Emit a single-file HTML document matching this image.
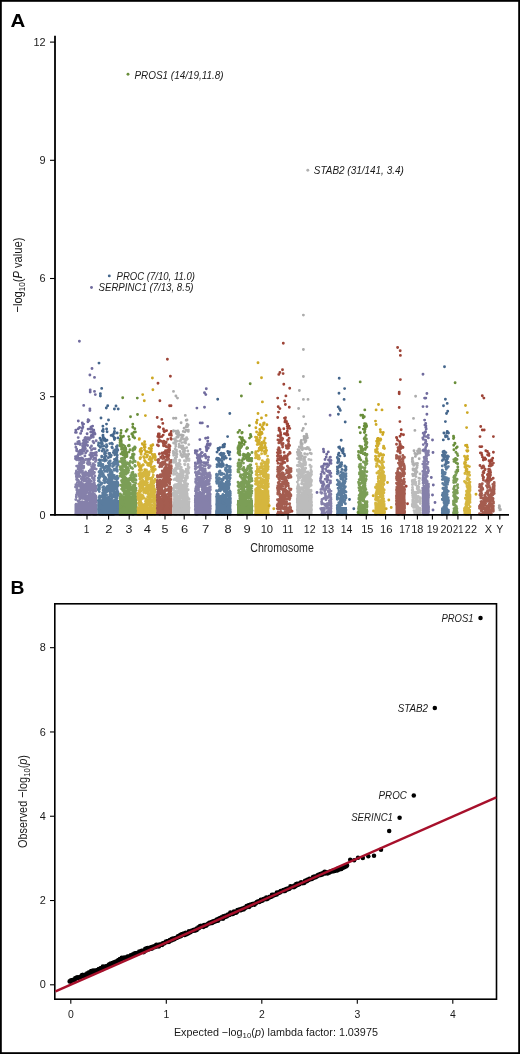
<!DOCTYPE html><html><head><meta charset="utf-8"><style>html,body{margin:0;padding:0;background:#fff;overflow:hidden}svg{display:block;will-change:transform}text{font-family:"Liberation Sans", sans-serif}</style></head><body>
<svg width="520" height="1054" viewBox="0 0 520 1054">
<rect x="0" y="0" width="520" height="1054" fill="#fff"/>
<text transform="translate(10.4,26.5) scale(1.1,1)" font-size="18.6" font-weight="bold" fill="#000">A</text>
<rect x="74.5" y="504.3" width="22.9" height="10.8" fill="#8580aa"/>
<rect x="97.4" y="499.9" width="21.6" height="15.2" fill="#5a7c9e"/>
<rect x="119.0" y="495.2" width="18.0" height="19.9" fill="#7b9e56"/>
<rect x="137.0" y="507.0" width="19.3" height="8.1" fill="#d5b63e"/>
<rect x="156.3" y="497.2" width="16.0" height="17.9" fill="#a45c4f"/>
<rect x="172.3" y="501.1" width="17.7" height="14.0" fill="#bcbcbc"/>
<rect x="194.3" y="495.2" width="17.0" height="19.9" fill="#8580aa"/>
<rect x="215.5" y="497.2" width="15.8" height="17.9" fill="#5a7c9e"/>
<rect x="237.0" y="499.9" width="16.0" height="15.2" fill="#7b9e56"/>
<rect x="254.5" y="490.1" width="14.8" height="25.0" fill="#d5b63e"/>
<rect x="296.3" y="494.0" width="16.2" height="21.1" fill="#bcbcbc"/>
<rect x="336.3" y="507.0" width="10.7" height="8.1" fill="#5a7c9e"/>
<rect x="357.5" y="509.0" width="10.5" height="6.1" fill="#7b9e56"/>
<rect x="374.5" y="503.1" width="11.0" height="12.0" fill="#d5b63e"/>
<rect x="395.5" y="486.1" width="10.0" height="29.0" fill="#a45c4f"/>
<rect x="421.8" y="487.3" width="7.7" height="27.8" fill="#8580aa"/>
<rect x="441.3" y="509.0" width="8.2" height="6.1" fill="#5a7c9e"/>
<rect x="463.5" y="509.0" width="7.5" height="6.1" fill="#d5b63e"/>
<path d="M94.8 514.4h0M93.5 514.4h0M86.2 514.4h0M77.5 514.4h0M79.0 514.4h0M77.4 514.3h0M80.0 514.3h0M88.4 514.4h0M89.6 514.4h0M89.0 514.4h0M76.1 513.9h0M93.1 513.9h0M92.3 512.3h0M85.1 514.0h0M88.4 513.9h0M85.9 511.6h0M80.3 513.6h0M91.5 513.6h0M83.6 513.3h0M83.6 513.3h0M84.1 514.4h0M80.8 514.3h0M77.0 513.1h0M77.2 511.7h0M82.5 512.9h0M78.0 512.8h0M78.3 513.2h0M78.2 511.8h0M84.9 512.9h0M84.8 511.9h0M77.9 512.4h0M78.1 513.8h0M79.7 511.8h0M94.0 512.5h0M93.3 512.3h0M95.8 514.4h0M80.9 511.8h0M81.7 512.1h0M87.7 512.0h0M83.3 512.0h0M84.4 511.4h0M93.6 511.7h0M94.8 514.4h0M80.7 511.7h0M80.6 507.4h0M81.5 514.4h0M81.7 510.0h0M77.7 511.3h0M78.4 511.0h0M80.9 511.0h0M80.2 510.2h0M81.6 513.6h0M80.3 510.7h0M88.3 510.8h0M88.9 510.2h0M89.1 511.0h0M88.0 511.1h0M83.2 510.3h0M83.1 510.2h0M89.2 510.3h0M88.8 509.8h0M89.4 510.4h0M90.5 508.8h0M89.4 510.2h0M88.5 508.7h0M89.1 508.7h0M89.6 510.3h0M90.9 509.4h0M90.8 506.6h0M94.6 509.6h0M93.8 506.1h0M95.3 508.3h0M95.1 506.2h0M88.6 509.2h0M87.4 508.0h0M88.9 508.6h0M90.7 508.8h0M90.6 506.5h0M88.9 510.1h0M92.2 510.3h0M92.0 509.3h0M80.3 508.3h0M78.9 508.4h0M80.9 508.6h0M80.4 511.2h0M81.0 509.6h0M82.1 507.1h0M78.9 509.9h0M80.2 511.0h0M84.5 507.9h0M93.9 507.7h0M93.1 506.9h0M94.7 509.2h0M94.9 504.7h0M93.3 503.4h0M79.0 507.2h0M80.0 507.3h0M85.8 507.3h0M87.3 503.0h0M77.1 507.4h0M77.3 507.0h0M87.4 506.9h0M87.5 506.6h0M88.1 508.4h0M92.8 506.9h0M76.5 506.4h0M88.7 506.4h0M89.6 502.1h0M79.7 506.4h0M79.7 506.7h0M78.1 506.9h0M81.2 506.1h0M86.4 506.0h0M86.4 504.2h0M86.9 502.2h0M95.0 505.6h0M85.0 505.6h0M83.4 505.6h0M84.7 503.4h0M84.4 504.9h0M83.0 504.6h0M83.1 502.3h0M90.5 505.4h0M92.8 502.4h0M91.7 505.0h0M82.2 504.7h0M82.8 503.4h0M83.1 505.7h0M80.6 503.7h0M76.1 504.3h0M77.8 505.6h0M82.5 504.3h0M78.6 504.5h0M93.0 504.4h0M94.1 503.7h0M93.4 504.1h0M86.5 504.1h0M88.8 504.1h0M89.6 502.1h0M88.5 505.7h0M94.3 503.8h0M95.9 500.0h0M93.0 503.4h0M94.7 505.9h0M88.1 503.5h0M89.3 503.0h0M92.2 503.3h0M90.7 503.4h0M86.8 503.3h0M94.8 503.0h0M94.3 503.1h0M93.1 504.3h0M95.7 501.8h0M94.5 504.0h0M93.1 500.2h0M96.0 505.2h0M79.6 502.6h0M82.2 502.5h0M81.9 502.0h0M82.2 501.6h0M80.7 502.2h0M79.7 501.8h0M84.1 502.1h0M79.8 502.0h0M86.6 501.6h0M85.1 499.3h0M86.7 504.5h0M94.4 501.8h0M93.5 505.5h0M95.1 508.1h0M94.8 501.1h0M90.7 501.4h0M92.9 501.3h0M78.1 501.3h0M78.1 501.0h0M78.6 503.9h0M80.4 498.8h0M86.1 500.8h0M89.8 501.0h0M90.3 501.4h0M87.0 500.5h0M78.6 500.6h0M79.1 503.9h0M94.9 500.7h0M96.4 502.4h0M93.2 501.4h0M94.3 502.5h0M93.8 500.5h0M94.7 500.5h0M94.3 497.4h0M95.3 502.5h0M94.8 498.8h0M95.1 501.7h0M75.8 499.6h0M76.3 496.9h0M88.7 499.4h0M87.7 498.1h0M90.4 499.0h0M88.5 503.3h0M91.8 498.8h0M90.0 501.0h0M92.9 496.9h0M91.5 499.0h0M91.4 498.3h0M90.9 500.7h0M82.9 498.5h0M80.4 498.4h0M79.9 497.0h0M87.4 498.5h0M84.1 503.4h0M86.4 496.4h0M96.0 498.3h0M94.7 496.4h0M95.9 500.2h0M79.6 497.8h0M80.8 497.6h0M86.1 497.6h0M83.1 495.1h0M92.4 497.9h0M91.0 496.2h0M94.6 499.1h0M85.4 497.5h0M88.3 497.5h0M89.3 496.9h0M88.0 497.0h0M87.7 499.6h0M81.4 496.9h0M81.4 497.2h0M76.4 497.1h0M83.7 496.4h0M83.7 495.8h0M86.1 496.1h0M94.4 496.6h0M95.8 496.7h0M93.5 496.1h0M85.3 496.0h0M85.8 493.8h0M86.3 497.7h0M79.8 496.4h0M79.3 496.2h0M89.5 495.8h0M89.4 498.2h0M91.8 495.8h0M94.2 495.7h0M80.5 495.5h0M81.9 493.6h0M79.8 494.3h0M89.8 495.4h0M88.7 495.3h0M89.0 496.6h0M94.6 494.9h0M95.0 495.0h0M94.5 496.7h0M94.3 494.3h0M94.3 494.7h0M95.9 496.3h0M93.3 494.1h0M93.8 496.3h0M82.7 494.5h0M77.1 494.4h0M77.6 492.0h0M77.1 493.1h0M76.4 495.0h0M83.2 494.2h0M84.1 494.0h0M81.6 493.3h0M84.1 493.2h0M77.5 493.7h0M77.2 493.8h0M89.8 493.5h0M89.9 492.8h0M89.3 493.6h0M90.6 493.4h0M78.5 493.5h0M83.2 493.2h0M82.8 490.9h0M85.2 491.1h0M84.7 492.9h0M84.4 494.4h0M82.8 495.4h0M85.3 492.1h0M84.0 494.2h0M83.8 492.7h0M87.3 492.5h0M93.0 492.2h0M93.7 494.9h0M81.4 492.4h0M80.1 492.2h0M79.0 490.5h0M80.3 489.8h0M82.5 493.3h0M77.3 492.0h0M77.1 488.2h0M78.5 493.3h0M78.3 494.4h0M80.6 491.6h0M80.8 489.4h0M80.7 489.8h0M95.7 491.0h0M86.7 491.0h0M86.2 487.1h0M92.8 491.0h0M93.9 488.4h0M94.1 490.5h0M93.3 488.8h0M93.6 487.3h0M93.1 491.4h0M91.0 490.5h0M79.0 490.4h0M81.6 490.1h0M82.4 490.7h0M89.0 490.2h0M76.8 489.9h0M94.5 490.1h0M95.0 490.8h0M80.4 489.8h0M80.2 490.0h0M80.1 491.1h0M82.0 489.5h0M82.5 487.6h0M81.9 493.2h0M82.7 489.5h0M83.8 488.9h0M82.7 490.0h0M84.4 488.4h0M81.7 490.9h0M81.2 488.5h0M80.8 487.4h0M85.4 488.7h0M90.4 488.7h0M90.7 489.5h0M90.1 489.9h0M91.2 487.1h0M96.2 488.4h0M95.7 488.2h0M96.2 488.3h0M93.2 487.8h0M93.9 488.5h0M93.1 487.0h0M92.1 488.0h0M87.8 487.4h0M87.2 490.4h0M85.8 489.4h0M89.3 489.2h0M88.1 489.6h0M87.2 487.2h0M88.2 486.0h0M77.1 487.2h0M90.4 486.8h0M90.3 486.0h0M85.2 486.5h0M85.9 484.2h0M83.4 486.6h0M87.3 486.4h0M96.2 486.2h0M88.4 486.4h0M86.8 486.4h0M83.7 485.9h0M79.7 485.8h0M95.2 485.9h0M82.4 485.8h0M82.9 486.4h0M83.7 487.3h0M79.3 485.6h0M80.0 483.5h0M79.9 486.3h0M78.1 485.2h0M94.7 485.2h0M89.0 485.0h0M89.4 483.4h0M84.1 484.9h0M90.1 484.6h0M90.5 482.0h0M75.9 484.8h0M75.5 487.0h0M83.4 484.4h0M92.7 484.3h0M93.7 486.9h0M93.8 483.0h0M92.0 486.0h0M90.4 483.8h0M90.4 483.8h0M91.2 487.9h0M79.6 483.7h0M79.7 486.1h0M82.4 483.4h0M81.7 484.9h0M84.3 486.8h0M94.4 483.2h0M87.2 483.3h0M89.8 480.3h0M88.1 482.9h0M88.4 481.6h0M88.7 482.1h0M86.4 481.4h0M86.9 482.6h0M79.3 482.2h0M89.3 482.5h0M88.5 479.9h0M88.3 484.1h0M89.3 482.2h0M89.6 484.4h0M89.9 483.9h0M79.1 481.6h0M79.0 483.9h0M88.9 481.8h0M78.5 481.0h0M77.6 479.8h0M77.3 482.4h0M91.3 481.1h0M88.1 481.6h0M92.4 478.1h0M84.6 480.8h0M85.6 479.6h0M84.5 480.3h0M84.4 480.8h0M94.3 480.3h0M92.9 478.6h0M93.8 482.6h0M78.1 480.1h0M83.8 480.2h0M83.4 478.1h0M81.9 479.7h0M76.9 479.5h0M89.4 479.5h0M87.8 481.0h0M89.7 482.4h0M87.4 477.9h0M90.9 481.3h0M90.3 481.1h0M89.4 479.5h0M81.8 478.9h0M94.2 478.3h0M83.0 478.4h0M83.2 478.6h0M81.9 478.5h0M84.5 476.5h0M81.3 478.7h0M81.3 482.4h0M82.5 477.7h0M82.9 477.7h0M83.9 480.9h0M83.6 477.6h0M82.5 476.8h0M76.6 477.4h0M76.4 475.9h0M78.2 475.3h0M76.4 476.5h0M75.8 473.4h0M77.2 477.0h0M76.6 479.6h0M79.3 476.6h0M92.0 476.5h0M90.9 473.4h0M91.4 475.8h0M94.9 476.0h0M88.9 476.3h0M84.7 475.7h0M84.4 475.6h0M84.0 474.8h0M84.7 478.9h0M85.4 476.5h0M84.7 474.3h0M84.5 477.9h0M85.5 479.2h0M85.0 475.6h0M91.2 475.0h0M92.2 474.0h0M87.1 474.5h0M89.3 474.4h0M86.1 474.0h0M85.6 472.0h0M79.1 474.0h0M79.8 476.1h0M79.2 475.9h0M79.4 470.9h0M79.3 472.7h0M78.4 474.1h0M78.1 473.0h0M88.0 473.2h0M93.7 473.1h0M93.8 473.3h0M84.6 473.0h0M84.4 476.2h0M94.5 472.5h0M92.0 472.6h0M92.6 473.9h0M82.1 472.1h0M81.0 472.1h0M82.6 473.9h0M80.8 471.9h0M92.9 471.6h0M93.8 472.3h0M92.4 472.6h0M76.4 471.4h0M76.6 466.1h0M77.1 472.9h0M76.4 470.9h0M76.5 475.1h0M77.0 472.8h0M76.1 473.2h0M76.6 471.6h0M91.4 470.1h0M91.5 471.5h0M90.7 469.7h0M89.2 471.1h0M90.8 471.3h0M92.8 469.8h0M92.4 470.5h0M91.2 469.6h0M90.6 472.4h0M92.3 468.3h0M92.3 468.8h0M89.9 472.2h0M91.8 468.7h0M79.3 468.6h0M79.8 468.3h0M82.0 468.2h0M83.5 468.1h0M79.8 467.9h0M81.2 469.1h0M79.3 469.0h0M80.4 468.0h0M83.7 467.3h0M81.1 467.5h0M82.5 471.0h0M80.0 469.8h0M94.4 467.2h0M94.0 468.8h0M96.2 469.1h0M91.6 466.6h0M83.7 466.3h0M78.7 466.2h0M82.0 465.9h0M78.4 465.8h0M78.2 468.7h0M78.6 465.6h0M78.3 468.4h0M77.8 466.6h0M80.2 465.1h0M79.8 466.2h0M80.4 465.2h0M79.4 463.4h0M81.2 460.6h0M89.5 464.1h0M89.9 464.2h0M93.6 464.4h0M93.3 463.8h0M92.7 465.2h0M94.6 465.0h0M93.1 466.2h0M93.5 465.4h0M92.7 465.6h0M89.4 463.2h0M82.6 463.1h0M87.7 462.6h0M90.1 462.9h0M89.4 464.0h0M84.0 462.5h0M87.7 462.3h0M87.4 463.5h0M82.8 461.8h0M81.0 461.4h0M81.4 463.3h0M95.4 461.6h0M93.3 459.6h0M88.6 461.1h0M87.7 462.1h0M88.3 464.4h0M83.5 460.2h0M84.0 460.4h0M82.6 460.1h0M81.7 464.0h0M83.9 461.1h0M89.7 459.6h0M86.9 459.6h0M85.8 459.5h0M96.4 460.3h0M78.9 460.3h0M76.6 459.7h0M197.0 514.4h0M197.8 514.1h0M207.5 514.4h0M206.1 514.4h0M207.9 514.4h0M196.3 514.4h0M206.5 514.3h0M207.4 514.4h0M206.2 514.4h0M207.1 513.0h0M207.7 513.8h0M200.3 513.4h0M203.1 514.4h0M200.3 512.7h0M207.2 513.0h0M204.6 513.0h0M209.2 513.0h0M209.4 513.7h0M209.8 512.1h0M209.6 512.8h0M209.7 511.5h0M209.1 512.7h0M209.2 512.1h0M209.4 513.0h0M204.5 512.4h0M204.8 514.4h0M203.2 512.5h0M205.4 512.8h0M202.7 513.1h0M204.6 513.0h0M203.8 512.1h0M205.0 512.6h0M201.7 511.2h0M201.6 510.7h0M202.7 511.3h0M200.4 511.2h0M201.5 510.5h0M200.5 513.2h0M202.3 511.0h0M200.2 511.8h0M201.1 510.5h0M201.3 512.1h0M200.9 510.2h0M202.3 509.2h0M201.9 508.6h0M205.5 510.1h0M208.7 509.6h0M208.7 509.0h0M207.4 508.4h0M209.1 509.3h0M206.7 509.1h0M209.9 509.4h0M210.2 508.7h0M205.2 509.4h0M199.9 508.7h0M199.3 507.9h0M200.5 504.8h0M196.7 508.4h0M197.7 509.2h0M196.5 510.6h0M197.8 506.2h0M196.2 508.0h0M195.3 509.5h0M196.2 507.9h0M196.7 506.8h0M204.6 507.6h0M207.3 507.6h0M207.7 503.9h0M206.5 507.5h0M206.2 504.7h0M207.0 505.2h0M208.2 510.1h0M206.0 505.9h0M195.9 506.9h0M195.4 506.3h0M201.4 506.6h0M202.0 506.3h0M196.8 506.5h0M196.8 506.5h0M196.4 503.7h0M195.5 506.1h0M205.3 506.2h0M206.1 505.8h0M200.9 505.7h0M200.1 506.6h0M209.0 505.6h0M208.2 502.4h0M209.9 506.9h0M210.3 506.1h0M197.4 504.9h0M196.5 503.3h0M198.3 505.5h0M196.6 507.0h0M197.7 504.4h0M202.2 504.5h0M202.6 506.3h0M205.4 504.1h0M199.0 504.2h0M199.6 506.9h0M200.0 501.1h0M197.5 503.9h0M198.2 505.9h0M208.4 503.7h0M196.9 503.7h0M197.8 508.5h0M200.6 503.4h0M202.8 503.4h0M204.3 502.8h0M203.5 504.9h0M203.5 505.1h0M198.0 502.8h0M198.2 501.5h0M199.1 503.5h0M196.6 502.6h0M198.0 501.2h0M198.5 500.1h0M198.0 504.1h0M196.1 503.9h0M198.9 501.2h0M202.7 501.6h0M204.3 502.0h0M203.7 501.2h0M204.7 502.5h0M199.0 501.3h0M198.7 504.3h0M198.6 500.5h0M199.6 502.5h0M197.3 502.4h0M200.2 500.5h0M199.9 502.3h0M196.5 500.5h0M196.3 503.1h0M196.6 501.1h0M197.0 502.6h0M195.3 502.2h0M196.8 503.1h0M195.7 499.7h0M196.0 501.4h0M195.6 502.8h0M195.6 504.9h0M195.9 501.2h0M195.4 499.0h0M200.3 499.3h0M204.1 499.0h0M201.5 497.0h0M203.8 499.7h0M205.2 499.5h0M209.4 498.5h0M209.5 500.2h0M209.7 500.4h0M209.4 498.0h0M208.7 498.3h0M208.1 496.3h0M200.5 498.0h0M201.3 498.1h0M201.4 500.2h0M204.3 497.9h0M205.7 499.8h0M209.1 497.4h0M208.2 496.3h0M209.7 496.3h0M207.1 497.0h0M206.7 497.4h0M202.8 497.0h0M203.3 498.6h0M202.4 497.9h0M202.2 498.3h0M202.6 496.4h0M204.7 496.8h0M203.9 497.1h0M195.9 496.0h0M196.3 495.9h0M195.3 500.3h0M206.4 495.7h0M202.5 495.9h0M196.5 495.3h0M197.8 495.7h0M195.3 496.0h0M198.4 495.1h0M201.0 495.0h0M199.5 496.3h0M202.4 494.6h0M203.6 494.6h0M200.1 494.6h0M199.7 492.3h0M198.8 494.7h0M200.2 495.4h0M199.0 495.5h0M201.3 494.3h0M203.4 493.3h0M201.8 497.7h0M196.1 493.7h0M209.3 493.8h0M210.2 494.3h0M198.8 493.4h0M199.0 496.0h0M200.4 493.6h0M201.1 492.8h0M196.4 492.8h0M203.8 493.0h0M202.4 493.7h0M204.0 492.1h0M203.1 494.7h0M196.9 492.6h0M207.5 492.3h0M206.0 496.9h0M208.1 490.1h0M208.0 492.8h0M207.5 490.6h0M207.2 491.4h0M207.0 490.3h0M207.9 492.9h0M207.5 494.1h0M209.5 491.6h0M209.9 493.7h0M195.4 491.1h0M205.1 491.1h0M206.0 491.9h0M196.4 490.5h0M209.6 490.6h0M208.7 489.2h0M208.8 490.3h0M210.3 489.1h0M210.3 489.7h0M204.9 490.2h0M198.6 490.0h0M198.2 489.3h0M202.2 489.8h0M201.9 493.7h0M202.4 495.3h0M203.7 490.9h0M209.4 489.4h0M203.5 489.0h0M203.3 490.7h0M203.3 488.4h0M198.3 489.2h0M195.7 488.7h0M206.4 488.5h0M205.2 487.0h0M209.7 488.3h0M210.3 486.9h0M209.0 488.7h0M209.7 487.0h0M209.3 490.1h0M207.6 488.1h0M208.7 487.8h0M198.6 487.6h0M198.8 487.6h0M196.1 487.4h0M196.4 489.9h0M197.8 487.7h0M196.4 487.1h0M198.0 486.8h0M195.7 489.4h0M196.7 487.5h0M197.0 488.0h0M196.4 486.9h0M196.2 486.5h0M201.7 486.5h0M202.1 485.7h0M201.7 487.0h0M202.2 484.8h0M203.0 485.8h0M204.4 483.9h0M205.7 485.7h0M206.5 484.0h0M200.3 485.4h0M197.1 485.4h0M203.9 485.2h0M203.9 486.8h0M202.6 485.1h0M202.1 484.2h0M204.5 482.8h0M202.8 485.5h0M202.5 484.1h0M203.4 483.5h0M199.4 484.3h0M199.4 484.6h0M208.4 484.3h0M206.5 485.0h0M198.5 484.0h0M196.7 483.9h0M205.1 483.7h0M207.0 481.5h0M198.3 483.6h0M201.1 483.5h0M208.8 483.1h0M209.4 480.8h0M209.3 483.7h0M196.9 482.9h0M206.4 482.8h0M205.1 482.1h0M206.0 481.1h0M203.1 482.4h0M202.2 482.4h0M199.6 482.2h0M199.3 479.7h0M199.0 482.2h0M200.0 482.0h0M195.6 481.8h0M199.8 481.6h0M200.4 481.7h0M199.0 481.9h0M201.5 479.8h0M202.3 483.5h0M200.8 481.2h0M201.4 478.1h0M201.7 478.2h0M199.9 484.1h0M200.8 478.3h0M208.6 480.4h0M206.8 483.3h0M196.9 480.3h0M195.7 482.6h0M207.0 480.0h0M206.5 481.9h0M205.6 482.0h0M206.6 481.7h0M207.1 479.1h0M203.6 479.6h0M203.3 478.3h0M204.7 478.0h0M203.3 480.2h0M195.8 479.3h0M195.8 479.0h0M198.6 479.0h0M196.9 479.0h0M200.9 478.4h0M201.1 481.0h0M201.7 478.6h0M210.3 478.2h0M204.5 478.2h0M198.7 478.2h0M200.3 477.7h0M201.0 477.5h0M200.4 473.9h0M200.2 478.2h0M197.8 474.3h0M205.5 477.1h0M197.2 476.7h0M196.1 480.3h0M197.1 476.9h0M196.8 478.4h0M208.8 476.5h0M208.0 474.2h0M207.2 477.4h0M206.4 472.9h0M209.5 472.9h0M202.3 475.8h0M196.4 475.6h0M203.7 475.2h0M203.9 471.6h0M196.8 475.3h0M210.1 475.0h0M210.3 476.0h0M206.5 474.9h0M206.6 474.6h0M196.4 474.4h0M205.9 473.9h0M206.0 473.9h0M206.7 475.5h0M205.0 473.8h0M199.3 473.5h0M201.6 473.6h0M201.4 470.4h0M199.9 473.4h0M198.3 473.4h0M199.7 477.3h0M200.5 474.3h0M198.0 472.7h0M195.4 472.5h0M197.5 472.1h0M196.4 473.2h0M202.8 472.3h0M202.5 473.2h0M203.4 471.4h0M203.8 473.2h0M201.9 475.0h0M198.7 471.0h0M203.0 470.8h0M204.1 471.2h0M203.7 470.4h0M202.7 470.6h0M205.3 470.4h0M204.1 471.9h0M204.1 469.5h0M203.4 469.7h0M195.5 469.3h0M195.3 466.2h0M205.2 469.1h0M203.8 472.5h0M204.3 472.7h0M202.2 468.4h0M203.1 468.8h0M202.7 469.4h0M200.6 466.8h0M209.2 467.6h0M208.6 467.7h0M197.5 467.4h0M199.8 467.3h0M199.5 466.6h0M199.6 465.9h0M200.4 469.1h0M201.8 468.1h0M210.1 466.0h0M204.2 465.7h0M205.2 466.1h0M203.6 465.8h0M203.9 465.9h0M208.2 464.9h0M195.5 464.5h0M195.9 464.7h0M195.3 468.8h0M200.5 463.9h0M201.4 464.8h0M206.2 464.5h0M327.8 514.4h0M328.5 514.2h0M321.8 514.3h0M323.7 514.4h0M322.6 513.7h0M322.4 514.4h0M330.3 513.8h0M330.7 512.9h0M324.0 513.7h0M323.5 512.1h0M325.0 513.6h0M324.7 512.9h0M330.8 512.6h0M331.0 511.5h0M324.1 512.5h0M330.1 512.3h0M322.1 511.9h0M322.8 511.7h0M327.9 511.4h0M327.0 511.7h0M328.8 511.3h0M322.2 511.1h0M330.7 510.9h0M322.2 510.6h0M321.0 509.3h0M323.6 508.2h0M322.2 510.1h0M328.7 509.9h0M324.2 509.9h0M330.7 509.4h0M331.0 508.5h0M322.0 509.2h0M322.1 509.0h0M329.4 508.9h0M320.7 508.6h0M322.9 508.6h0M321.9 508.5h0M322.3 509.8h0M326.5 508.2h0M330.0 507.8h0M330.7 507.0h0M329.7 509.7h0M328.0 507.2h0M328.8 509.1h0M327.7 507.7h0M328.1 504.9h0M327.0 503.8h0M327.2 506.4h0M325.7 506.2h0M327.3 506.4h0M327.2 506.5h0M330.9 505.1h0M324.7 504.8h0M330.4 504.9h0M331.0 506.4h0M326.1 504.3h0M321.8 504.0h0M321.6 501.8h0M323.3 503.6h0M322.2 503.7h0M322.3 503.8h0M321.7 503.1h0M330.3 502.9h0M330.3 502.9h0M330.6 504.6h0M331.0 505.6h0M331.0 503.5h0M330.8 501.5h0M330.8 501.4h0M331.0 503.2h0M330.4 504.9h0M329.4 500.6h0M328.7 503.3h0M330.5 502.1h0M329.5 501.6h0M330.8 503.2h0M331.0 499.5h0M322.0 499.5h0M326.0 499.1h0M326.0 499.8h0M325.0 497.7h0M326.1 497.1h0M323.9 498.3h0M325.5 495.6h0M327.5 497.7h0M328.8 497.4h0M326.4 496.8h0M330.4 497.1h0M330.5 496.1h0M330.1 496.3h0M330.0 495.0h0M330.3 496.4h0M330.0 495.8h0M329.0 495.7h0M330.9 498.1h0M329.4 494.7h0M329.8 494.5h0M330.1 497.3h0M330.3 494.0h0M325.5 493.8h0M324.7 493.6h0M324.7 491.1h0M329.3 492.7h0M321.8 492.8h0M320.8 492.4h0M320.9 489.6h0M321.6 493.3h0M329.7 491.5h0M328.5 488.1h0M328.5 492.0h0M329.6 489.8h0M331.0 491.1h0M328.3 491.3h0M329.1 496.8h0M330.9 494.2h0M325.7 488.9h0M326.4 488.8h0M325.9 489.6h0M325.1 489.6h0M322.7 487.7h0M323.2 487.4h0M322.8 487.5h0M321.7 488.7h0M322.8 489.2h0M328.2 487.3h0M326.1 486.8h0M427.8 514.4h0M428.5 511.6h0M427.7 511.3h0M426.6 514.4h0M424.1 513.3h0M423.9 514.4h0M424.2 512.8h0M424.4 514.4h0M424.8 514.4h0M423.9 513.1h0M424.5 514.4h0M425.6 510.5h0M424.8 513.0h0M427.7 510.8h0M426.9 511.4h0M424.8 510.5h0M425.6 509.8h0M428.4 509.5h0M428.5 507.1h0M428.3 509.1h0M428.3 509.1h0M428.5 508.0h0M427.9 508.2h0M427.7 506.4h0M425.7 508.1h0M428.5 507.8h0M428.4 506.4h0M428.5 507.1h0M428.4 506.6h0M423.0 506.0h0M424.2 508.5h0M424.2 505.5h0M425.5 507.8h0M425.7 506.9h0M423.3 501.1h0M423.4 505.2h0M424.6 506.9h0M425.0 504.1h0M427.9 503.8h0M424.4 503.3h0M424.3 502.9h0M423.5 506.2h0M425.9 502.4h0M425.3 502.9h0M426.0 501.4h0M427.1 503.7h0M423.9 501.4h0M423.0 498.4h0M424.5 500.5h0M424.9 502.3h0M424.9 500.2h0M426.9 501.2h0M424.8 506.1h0M425.8 499.3h0M425.4 502.8h0M426.1 498.7h0M427.1 500.7h0M426.7 499.8h0M428.0 497.9h0M428.2 497.4h0M428.5 495.3h0M425.0 497.1h0M426.1 496.3h0M425.7 496.1h0M425.4 494.3h0M427.2 495.8h0M428.2 495.7h0M428.4 497.1h0M425.8 491.9h0M426.3 494.7h0M425.7 494.8h0M425.9 495.8h0M428.1 493.6h0M427.8 496.6h0M427.4 491.2h0M426.9 492.8h0M425.5 492.5h0M424.4 495.4h0M426.5 491.9h0M427.7 491.9h0M428.0 490.9h0M423.3 491.2h0M422.8 490.7h0M422.8 493.2h0M426.8 490.2h0M425.5 490.2h0M423.1 489.5h0M424.3 488.8h0M423.4 489.2h0M422.8 488.1h0M423.8 488.1h0M424.1 487.2h0M424.7 487.7h0M426.4 487.4h0M424.0 487.0h0M423.7 485.7h0M423.1 483.1h0M424.4 487.8h0M426.2 486.1h0M427.3 485.9h0M428.4 485.6h0M425.8 486.1h0M428.5 486.8h0M428.5 484.1h0M427.0 484.2h0M427.2 483.8h0M426.4 484.2h0M425.9 482.3h0M426.4 484.7h0M426.8 485.8h0M425.0 482.7h0M425.2 480.6h0M425.8 483.1h0M423.3 482.2h0M427.2 481.5h0M425.3 481.1h0M425.1 481.5h0M424.4 480.5h0M426.5 480.6h0M422.9 480.0h0M423.2 479.0h0M423.1 479.3h0M423.9 479.2h0M426.0 480.1h0M423.0 478.0h0M424.0 481.5h0M424.5 478.2h0M426.0 477.6h0M425.4 480.6h0M425.7 477.3h0M425.9 476.7h0M425.6 478.4h0M427.2 476.2h0M423.4 475.2h0M423.2 475.7h0M425.0 475.1h0M423.7 474.8h0M424.2 474.6h0M422.8 471.4h0M422.8 471.6h0M423.0 479.1h0M423.5 473.9h0M426.2 473.3h0M427.0 473.0h0M427.9 472.7h0M426.5 475.1h0M427.1 472.0h0M424.5 471.7h0M424.3 471.5h0M428.3 470.8h0M428.5 470.9h0M424.6 470.4h0M424.2 469.2h0M425.7 472.6h0M428.1 469.5h0M428.0 469.1h0M427.6 468.4h0M424.8 468.3h0M424.7 468.7h0M427.9 467.8h0M423.8 467.2h0M424.2 466.9h0M426.5 466.7h0M424.3 466.1h0M425.3 466.0h0M425.2 465.2h0M422.8 464.1h0M425.1 468.7h0M427.4 463.9h0M423.8 463.9h0M424.4 465.4h0M424.5 465.6h0M424.0 462.3h0M428.0 462.1h0M426.7 460.9h0M425.2 461.0h0M424.8 460.8h0M424.6 460.7h0M425.6 460.9h0M424.9 463.5h0M423.7 461.6h0M426.6 458.8h0M424.9 458.1h0M424.5 459.1h0M425.8 457.2h0M424.1 457.5h0M425.9 453.2h0M426.0 455.5h0M426.6 456.2h0M426.5 454.4h0M426.9 453.6h0M428.0 453.5h0M428.5 450.9h0M428.5 454.9h0M427.6 451.6h0M428.3 452.3h0M423.1 450.5h0M423.4 450.1h0M425.6 450.8h0M424.4 451.1h0M427.5 451.2h0M423.5 450.7h0" stroke="#8580aa" stroke-width="2.9" stroke-linecap="round" fill="none"/>
<path d="M112.0 514.4h0M106.5 514.4h0M103.3 514.4h0M102.3 514.4h0M104.1 512.8h0M102.9 514.4h0M103.7 514.3h0M105.7 514.2h0M105.1 514.2h0M105.4 514.0h0M104.4 512.6h0M107.5 514.0h0M110.3 513.7h0M113.4 512.9h0M108.8 514.4h0M112.1 513.3h0M113.2 514.1h0M110.9 514.4h0M117.8 513.6h0M101.2 513.2h0M100.0 513.3h0M99.2 511.2h0M100.0 511.9h0M112.7 513.0h0M113.5 514.4h0M114.7 513.4h0M114.7 511.7h0M105.3 512.7h0M100.6 512.2h0M100.2 514.3h0M109.5 512.5h0M108.4 512.4h0M103.2 512.4h0M103.9 512.8h0M102.0 513.1h0M101.4 513.3h0M115.1 512.1h0M108.7 512.0h0M107.2 509.7h0M109.7 511.6h0M109.3 512.1h0M109.4 509.3h0M108.6 511.0h0M108.5 511.9h0M109.3 513.0h0M111.0 511.0h0M112.0 511.6h0M111.7 511.7h0M112.7 513.6h0M110.4 512.9h0M109.8 507.9h0M112.2 510.3h0M116.1 510.4h0M115.6 513.2h0M105.6 510.4h0M105.4 510.4h0M105.1 510.6h0M99.6 510.0h0M98.7 509.4h0M99.7 510.8h0M99.0 511.1h0M102.9 509.5h0M102.8 509.5h0M117.3 509.8h0M115.2 507.2h0M110.1 509.6h0M110.3 509.2h0M108.2 509.2h0M99.5 509.3h0M99.4 510.8h0M99.8 507.5h0M106.3 508.9h0M106.1 508.2h0M108.2 508.5h0M105.9 510.3h0M113.8 508.3h0M115.4 509.4h0M115.2 509.1h0M111.7 507.0h0M98.9 508.2h0M98.9 505.9h0M100.5 508.3h0M111.7 507.8h0M112.1 507.5h0M107.0 507.9h0M106.3 509.3h0M106.6 508.3h0M106.3 510.6h0M100.7 507.5h0M109.1 507.4h0M109.8 508.4h0M110.4 506.7h0M102.5 507.3h0M100.7 506.5h0M104.0 509.8h0M102.3 507.3h0M101.7 508.0h0M101.5 503.6h0M111.9 506.9h0M112.0 506.0h0M101.7 506.4h0M101.9 508.0h0M102.2 507.8h0M108.6 506.1h0M106.9 504.5h0M109.8 506.0h0M104.8 506.0h0M104.9 507.4h0M104.7 503.6h0M104.8 506.6h0M105.3 504.4h0M104.6 504.1h0M103.9 504.4h0M107.0 505.4h0M107.9 505.4h0M108.0 504.5h0M115.0 505.4h0M109.5 504.8h0M109.2 505.7h0M111.2 503.9h0M100.3 504.7h0M100.5 505.9h0M99.0 504.2h0M101.6 506.8h0M116.0 504.3h0M115.7 502.7h0M112.5 504.5h0M113.5 502.3h0M112.4 505.9h0M113.7 504.8h0M112.5 506.0h0M112.5 505.5h0M111.7 504.7h0M103.8 503.7h0M101.5 503.5h0M102.4 501.6h0M100.0 502.7h0M100.1 503.0h0M103.1 502.0h0M99.5 503.1h0M113.8 503.4h0M105.7 502.8h0M106.8 502.1h0M105.2 503.0h0M105.7 502.7h0M111.3 502.7h0M111.7 502.2h0M110.8 502.3h0M112.1 502.5h0M111.5 502.2h0M111.1 502.1h0M109.6 501.9h0M115.2 502.0h0M114.8 501.9h0M114.5 501.8h0M105.3 501.7h0M105.9 504.4h0M107.9 501.9h0M106.7 502.1h0M109.4 501.5h0M109.1 503.0h0M108.7 497.4h0M111.8 500.8h0M111.2 499.8h0M109.6 501.3h0M108.1 501.6h0M108.9 499.2h0M116.7 501.1h0M114.2 500.5h0M100.6 500.4h0M98.9 500.7h0M99.6 498.3h0M98.4 500.4h0M99.0 497.4h0M99.3 500.7h0M99.6 496.0h0M99.4 499.1h0M105.2 500.3h0M103.5 499.7h0M102.7 499.4h0M103.0 497.9h0M115.7 499.9h0M103.4 499.7h0M104.9 499.4h0M104.5 498.3h0M104.2 499.2h0M105.4 498.6h0M104.3 499.0h0M111.6 498.8h0M111.2 498.6h0M111.7 497.5h0M106.5 498.8h0M105.4 498.4h0M106.0 498.7h0M106.4 495.6h0M105.1 501.4h0M105.4 499.7h0M104.6 497.1h0M104.2 499.2h0M107.2 498.9h0M105.7 499.1h0M106.5 498.2h0M106.6 502.2h0M116.6 497.8h0M117.1 497.4h0M116.1 493.6h0M116.8 498.7h0M115.7 494.5h0M116.3 493.5h0M115.7 498.3h0M103.8 497.2h0M102.0 497.0h0M104.4 497.1h0M108.7 497.0h0M113.3 497.0h0M113.7 496.7h0M99.9 496.7h0M116.5 496.6h0M117.0 497.9h0M115.7 496.0h0M117.4 496.2h0M115.9 494.1h0M116.8 496.5h0M118.0 494.5h0M113.3 496.2h0M101.6 495.9h0M102.6 496.0h0M102.9 499.1h0M101.1 496.0h0M102.0 495.6h0M101.9 496.1h0M110.5 495.4h0M110.6 495.5h0M109.3 498.4h0M106.6 495.0h0M105.7 495.4h0M103.0 494.8h0M104.2 491.9h0M103.6 496.7h0M103.8 494.7h0M103.7 497.4h0M109.8 494.7h0M104.0 494.8h0M103.6 493.2h0M102.9 494.0h0M105.0 493.8h0M103.9 494.8h0M103.2 494.8h0M110.8 493.8h0M111.8 495.0h0M111.0 493.6h0M110.8 495.5h0M114.1 493.9h0M114.0 493.5h0M115.0 492.3h0M112.9 494.5h0M115.1 492.8h0M104.1 492.9h0M103.2 492.9h0M102.6 492.9h0M117.6 492.9h0M116.9 489.9h0M117.1 489.7h0M117.8 491.8h0M104.4 492.7h0M104.5 492.6h0M103.4 492.6h0M104.7 490.4h0M116.7 492.2h0M118.0 493.2h0M118.0 495.4h0M117.3 491.1h0M117.3 494.7h0M117.7 491.8h0M118.0 493.9h0M118.0 493.1h0M113.8 491.3h0M111.6 489.5h0M113.0 489.7h0M105.3 491.6h0M114.0 491.6h0M113.6 491.0h0M112.7 490.8h0M113.5 492.1h0M111.8 490.9h0M110.7 494.5h0M112.5 490.1h0M110.5 490.5h0M110.7 488.9h0M110.3 492.6h0M110.3 490.5h0M111.3 488.8h0M108.9 491.0h0M110.5 491.7h0M103.1 490.3h0M103.4 490.6h0M108.7 489.7h0M106.5 489.9h0M106.6 491.9h0M107.0 489.7h0M111.8 489.4h0M110.5 488.5h0M116.1 489.6h0M112.7 488.0h0M115.4 489.4h0M116.1 489.0h0M116.8 491.4h0M115.9 492.4h0M104.7 489.0h0M103.7 486.7h0M103.6 489.5h0M107.7 488.5h0M99.5 488.9h0M99.3 491.6h0M99.0 489.2h0M98.4 489.9h0M99.5 487.0h0M111.7 488.3h0M113.3 489.1h0M112.0 488.7h0M98.7 488.1h0M98.4 489.4h0M117.1 487.8h0M109.9 487.6h0M110.4 487.5h0M102.7 487.4h0M106.4 487.6h0M107.0 486.7h0M112.3 487.1h0M111.6 488.6h0M111.4 487.6h0M111.5 485.8h0M113.5 486.7h0M115.6 486.7h0M114.1 489.4h0M113.8 486.8h0M113.0 484.2h0M113.3 489.5h0M115.2 486.0h0M113.3 485.1h0M113.4 485.7h0M114.0 484.5h0M114.7 486.6h0M98.7 486.0h0M98.8 484.6h0M98.4 485.1h0M117.9 485.7h0M118.0 485.3h0M114.5 485.4h0M113.5 486.9h0M113.3 485.1h0M112.7 484.4h0M113.0 482.8h0M117.7 485.3h0M117.9 483.7h0M117.0 484.8h0M115.9 483.9h0M116.4 484.9h0M115.9 484.3h0M115.5 487.5h0M101.3 484.3h0M100.1 484.9h0M109.6 484.2h0M108.5 486.6h0M110.3 484.9h0M109.0 481.6h0M110.0 482.6h0M109.4 485.9h0M109.3 484.1h0M108.5 486.1h0M110.1 485.4h0M111.2 481.2h0M101.9 483.3h0M114.0 483.1h0M108.0 483.1h0M114.4 482.6h0M112.2 482.7h0M115.6 482.9h0M104.6 482.8h0M105.1 480.7h0M117.7 482.5h0M118.0 485.0h0M117.3 482.5h0M106.9 481.9h0M108.1 480.5h0M105.4 481.9h0M115.7 481.9h0M105.5 481.7h0M99.3 481.5h0M101.1 482.9h0M98.4 480.9h0M99.3 481.3h0M110.2 481.1h0M110.6 481.4h0M111.7 481.4h0M110.5 482.4h0M109.4 478.7h0M109.7 482.9h0M109.8 483.3h0M109.6 482.4h0M110.2 482.6h0M98.7 480.5h0M103.7 480.6h0M104.3 478.9h0M104.5 479.9h0M104.6 477.4h0M112.0 479.6h0M111.1 480.6h0M110.8 479.6h0M108.8 479.5h0M109.4 478.7h0M104.3 479.4h0M110.6 479.3h0M111.3 482.7h0M111.3 477.0h0M110.0 476.6h0M106.2 478.8h0M108.4 475.0h0M114.8 478.6h0M114.8 483.4h0M113.6 478.0h0M114.0 482.0h0M111.7 478.0h0M117.9 478.3h0M106.0 478.0h0M109.4 477.5h0M113.3 477.6h0M112.8 477.1h0M116.0 477.2h0M116.3 479.1h0M105.0 477.2h0M104.9 477.0h0M111.3 477.0h0M113.3 476.9h0M109.3 477.0h0M108.8 476.0h0M110.0 474.4h0M109.4 476.4h0M111.1 477.7h0M109.8 478.0h0M109.9 477.2h0M117.2 476.2h0M117.1 479.5h0M110.8 475.7h0M99.3 475.7h0M98.4 477.9h0M99.2 478.5h0M99.7 477.6h0M100.0 475.4h0M98.9 479.6h0M99.7 475.0h0M99.8 476.5h0M100.6 472.7h0M111.5 474.5h0M110.3 476.4h0M111.2 474.5h0M110.5 474.6h0M111.2 474.4h0M114.3 475.4h0M110.9 475.6h0M112.3 476.4h0M101.9 473.7h0M100.2 473.7h0M101.3 473.2h0M102.5 476.4h0M103.7 475.4h0M102.1 473.0h0M110.5 472.8h0M110.7 470.0h0M112.3 473.9h0M110.9 473.7h0M99.0 472.0h0M100.1 472.3h0M110.2 472.0h0M110.7 472.2h0M110.0 473.1h0M110.7 472.8h0M101.7 471.5h0M100.8 471.1h0M102.5 473.4h0M106.0 471.0h0M107.3 471.6h0M105.0 471.2h0M109.9 470.6h0M107.6 469.5h0M110.6 471.9h0M109.7 468.9h0M109.3 466.8h0M104.0 470.3h0M113.8 469.7h0M114.3 469.2h0M112.2 471.9h0M100.6 469.2h0M100.5 465.6h0M99.7 471.1h0M116.0 469.0h0M118.0 464.7h0M116.8 466.7h0M116.5 468.7h0M114.9 470.3h0M117.2 471.3h0M117.3 469.9h0M104.7 468.2h0M107.2 467.7h0M103.6 467.9h0M103.3 466.8h0M103.9 466.9h0M102.7 467.3h0M103.6 467.9h0M104.4 467.9h0M103.1 473.4h0M103.3 467.4h0M103.4 466.6h0M112.6 466.5h0M113.5 465.8h0M106.2 466.3h0M107.5 466.2h0M108.5 468.7h0M108.1 465.9h0M101.6 465.6h0M101.0 466.2h0M109.6 465.4h0M110.0 465.3h0M109.8 465.7h0M114.6 464.6h0M112.7 463.5h0M100.6 464.6h0M102.9 464.5h0M99.7 464.3h0M110.2 463.7h0M100.8 463.8h0M115.7 463.9h0M114.0 462.1h0M113.6 463.0h0M98.6 463.1h0M98.5 465.5h0M108.4 462.9h0M109.3 464.7h0M117.8 462.2h0M117.5 464.1h0M116.0 462.1h0M116.4 461.9h0M115.5 463.1h0M118.0 461.7h0M100.0 461.4h0M100.3 462.3h0M110.2 461.0h0M109.4 461.5h0M115.8 460.8h0M115.8 460.7h0M101.1 460.2h0M99.7 460.3h0M99.9 462.2h0M106.4 460.3h0M102.9 460.4h0M106.3 460.4h0M104.7 461.1h0M224.4 514.4h0M228.4 514.4h0M216.7 514.4h0M216.5 514.4h0M218.5 514.4h0M216.5 514.4h0M217.8 514.4h0M218.8 514.4h0M217.1 514.4h0M216.5 514.4h0M216.5 513.9h0M216.5 513.6h0M217.0 514.2h0M216.5 513.1h0M220.8 513.2h0M228.0 513.1h0M230.1 514.4h0M227.6 512.9h0M225.7 512.8h0M217.3 512.9h0M218.3 513.9h0M217.6 513.8h0M216.5 513.8h0M222.0 512.0h0M221.9 514.4h0M220.9 514.0h0M222.6 512.9h0M216.6 511.4h0M217.2 509.8h0M221.7 511.6h0M222.5 511.3h0M217.6 511.3h0M222.2 511.3h0M224.5 510.7h0M226.2 510.8h0M228.4 510.7h0M223.4 510.5h0M228.7 510.4h0M217.0 510.4h0M218.5 507.5h0M230.1 509.8h0M230.3 511.9h0M224.8 510.0h0M219.2 509.4h0M222.2 509.5h0M221.9 507.8h0M223.0 506.3h0M221.0 512.8h0M221.8 510.4h0M227.5 509.3h0M226.9 509.1h0M227.6 508.4h0M229.7 509.2h0M226.1 512.3h0M224.9 508.2h0M225.0 508.3h0M223.9 507.9h0M217.5 508.2h0M219.4 507.8h0M220.2 507.7h0M219.5 508.2h0M222.8 507.6h0M222.3 507.8h0M223.8 508.8h0M221.0 507.4h0M223.1 507.4h0M222.8 509.5h0M224.4 506.7h0M220.8 506.6h0M221.9 509.7h0M224.8 506.3h0M228.3 506.5h0M228.7 503.8h0M224.1 506.1h0M222.9 508.0h0M223.4 510.8h0M223.1 500.3h0M223.0 507.2h0M229.9 505.8h0M230.3 502.9h0M229.2 507.0h0M225.8 505.3h0M219.3 504.7h0M229.3 505.0h0M220.2 505.0h0M220.6 505.4h0M219.9 504.5h0M229.0 504.5h0M229.7 503.0h0M219.8 504.1h0M219.9 505.8h0M216.9 504.4h0M219.8 502.3h0M226.6 503.6h0M229.2 503.8h0M229.5 503.4h0M228.9 505.2h0M229.3 505.6h0M229.5 505.8h0M229.0 506.0h0M229.5 503.8h0M229.7 504.5h0M229.8 502.4h0M230.3 502.7h0M230.3 503.0h0M227.8 502.2h0M228.6 501.1h0M226.3 500.4h0M227.8 499.8h0M218.8 501.7h0M230.2 501.6h0M230.2 501.2h0M227.3 502.0h0M228.7 501.4h0M229.2 500.1h0M229.5 499.8h0M228.1 503.7h0M225.1 500.7h0M218.3 501.1h0M219.7 500.5h0M229.0 500.5h0M229.8 500.6h0M227.5 502.8h0M230.3 498.8h0M228.9 500.3h0M224.0 499.9h0M230.0 499.8h0M228.4 499.9h0M221.7 499.4h0M222.0 498.3h0M222.1 499.3h0M222.2 499.8h0M220.2 499.0h0M220.0 499.4h0M219.3 498.0h0M221.3 496.1h0M218.8 498.9h0M221.1 498.5h0M223.9 498.3h0M224.7 501.0h0M224.1 498.3h0M225.0 500.8h0M224.2 497.5h0M222.9 499.9h0M222.1 497.7h0M224.1 496.3h0M230.0 497.5h0M222.6 497.2h0M229.1 496.9h0M222.5 496.9h0M222.9 494.5h0M222.7 496.7h0M228.8 496.7h0M229.8 496.2h0M225.8 496.5h0M225.9 495.1h0M225.3 495.1h0M218.2 496.3h0M218.4 496.7h0M219.0 497.5h0M217.3 495.2h0M218.7 496.7h0M219.6 496.8h0M217.9 498.6h0M228.4 495.4h0M227.4 495.0h0M229.2 495.2h0M228.7 496.6h0M217.1 494.7h0M230.0 494.5h0M230.3 493.6h0M230.3 495.3h0M217.0 494.2h0M216.5 496.6h0M217.5 491.3h0M217.1 493.9h0M216.5 490.8h0M216.9 494.7h0M218.0 490.9h0M218.3 494.5h0M226.3 493.4h0M227.9 493.2h0M227.4 492.5h0M229.0 494.9h0M226.0 495.1h0M227.8 492.6h0M228.3 493.9h0M228.9 492.8h0M227.8 492.2h0M227.8 492.6h0M228.6 492.4h0M229.3 491.9h0M229.3 491.7h0M230.3 492.1h0M224.4 491.5h0M226.4 491.4h0M226.9 489.7h0M226.3 492.0h0M226.7 491.2h0M226.1 496.8h0M229.8 491.0h0M220.1 490.5h0M220.4 490.7h0M220.0 488.1h0M220.9 489.0h0M225.2 490.2h0M226.5 489.7h0M224.9 490.2h0M227.2 491.6h0M224.2 490.1h0M225.5 491.2h0M223.1 489.4h0M219.5 489.5h0M224.6 489.4h0M225.2 489.2h0M226.3 487.9h0M225.4 488.2h0M225.7 489.5h0M226.4 489.6h0M228.5 488.6h0M228.3 488.6h0M222.8 488.5h0M221.1 486.1h0M224.2 489.5h0M222.8 488.5h0M222.8 489.4h0M223.0 488.0h0M222.4 484.7h0M221.9 487.6h0M221.6 487.4h0M221.1 488.1h0M220.3 487.2h0M220.5 485.5h0M220.9 488.6h0M224.1 486.9h0M227.8 486.7h0M228.8 486.9h0M228.8 488.3h0M221.8 486.5h0M221.7 487.1h0M222.6 487.7h0M221.2 485.9h0M220.0 486.1h0M221.5 484.9h0M221.6 486.9h0M220.7 487.1h0M219.3 485.5h0M225.2 485.3h0M219.2 485.0h0M220.7 485.3h0M220.3 484.7h0M219.2 486.2h0M229.3 484.9h0M229.6 483.9h0M225.9 484.6h0M225.6 486.3h0M226.9 484.5h0M219.1 483.9h0M218.5 480.9h0M224.9 483.8h0M222.8 486.0h0M222.2 483.4h0M222.6 483.5h0M216.9 483.2h0M217.4 481.5h0M219.9 483.1h0M227.0 482.9h0M228.0 482.7h0M228.0 481.6h0M228.5 482.4h0M222.1 482.4h0M227.0 482.4h0M227.0 479.2h0M226.9 483.6h0M226.7 482.4h0M221.3 482.0h0M221.8 481.2h0M222.8 484.6h0M229.1 481.6h0M227.2 481.3h0M229.0 481.4h0M229.3 481.2h0M217.1 480.6h0M216.5 477.9h0M218.5 480.9h0M217.3 480.3h0M218.0 479.1h0M216.5 481.8h0M216.7 479.8h0M218.1 479.8h0M218.6 483.3h0M223.2 479.7h0M223.9 478.3h0M221.9 479.4h0M220.1 479.1h0M226.9 479.4h0M226.2 482.3h0M229.8 478.9h0M230.2 478.1h0M223.6 478.5h0M225.7 476.2h0M229.5 478.1h0M227.9 482.3h0M230.1 478.2h0M225.2 477.5h0M219.3 477.9h0M223.7 477.4h0M225.8 477.4h0M228.4 477.1h0M230.3 475.2h0M228.9 476.1h0M228.8 477.2h0M229.3 477.2h0M226.9 478.3h0M228.0 477.6h0M227.1 478.6h0M216.9 475.7h0M216.7 474.6h0M227.4 475.2h0M217.5 475.4h0M226.8 475.4h0M226.3 477.1h0M225.9 475.5h0M221.9 474.5h0M216.5 474.4h0M216.5 475.0h0M216.6 474.2h0M216.8 476.3h0M216.5 477.2h0M223.7 473.9h0M219.5 473.5h0M221.7 473.1h0M220.0 473.0h0M219.5 473.8h0M220.0 471.0h0M219.2 471.7h0M220.1 474.0h0M220.5 474.6h0M219.7 473.1h0M219.4 473.7h0M229.4 471.4h0M230.3 472.3h0M228.6 470.4h0M228.0 471.1h0M226.9 473.3h0M226.0 470.7h0M227.6 470.1h0M226.7 470.3h0M225.7 468.9h0M228.4 469.8h0M228.4 470.9h0M228.8 469.5h0M228.2 472.1h0M230.3 471.1h0M227.7 466.5h0M225.7 468.4h0M225.6 467.9h0M225.3 469.7h0M229.8 467.5h0M230.3 466.6h0M230.3 470.0h0M217.0 466.7h0M228.9 466.4h0M217.5 466.2h0M219.7 465.8h0M219.4 466.4h0M222.6 466.2h0M221.4 466.7h0M338.2 514.4h0M338.3 514.4h0M338.4 514.4h0M340.8 514.2h0M338.5 514.0h0M345.5 513.7h0M346.0 513.8h0M337.6 513.6h0M337.3 514.4h0M341.6 513.0h0M341.3 514.4h0M341.8 512.8h0M340.7 510.7h0M340.0 510.8h0M342.5 514.4h0M345.7 512.0h0M345.9 514.4h0M339.0 511.5h0M338.4 507.9h0M338.7 513.1h0M338.5 510.5h0M339.4 511.7h0M344.4 510.2h0M338.3 510.3h0M345.9 509.9h0M338.6 510.1h0M339.8 509.5h0M339.9 508.3h0M339.4 510.8h0M338.0 511.0h0M340.7 512.5h0M342.1 508.9h0M338.9 508.7h0M338.8 508.5h0M338.4 508.4h0M337.6 505.9h0M339.7 509.0h0M339.4 507.6h0M339.8 508.9h0M337.3 507.7h0M337.8 507.2h0M337.3 505.8h0M338.4 506.9h0M339.8 509.5h0M339.7 506.4h0M339.1 508.7h0M338.7 508.7h0M339.9 505.5h0M337.3 509.0h0M337.8 505.2h0M339.5 507.7h0M341.7 505.0h0M338.6 505.0h0M339.1 507.9h0M339.0 504.4h0M338.5 505.2h0M339.7 506.4h0M339.7 503.9h0M345.4 503.8h0M344.5 500.9h0M341.5 503.3h0M342.1 501.3h0M341.4 502.9h0M340.2 502.7h0M339.9 502.4h0M344.3 502.3h0M340.4 501.9h0M340.7 505.2h0M340.9 502.6h0M341.4 501.0h0M340.5 503.1h0M340.0 501.4h0M338.8 502.7h0M339.5 498.6h0M339.8 502.4h0M341.2 500.4h0M341.7 503.6h0M344.9 500.2h0M346.0 498.1h0M341.9 499.6h0M343.4 500.6h0M341.4 500.2h0M340.6 500.8h0M342.9 496.1h0M341.2 498.6h0M341.4 501.4h0M341.3 501.4h0M341.7 499.0h0M343.0 498.2h0M343.2 497.8h0M337.7 497.8h0M337.3 498.2h0M337.3 499.3h0M337.3 497.3h0M344.9 497.1h0M341.2 496.8h0M341.0 496.7h0M340.2 495.2h0M341.3 496.9h0M345.7 495.8h0M346.0 497.6h0M345.5 498.0h0M346.0 491.9h0M345.3 495.1h0M337.7 495.1h0M338.9 493.7h0M337.3 494.7h0M338.3 493.8h0M338.7 492.8h0M337.3 498.5h0M337.3 496.7h0M342.4 493.3h0M343.6 491.5h0M343.8 493.0h0M343.2 492.0h0M342.7 493.2h0M340.3 492.7h0M341.6 489.0h0M339.0 490.6h0M341.2 494.4h0M341.7 494.0h0M340.7 490.8h0M339.9 491.0h0M340.3 494.5h0M344.3 491.2h0M344.0 492.3h0M343.8 491.3h0M345.2 491.3h0M341.0 489.7h0M341.6 490.3h0M343.3 489.0h0M341.7 490.5h0M342.2 489.1h0M343.2 486.6h0M340.9 488.8h0M339.5 486.7h0M338.1 488.2h0M344.5 488.0h0M340.1 487.8h0M344.3 487.6h0M344.1 488.9h0M344.1 489.9h0M345.4 486.8h0M340.5 486.8h0M339.9 486.0h0M341.8 486.1h0M340.9 483.9h0M341.4 485.7h0M340.5 485.4h0M340.1 487.1h0M343.9 484.6h0M342.2 485.1h0M344.6 483.3h0M338.2 484.0h0M337.3 484.6h0M340.2 483.5h0M339.3 483.3h0M339.7 484.8h0M337.3 480.1h0M337.9 484.7h0M339.0 482.3h0M343.5 482.1h0M338.5 481.8h0M339.4 481.6h0M343.7 480.7h0M346.0 478.9h0M343.3 481.2h0M342.8 479.9h0M342.6 477.3h0M343.0 482.2h0M342.6 484.5h0M342.9 479.1h0M344.1 481.5h0M345.3 481.6h0M343.9 481.0h0M341.0 477.5h0M340.6 476.8h0M342.2 475.7h0M340.0 475.7h0M341.5 477.9h0M340.8 478.7h0M344.8 475.6h0M344.9 477.2h0M346.0 476.3h0M346.0 473.8h0M342.9 477.1h0M337.3 473.8h0M338.4 473.0h0M343.4 473.0h0M344.0 474.6h0M341.7 474.2h0M341.2 471.9h0M341.8 472.8h0M446.7 514.4h0M447.3 514.4h0M445.6 514.1h0M444.8 513.9h0M443.3 513.6h0M443.7 512.7h0M442.3 513.3h0M444.4 510.1h0M442.3 512.6h0M443.8 513.1h0M442.3 514.4h0M442.4 514.4h0M448.4 511.7h0M442.7 511.0h0M443.6 512.7h0M442.3 512.4h0M448.1 510.3h0M442.3 510.3h0M448.1 509.9h0M447.7 510.2h0M444.1 509.4h0M445.3 506.7h0M444.7 511.4h0M446.7 508.9h0M442.6 508.5h0M443.7 507.1h0M442.4 508.7h0M442.7 510.1h0M446.3 507.4h0M446.3 507.2h0M444.9 506.7h0M444.5 505.2h0M444.7 503.0h0M446.2 504.6h0M444.1 509.3h0M446.8 505.4h0M446.1 504.6h0M446.9 505.0h0M446.5 507.9h0M446.2 504.5h0M446.2 504.1h0M445.7 505.5h0M446.4 500.9h0M444.4 503.3h0M448.3 503.0h0M448.4 501.8h0M448.5 500.4h0M447.7 502.2h0M447.1 502.0h0M445.1 501.6h0M444.9 500.8h0M444.4 501.4h0M446.2 500.8h0M447.0 500.5h0M446.6 500.4h0M447.3 498.8h0M442.7 499.9h0M448.1 499.2h0M444.2 499.5h0M444.7 500.5h0M443.2 498.4h0M444.0 502.8h0M442.3 499.3h0M445.1 497.9h0M448.2 497.8h0M447.7 498.8h0M446.0 496.9h0M445.7 497.4h0M445.5 496.8h0M445.0 493.9h0M444.7 496.9h0M443.7 499.5h0M445.4 495.2h0M445.1 496.3h0M445.7 495.1h0M447.2 494.5h0M446.9 496.2h0M443.3 494.2h0M442.8 494.0h0M442.8 493.1h0M442.3 495.2h0M443.1 496.1h0M443.6 494.7h0M444.1 492.3h0M447.2 491.8h0M446.5 491.6h0M447.5 491.4h0M448.3 491.2h0M445.6 490.8h0M444.3 490.1h0M444.0 492.2h0M446.7 489.8h0M445.9 490.6h0M445.9 487.5h0M446.6 492.4h0M442.9 488.4h0M443.0 488.3h0M443.7 488.1h0M443.5 488.9h0M446.5 487.3h0M445.8 487.7h0M446.3 490.1h0M447.3 484.3h0M445.3 485.4h0M445.2 481.2h0M445.2 488.9h0M445.6 484.7h0M446.0 484.7h0M445.9 483.4h0M442.7 483.4h0M443.7 484.6h0M442.3 479.6h0M447.8 482.4h0M447.8 481.2h0M446.6 480.1h0M447.3 484.4h0M448.5 480.6h0M445.4 482.4h0M447.3 479.9h0M448.5 478.8h0M447.5 484.2h0M447.1 480.8h0M443.7 478.5h0M443.5 479.4h0M446.5 477.6h0M444.6 477.3h0M445.3 479.9h0M445.0 474.1h0M443.3 477.0h0M445.0 478.2h0M442.8 474.8h0M443.1 476.4h0M442.3 476.4h0M444.8 473.6h0M443.9 473.4h0M445.3 472.7h0M442.4 472.1h0M442.3 473.4h0M442.3 470.3h0M442.3 476.4h0M443.8 472.1h0M442.3 465.9h0M442.4 471.9h0M442.7 471.1h0M442.9 471.9h0M442.3 472.0h0M446.5 466.9h0M447.3 467.8h0M448.4 466.6h0M446.2 469.2h0M445.6 467.1h0" stroke="#5a7c9e" stroke-width="2.9" stroke-linecap="round" fill="none"/>
<path d="M124.7 514.4h0M124.2 513.4h0M126.0 514.4h0M126.8 514.4h0M121.9 514.4h0M120.3 514.2h0M120.0 514.4h0M120.4 514.4h0M120.7 512.2h0M125.5 513.8h0M123.7 513.8h0M134.3 513.4h0M133.8 511.7h0M133.0 512.9h0M132.5 512.9h0M120.8 513.0h0M120.0 511.4h0M121.1 512.7h0M120.0 513.3h0M122.6 512.7h0M123.7 514.4h0M121.0 512.9h0M121.9 514.4h0M123.4 512.8h0M122.4 509.0h0M124.4 512.5h0M124.0 509.7h0M126.6 514.1h0M124.2 512.4h0M125.4 512.1h0M127.2 509.3h0M127.1 511.6h0M121.8 511.6h0M120.8 512.7h0M120.5 512.6h0M134.9 511.0h0M135.2 509.9h0M134.9 513.0h0M134.0 509.1h0M133.1 514.4h0M134.8 511.3h0M123.4 510.7h0M120.7 510.5h0M120.8 513.6h0M121.3 509.6h0M122.8 513.3h0M131.5 510.0h0M131.4 506.9h0M130.7 509.9h0M130.0 509.6h0M130.8 512.3h0M133.1 513.8h0M131.6 511.2h0M133.8 508.9h0M133.4 509.0h0M134.0 507.0h0M134.9 510.4h0M134.4 506.1h0M133.8 509.2h0M133.3 507.0h0M135.8 508.8h0M135.2 506.4h0M135.5 507.2h0M135.6 508.3h0M136.0 507.1h0M127.4 508.1h0M126.0 508.9h0M126.9 507.9h0M128.4 508.2h0M123.6 507.7h0M131.1 507.4h0M131.0 507.1h0M129.7 507.1h0M129.0 506.0h0M129.5 507.7h0M129.6 506.6h0M128.8 503.5h0M129.7 506.7h0M131.5 505.9h0M130.8 506.6h0M129.8 506.4h0M129.8 506.5h0M131.7 506.6h0M127.7 502.8h0M128.2 504.5h0M135.8 506.0h0M136.0 505.0h0M136.0 506.2h0M135.9 505.7h0M131.0 505.8h0M126.3 505.8h0M126.8 505.1h0M125.3 509.3h0M128.5 505.4h0M124.8 505.1h0M127.8 504.8h0M128.6 505.0h0M124.6 504.7h0M131.2 504.8h0M132.3 502.6h0M131.7 505.1h0M133.4 504.3h0M133.5 503.2h0M132.2 503.2h0M122.2 503.9h0M121.4 503.8h0M126.2 504.2h0M125.8 503.0h0M126.3 505.7h0M125.5 503.2h0M125.1 500.9h0M128.3 504.0h0M126.8 503.6h0M126.4 503.5h0M121.2 503.0h0M121.7 502.7h0M128.4 503.1h0M128.5 502.5h0M129.8 500.9h0M127.1 502.7h0M127.1 502.2h0M134.8 502.4h0M136.0 504.3h0M125.3 502.0h0M124.4 501.1h0M124.5 501.8h0M134.2 501.8h0M125.9 501.8h0M128.4 501.9h0M125.9 496.7h0M121.0 501.4h0M122.3 502.2h0M135.3 501.4h0M135.3 502.7h0M120.5 500.9h0M125.9 500.7h0M125.2 503.8h0M121.7 500.7h0M120.1 498.4h0M131.2 500.6h0M133.3 500.4h0M133.3 501.5h0M135.5 499.6h0M128.7 500.3h0M127.2 503.2h0M129.4 500.9h0M130.6 501.3h0M128.4 500.9h0M128.2 501.3h0M129.9 499.3h0M130.9 500.5h0M127.1 499.2h0M133.2 499.0h0M132.7 499.1h0M128.6 498.9h0M130.0 498.0h0M123.2 498.6h0M128.9 498.7h0M126.7 498.7h0M128.4 501.6h0M127.9 495.7h0M135.7 498.3h0M135.1 498.3h0M135.6 498.3h0M136.0 499.9h0M127.6 497.9h0M127.3 497.2h0M129.5 497.7h0M133.2 497.5h0M133.0 498.5h0M133.0 497.5h0M134.2 495.5h0M127.8 496.8h0M128.8 493.9h0M128.1 495.6h0M127.6 497.3h0M127.6 496.4h0M127.3 498.2h0M129.3 492.9h0M134.1 496.0h0M133.9 498.5h0M135.5 497.1h0M128.1 496.3h0M127.8 496.0h0M127.7 496.5h0M126.5 498.0h0M128.0 492.8h0M127.1 496.8h0M129.8 497.4h0M126.5 495.5h0M126.2 495.7h0M121.3 495.0h0M133.2 495.0h0M128.9 495.1h0M128.5 498.5h0M127.6 493.8h0M128.6 494.7h0M129.2 497.0h0M135.1 494.2h0M135.1 494.7h0M134.1 493.5h0M135.7 493.7h0M120.3 494.0h0M133.9 494.0h0M135.2 494.2h0M134.0 496.4h0M135.3 492.4h0M129.7 493.5h0M124.1 493.3h0M123.2 489.9h0M122.7 497.0h0M124.1 493.0h0M123.9 493.8h0M129.8 492.7h0M132.4 492.8h0M124.4 492.7h0M126.1 491.3h0M125.8 488.3h0M135.0 492.2h0M134.2 491.4h0M129.1 492.3h0M133.8 491.8h0M133.9 492.2h0M133.1 493.2h0M128.8 491.8h0M127.8 490.4h0M128.2 489.8h0M128.1 491.4h0M127.0 491.3h0M124.7 491.0h0M123.6 490.8h0M125.5 493.9h0M125.3 491.7h0M124.6 492.2h0M124.8 491.7h0M122.8 490.6h0M121.6 489.1h0M129.8 490.4h0M128.3 491.0h0M131.7 490.2h0M129.9 489.9h0M130.0 488.4h0M129.1 491.2h0M129.7 487.0h0M130.8 494.0h0M131.0 489.6h0M131.3 489.8h0M129.5 490.4h0M129.5 489.0h0M132.5 489.1h0M132.4 486.7h0M128.8 488.6h0M128.4 488.3h0M128.1 486.1h0M135.5 488.7h0M136.0 490.6h0M122.7 488.2h0M131.4 488.4h0M135.9 488.5h0M136.0 488.3h0M134.5 487.9h0M133.8 486.4h0M135.0 489.4h0M132.6 489.2h0M135.5 489.4h0M133.3 488.3h0M134.9 485.6h0M133.4 491.9h0M124.3 487.1h0M124.6 486.7h0M127.8 486.8h0M128.2 487.9h0M126.8 487.5h0M124.3 486.7h0M122.6 487.2h0M123.8 486.1h0M122.9 485.7h0M123.8 489.0h0M122.4 487.2h0M133.8 486.0h0M127.0 486.0h0M125.9 485.0h0M125.8 485.3h0M128.6 485.1h0M129.5 488.9h0M120.9 485.4h0M120.5 485.3h0M133.5 485.3h0M133.6 485.6h0M125.0 484.8h0M130.4 484.6h0M128.5 482.5h0M130.0 483.4h0M129.6 486.1h0M132.1 487.2h0M129.7 484.7h0M128.6 484.8h0M129.4 484.1h0M123.0 484.0h0M123.6 483.9h0M122.2 482.4h0M124.5 483.9h0M127.3 483.6h0M127.5 484.3h0M127.0 482.9h0M127.7 483.7h0M126.6 483.3h0M127.1 486.6h0M126.8 483.9h0M125.9 478.3h0M126.5 482.2h0M125.8 482.9h0M128.2 480.9h0M127.3 486.7h0M122.1 482.4h0M129.0 482.5h0M126.9 481.9h0M128.0 481.2h0M127.1 479.8h0M126.5 482.4h0M125.7 478.5h0M126.6 480.4h0M125.7 481.6h0M125.7 481.4h0M128.2 481.4h0M128.1 480.0h0M124.0 481.2h0M122.6 482.3h0M132.5 480.8h0M133.4 482.1h0M124.8 480.6h0M131.8 480.6h0M131.5 479.9h0M122.1 480.6h0M135.4 480.1h0M136.0 480.3h0M135.3 479.6h0M135.5 479.4h0M135.6 483.2h0M123.8 479.6h0M124.2 477.3h0M123.1 479.5h0M123.0 479.2h0M127.4 479.2h0M126.0 478.2h0M133.5 478.8h0M135.6 475.2h0M132.3 478.8h0M131.6 478.3h0M133.5 480.4h0M132.4 481.3h0M129.7 478.1h0M129.8 479.6h0M134.2 478.1h0M133.7 479.9h0M132.9 479.2h0M132.3 477.5h0M131.9 472.8h0M131.2 478.2h0M125.0 477.1h0M123.9 478.3h0M124.1 476.9h0M124.5 476.9h0M122.2 476.7h0M123.9 476.2h0M122.2 477.1h0M122.5 476.3h0M121.5 480.8h0M121.3 473.7h0M122.5 475.7h0M121.5 476.1h0M120.0 476.2h0M130.7 475.8h0M121.0 475.7h0M131.4 475.3h0M132.9 474.2h0M134.0 475.4h0M133.6 477.6h0M135.3 474.8h0M136.0 476.1h0M123.3 474.4h0M121.9 471.9h0M124.1 474.5h0M123.2 474.9h0M122.4 474.2h0M122.6 474.5h0M131.8 473.8h0M132.9 472.3h0M124.6 473.6h0M123.5 476.4h0M124.7 478.0h0M122.9 473.2h0M123.4 474.7h0M122.2 474.4h0M122.6 472.6h0M132.7 472.6h0M126.8 472.4h0M128.0 470.4h0M128.0 469.0h0M126.6 472.1h0M127.5 472.8h0M126.0 474.3h0M128.3 472.3h0M127.5 473.0h0M124.7 472.4h0M122.4 471.3h0M122.5 473.8h0M120.2 473.6h0M124.4 470.6h0M125.2 470.2h0M128.6 470.5h0M121.3 470.2h0M121.1 468.2h0M120.7 467.7h0M121.6 470.6h0M121.7 471.6h0M121.6 471.6h0M120.4 469.4h0M122.6 469.6h0M122.5 468.8h0M123.3 471.2h0M132.6 468.6h0M126.0 468.8h0M126.4 467.2h0M121.7 468.2h0M121.1 468.0h0M123.8 470.1h0M126.1 465.0h0M131.7 467.8h0M131.1 467.9h0M127.1 467.4h0M127.9 467.7h0M128.4 469.3h0M124.6 466.5h0M123.8 466.3h0M120.0 466.8h0M135.4 466.1h0M135.0 466.2h0M134.8 465.5h0M129.8 465.9h0M129.2 464.5h0M123.3 465.5h0M122.2 466.4h0M124.0 465.9h0M122.7 465.1h0M124.0 465.0h0M122.5 462.0h0M126.2 464.3h0M126.2 463.9h0M125.4 464.6h0M124.7 463.3h0M127.0 462.7h0M126.1 463.6h0M125.0 460.8h0M127.8 463.1h0M127.3 463.7h0M132.7 462.7h0M129.8 462.6h0M122.9 462.1h0M123.4 464.1h0M122.3 462.4h0M123.0 462.0h0M130.3 461.4h0M135.2 461.5h0M134.8 461.1h0M133.2 461.7h0M124.9 460.9h0M124.8 457.9h0M124.5 460.4h0M122.8 460.2h0M121.8 458.4h0M123.7 461.0h0M121.8 459.7h0M120.1 461.6h0M121.3 458.8h0M133.4 459.0h0M123.3 458.7h0M123.9 458.7h0M122.2 462.7h0M122.6 458.3h0M124.3 458.1h0M130.8 458.0h0M238.3 514.4h0M238.1 514.4h0M242.8 514.4h0M242.7 514.4h0M247.2 514.2h0M247.7 514.4h0M249.3 514.4h0M248.2 513.9h0M241.2 513.9h0M239.2 512.9h0M242.5 511.6h0M241.9 513.4h0M241.2 514.2h0M250.5 513.7h0M247.5 513.0h0M246.3 510.4h0M248.7 513.5h0M247.3 511.6h0M239.7 512.8h0M240.4 514.4h0M239.9 511.7h0M240.5 511.4h0M240.6 511.1h0M242.4 512.4h0M240.6 514.4h0M242.4 514.4h0M251.1 511.8h0M250.9 511.6h0M252.0 510.8h0M242.7 511.7h0M240.9 509.3h0M242.9 512.7h0M250.3 511.0h0M247.4 511.1h0M246.3 510.2h0M245.4 511.7h0M248.7 513.6h0M245.7 511.6h0M247.9 510.3h0M249.6 510.6h0M240.0 510.0h0M239.0 506.9h0M243.6 509.8h0M242.4 507.3h0M243.4 509.6h0M245.0 509.6h0M245.1 505.1h0M243.8 510.2h0M244.1 508.9h0M246.5 511.8h0M239.4 509.0h0M244.7 508.7h0M243.4 507.3h0M244.7 508.6h0M241.7 508.4h0M250.6 508.5h0M239.2 508.4h0M239.0 508.0h0M244.0 507.9h0M245.0 508.2h0M251.3 507.7h0M250.2 507.6h0M239.7 507.6h0M246.3 507.7h0M240.5 507.1h0M250.7 507.3h0M252.0 510.6h0M251.7 506.9h0M250.6 504.7h0M252.0 506.4h0M244.1 506.6h0M248.5 506.6h0M246.8 507.4h0M247.8 508.4h0M249.7 507.1h0M251.1 505.9h0M251.8 506.2h0M252.0 506.1h0M251.2 505.5h0M251.2 504.1h0M250.1 505.2h0M243.1 505.2h0M243.0 508.3h0M249.4 505.3h0M248.8 504.1h0M241.9 504.9h0M244.5 504.9h0M238.2 504.5h0M239.4 504.6h0M238.9 506.4h0M250.7 504.2h0M247.5 503.9h0M246.7 502.7h0M246.9 503.7h0M239.2 503.7h0M238.0 504.8h0M238.1 504.4h0M239.0 502.3h0M241.1 503.6h0M247.4 503.4h0M251.0 502.7h0M241.3 502.7h0M244.4 502.8h0M244.9 505.0h0M242.4 502.6h0M241.3 500.5h0M242.0 500.2h0M240.4 502.6h0M242.7 501.8h0M242.8 503.5h0M243.1 502.1h0M241.5 501.8h0M241.3 502.3h0M241.8 499.3h0M241.5 503.6h0M240.0 498.9h0M245.7 501.5h0M244.2 499.3h0M246.2 500.3h0M240.9 500.7h0M251.3 500.5h0M251.3 502.8h0M250.8 498.4h0M241.5 500.6h0M242.1 499.4h0M240.0 501.9h0M241.3 503.6h0M239.8 498.2h0M241.1 499.4h0M245.0 499.9h0M243.7 502.7h0M245.3 500.3h0M243.6 499.2h0M244.9 499.1h0M244.4 496.0h0M251.2 499.1h0M243.2 498.8h0M240.6 498.4h0M242.4 498.8h0M248.7 498.5h0M251.0 495.8h0M249.3 498.1h0M242.2 498.3h0M241.2 498.3h0M243.7 497.8h0M245.3 497.6h0M246.3 498.5h0M246.1 497.4h0M245.4 497.3h0M240.6 497.2h0M239.8 495.2h0M248.9 496.9h0M242.5 497.1h0M243.0 494.6h0M242.7 499.7h0M242.3 498.2h0M243.5 495.7h0M240.4 496.4h0M240.8 494.1h0M241.1 495.7h0M240.6 495.8h0M240.6 493.1h0M241.1 497.9h0M240.3 495.1h0M240.7 492.1h0M240.3 496.8h0M246.2 495.5h0M243.2 494.9h0M241.9 495.2h0M243.1 495.9h0M243.6 496.8h0M249.8 494.4h0M247.4 494.8h0M247.0 494.4h0M248.0 496.3h0M246.1 494.4h0M244.6 494.5h0M244.5 491.6h0M248.5 493.9h0M248.4 497.0h0M251.1 493.6h0M251.1 492.1h0M251.6 493.1h0M249.9 493.5h0M251.7 493.2h0M249.7 493.5h0M238.7 492.9h0M239.7 496.0h0M239.5 491.9h0M240.3 492.5h0M247.9 492.1h0M247.6 492.7h0M248.0 489.8h0M246.9 494.6h0M245.6 491.8h0M246.3 494.3h0M239.7 491.9h0M244.2 491.4h0M245.3 493.9h0M243.4 489.6h0M242.5 490.9h0M251.9 491.1h0M248.8 491.1h0M243.7 491.1h0M243.0 490.7h0M238.6 490.5h0M243.7 490.7h0M243.5 491.4h0M242.5 493.3h0M244.4 490.3h0M243.1 490.9h0M242.8 489.8h0M247.4 489.8h0M249.2 491.1h0M248.6 489.4h0M249.1 493.5h0M247.5 487.9h0M248.9 491.9h0M248.2 493.3h0M249.8 487.8h0M250.5 488.6h0M251.3 491.2h0M250.9 492.0h0M251.5 488.6h0M250.8 488.4h0M252.0 486.1h0M251.7 485.7h0M249.2 487.9h0M250.1 487.5h0M249.3 484.8h0M249.4 488.9h0M247.2 487.6h0M247.3 485.5h0M246.8 485.7h0M248.8 485.6h0M248.6 489.5h0M238.8 487.2h0M239.3 485.4h0M245.0 486.9h0M241.6 486.9h0M249.3 486.2h0M248.9 482.9h0M242.6 486.3h0M242.2 485.3h0M242.1 484.7h0M242.9 487.8h0M243.6 486.0h0M241.6 484.0h0M242.5 487.4h0M242.7 486.2h0M240.9 488.9h0M241.1 486.1h0M241.3 486.0h0M243.7 488.7h0M242.5 489.2h0M239.2 484.6h0M239.7 484.9h0M238.0 482.3h0M238.8 483.7h0M239.5 483.5h0M238.0 485.9h0M238.6 485.4h0M239.0 485.9h0M242.3 483.8h0M243.9 484.4h0M241.3 482.6h0M242.7 486.6h0M245.0 480.0h0M247.8 482.8h0M241.8 482.9h0M242.0 481.7h0M241.0 482.5h0M246.4 482.5h0M246.1 482.2h0M246.6 483.7h0M245.5 482.0h0M248.1 481.8h0M244.4 481.7h0M243.4 482.7h0M243.2 481.8h0M244.1 483.8h0M244.4 479.6h0M244.7 478.6h0M246.2 480.7h0M245.3 483.3h0M243.9 480.6h0M243.7 483.2h0M245.0 478.8h0M243.4 478.3h0M242.5 482.4h0M251.4 479.5h0M250.3 478.0h0M250.3 481.5h0M250.5 475.0h0M243.3 479.2h0M242.8 479.2h0M243.8 478.8h0M243.7 478.1h0M245.7 477.4h0M241.9 478.4h0M241.9 477.7h0M243.6 481.2h0M243.1 474.7h0M241.1 477.0h0M251.2 477.7h0M252.0 480.8h0M247.8 477.3h0M249.8 477.4h0M248.6 478.3h0M251.6 478.4h0M248.8 477.7h0M240.2 476.3h0M249.8 476.6h0M250.1 476.0h0M248.9 479.1h0M249.5 475.8h0M250.9 478.0h0M250.9 475.3h0M249.5 477.9h0M245.8 475.3h0M244.5 475.1h0M245.7 473.6h0M245.5 474.5h0M243.7 474.5h0M240.6 474.7h0M244.2 476.1h0M249.0 474.3h0M247.5 473.5h0M250.8 474.8h0M248.9 477.9h0M245.4 473.3h0M244.2 471.4h0M245.7 476.7h0M243.7 475.0h0M245.2 471.5h0M246.1 471.8h0M245.2 473.5h0M239.1 472.1h0M238.0 471.6h0M238.0 471.1h0M238.0 471.7h0M251.3 471.2h0M250.8 470.9h0M251.0 471.3h0M251.8 472.7h0M251.4 468.2h0M244.1 470.4h0M246.7 470.3h0M242.7 469.7h0M244.6 469.9h0M239.6 469.3h0M244.0 469.3h0M242.4 469.1h0M249.5 469.0h0M250.6 471.1h0M248.0 466.4h0M249.3 467.0h0M250.3 469.5h0M249.5 471.6h0M249.9 464.9h0M243.8 467.4h0M248.5 467.2h0M249.8 469.9h0M247.3 468.5h0M249.7 466.7h0M239.1 466.2h0M238.9 467.3h0M238.0 469.6h0M238.1 466.0h0M238.5 464.1h0M250.8 464.9h0M238.6 465.1h0M239.9 463.2h0M238.8 468.8h0M240.9 463.1h0M238.7 464.6h0M240.6 466.6h0M238.0 466.0h0M238.5 462.7h0M243.5 463.1h0M240.0 462.7h0M238.0 463.7h0M239.2 463.2h0M239.9 467.4h0M241.1 465.3h0M240.7 463.1h0M362.6 514.4h0M362.4 513.2h0M360.5 514.2h0M360.5 514.4h0M361.1 514.4h0M359.8 513.5h0M363.4 513.4h0M362.6 511.7h0M362.5 512.0h0M364.9 514.4h0M364.1 510.7h0M363.9 514.4h0M363.6 512.3h0M366.8 512.4h0M363.5 511.9h0M362.2 513.4h0M363.4 512.1h0M366.7 511.4h0M367.0 514.4h0M359.2 511.1h0M363.4 510.6h0M362.9 511.5h0M362.3 510.5h0M360.3 510.4h0M364.6 510.1h0M366.0 507.3h0M364.9 508.2h0M363.2 509.6h0M362.9 509.6h0M367.0 511.3h0M365.0 507.3h0M362.5 509.0h0M363.0 508.4h0M361.2 505.6h0M359.3 508.1h0M361.7 505.6h0M358.7 507.5h0M359.8 507.9h0M360.6 508.7h0M358.5 508.6h0M360.9 508.5h0M362.0 506.9h0M358.8 506.4h0M362.3 506.6h0M366.7 505.9h0M365.3 506.3h0M366.8 507.4h0M366.4 505.8h0M362.9 505.2h0M363.1 505.4h0M365.5 505.0h0M362.0 504.9h0M363.8 508.3h0M365.0 504.4h0M366.3 504.0h0M367.0 505.1h0M365.7 504.6h0M367.0 501.8h0M366.7 503.6h0M367.0 506.5h0M365.4 503.3h0M365.3 502.8h0M360.4 502.7h0M359.2 504.6h0M366.2 502.3h0M366.5 505.4h0M365.0 504.3h0M365.4 501.8h0M364.9 502.1h0M366.4 503.1h0M367.0 502.4h0M362.9 500.9h0M363.7 500.1h0M362.9 500.6h0M360.1 500.6h0M359.8 501.6h0M360.2 502.7h0M358.5 502.4h0M359.9 501.6h0M359.2 501.6h0M360.5 499.3h0M358.8 498.9h0M363.6 499.1h0M361.0 498.4h0M361.9 498.4h0M358.9 498.1h0M363.0 498.3h0M362.4 494.4h0M362.2 496.7h0M364.5 496.7h0M364.5 497.3h0M360.2 497.0h0M359.4 498.1h0M359.1 495.4h0M360.9 496.5h0M359.3 496.1h0M362.8 496.1h0M364.2 495.9h0M365.4 495.8h0M360.1 495.5h0M360.8 498.7h0M361.0 497.5h0M359.9 494.8h0M362.0 494.4h0M361.3 495.1h0M360.9 496.5h0M359.6 497.8h0M365.6 493.8h0M364.8 493.3h0M360.4 493.3h0M360.8 493.2h0M366.5 492.9h0M365.9 489.5h0M367.0 492.7h0M366.5 493.3h0M367.0 494.3h0M362.6 491.8h0M364.8 491.6h0M360.7 491.5h0M361.0 491.0h0M361.5 491.7h0M360.9 494.4h0M359.4 490.4h0M359.8 490.2h0M360.4 491.3h0M363.7 490.1h0M362.4 487.8h0M362.7 491.7h0M363.6 492.1h0M360.0 488.8h0M360.5 487.3h0M361.5 488.2h0M358.9 487.8h0M360.5 487.9h0M361.1 487.9h0M359.8 490.6h0M364.6 487.3h0M365.2 487.8h0M362.9 488.4h0M363.4 485.7h0M364.5 485.8h0M365.0 483.5h0M363.3 485.7h0M363.7 488.6h0M359.2 485.1h0M360.3 484.1h0M358.9 483.5h0M363.8 484.5h0M363.2 482.8h0M364.5 484.1h0M363.3 486.2h0M365.0 485.5h0M358.8 483.0h0M358.5 482.1h0M359.5 483.1h0M362.1 482.5h0M362.8 479.1h0M361.8 479.1h0M363.7 481.5h0M363.9 482.7h0M361.9 481.4h0M363.7 482.8h0M362.8 481.7h0M363.1 480.0h0M366.2 479.5h0M359.7 479.8h0M359.2 479.8h0M361.9 478.8h0M365.1 478.9h0M365.5 481.2h0M362.8 478.1h0M361.7 475.4h0M364.0 479.0h0M362.6 477.2h0M363.6 477.8h0M363.7 476.6h0M363.7 477.1h0M366.4 476.0h0M365.7 478.7h0M363.2 475.3h0M360.4 474.8h0M361.8 473.0h0M359.5 472.6h0M362.8 476.5h0M360.5 477.1h0M361.4 471.2h0M364.4 473.5h0M363.0 474.5h0M364.5 474.8h0M362.5 474.2h0M366.9 471.7h0M364.3 471.7h0M363.4 472.2h0M364.6 470.2h0M360.4 470.5h0M360.9 468.1h0M360.7 468.5h0M359.4 474.0h0M361.8 474.3h0M360.1 468.9h0M360.5 469.1h0M360.0 467.9h0M363.3 467.6h0M365.0 467.6h0M365.0 467.7h0M359.2 466.8h0M360.2 466.4h0M361.3 466.5h0M360.5 464.1h0M360.0 465.1h0M359.7 464.7h0M361.7 471.1h0M366.5 464.1h0M366.9 463.6h0M365.2 463.3h0M366.1 463.2h0M365.5 462.7h0M365.3 462.9h0M363.4 462.0h0M364.5 462.2h0M365.5 465.0h0M363.7 462.1h0M367.0 461.1h0M456.6 514.4h0M454.9 514.4h0M456.8 513.9h0M457.0 514.4h0M456.0 513.2h0M454.9 513.1h0M457.2 512.5h0M456.7 510.8h0M454.7 511.6h0M455.7 510.8h0M454.2 513.3h0M456.4 508.8h0M454.6 512.5h0M455.2 513.3h0M453.5 514.4h0M453.5 514.2h0M455.1 514.2h0M454.0 511.1h0M453.5 512.7h0M455.7 507.3h0M456.9 508.8h0M455.8 506.7h0M456.4 506.5h0M455.6 506.1h0M454.0 508.7h0M456.6 508.1h0M453.7 504.9h0M455.1 505.0h0M453.5 502.0h0M453.5 504.5h0M453.5 503.7h0M453.7 502.8h0M453.5 501.0h0M454.5 502.3h0M454.3 501.6h0M454.8 499.6h0M455.7 501.0h0M454.8 497.8h0M456.4 500.2h0M455.5 497.0h0M456.4 501.5h0M456.8 497.6h0M454.9 498.6h0M457.6 498.2h0M454.5 497.8h0M455.3 495.5h0M454.0 495.7h0M453.6 496.0h0M454.6 493.2h0M455.0 497.2h0M454.2 495.6h0M454.0 494.8h0M455.7 498.4h0M454.1 494.7h0M455.4 493.1h0M453.9 492.7h0M455.9 492.4h0M454.5 491.1h0M457.1 490.9h0M457.4 493.0h0M456.7 490.3h0M454.2 489.6h0M453.5 492.4h0M453.8 488.6h0M454.7 491.5h0M454.2 489.5h0M454.2 487.2h0M453.6 489.1h0M454.6 486.1h0M455.4 481.9h0M457.6 484.8h0M457.2 485.6h0M457.8 487.8h0M453.8 482.6h0M455.7 482.0h0M453.7 482.5h0M453.9 481.4h0M453.7 480.5h0M454.9 482.1h0M457.1 479.3h0M454.4 478.6h0M453.8 477.5h0M454.3 476.1h0M456.3 480.7h0M455.0 475.6h0M455.0 477.2h0M455.9 474.7h0M454.6 478.7h0M455.7 475.3h0M454.7 476.5h0M455.7 474.6h0M455.8 471.9h0M456.6 472.7h0" stroke="#7b9e56" stroke-width="2.9" stroke-linecap="round" fill="none"/>
<path d="M144.1 514.4h0M143.7 514.4h0M143.9 513.5h0M152.0 514.4h0M153.3 513.1h0M150.8 514.2h0M152.0 513.1h0M150.1 512.3h0M154.3 514.0h0M154.7 514.4h0M150.3 513.9h0M141.6 513.9h0M149.8 513.5h0M150.9 514.4h0M139.6 513.5h0M138.6 511.9h0M138.4 513.4h0M141.6 513.2h0M138.0 514.4h0M138.7 510.6h0M140.0 513.5h0M139.8 514.4h0M154.0 512.8h0M151.9 513.2h0M153.7 510.5h0M155.3 510.3h0M154.7 512.4h0M151.0 512.4h0M150.3 514.4h0M154.9 512.1h0M153.7 510.0h0M155.3 511.3h0M154.8 512.9h0M142.5 511.5h0M140.6 511.7h0M152.1 511.7h0M149.3 511.3h0M151.3 513.4h0M138.4 511.0h0M138.7 508.1h0M138.0 512.8h0M138.8 510.8h0M149.1 510.6h0M141.3 510.8h0M147.8 510.7h0M148.4 511.1h0M146.4 509.2h0M148.1 511.1h0M145.2 510.4h0M139.3 509.9h0M149.0 509.8h0M149.9 511.6h0M147.7 512.4h0M147.8 508.4h0M151.1 507.5h0M149.7 511.3h0M150.1 511.0h0M150.1 509.6h0M153.4 509.3h0M147.0 509.4h0M150.4 509.3h0M150.0 508.7h0M150.0 509.2h0M145.8 508.8h0M154.0 508.9h0M153.6 509.9h0M153.9 507.1h0M141.3 508.4h0M145.6 508.3h0M144.3 508.7h0M145.5 510.1h0M145.5 507.5h0M142.4 508.1h0M142.0 509.1h0M138.7 507.7h0M138.7 508.8h0M149.9 507.5h0M150.3 508.3h0M149.4 509.4h0M150.8 504.5h0M138.3 507.4h0M138.0 509.0h0M139.2 507.5h0M139.7 510.0h0M143.5 507.0h0M140.0 506.8h0M140.1 508.2h0M141.5 506.7h0M139.9 505.2h0M154.7 506.4h0M154.7 506.9h0M153.6 505.8h0M155.3 501.5h0M155.0 505.2h0M155.3 506.1h0M155.3 506.7h0M155.3 505.6h0M149.4 505.8h0M150.2 505.2h0M149.6 503.6h0M147.1 505.1h0M147.6 503.5h0M141.0 505.3h0M140.9 505.8h0M141.0 505.4h0M142.8 504.7h0M139.1 504.9h0M139.2 503.5h0M145.4 504.4h0M144.5 504.4h0M145.0 504.3h0M145.0 507.3h0M147.0 506.2h0M141.0 503.9h0M141.4 503.3h0M154.6 503.7h0M155.0 500.9h0M153.7 503.0h0M153.9 506.8h0M155.1 499.5h0M147.9 503.2h0M138.4 503.1h0M150.3 503.3h0M148.6 504.6h0M151.7 504.9h0M150.0 501.4h0M148.9 502.7h0M149.3 504.5h0M148.6 504.8h0M149.0 497.2h0M150.6 500.8h0M150.5 502.3h0M148.9 501.9h0M146.5 502.3h0M147.2 501.2h0M139.4 502.1h0M154.4 501.6h0M140.7 501.9h0M140.2 499.6h0M146.8 501.7h0M147.0 501.4h0M151.7 501.4h0M145.5 501.4h0M139.7 501.3h0M139.5 499.7h0M139.5 499.6h0M139.8 501.0h0M138.5 500.1h0M138.7 500.5h0M139.2 499.4h0M148.7 500.6h0M139.3 500.5h0M151.3 500.1h0M152.7 497.6h0M151.2 501.8h0M153.7 499.4h0M150.4 498.1h0M139.6 499.8h0M148.9 499.7h0M153.7 499.9h0M153.9 500.7h0M153.8 499.3h0M141.2 499.4h0M141.4 498.0h0M141.0 497.0h0M141.0 499.0h0M155.0 499.0h0M155.3 498.9h0M146.4 498.9h0M145.8 499.8h0M146.2 500.1h0M139.5 498.7h0M138.0 498.5h0M139.8 496.1h0M141.6 498.2h0M142.8 498.4h0M142.1 498.3h0M144.0 497.8h0M139.4 497.9h0M155.0 497.6h0M155.3 498.5h0M155.2 497.4h0M155.3 499.7h0M155.3 496.7h0M155.3 496.3h0M154.2 496.8h0M155.3 496.3h0M154.5 494.1h0M147.9 496.8h0M147.7 496.6h0M153.1 496.5h0M150.7 497.0h0M141.9 496.5h0M142.0 496.3h0M142.9 495.8h0M138.2 496.3h0M138.0 497.4h0M138.0 493.6h0M138.0 493.1h0M143.0 495.8h0M150.8 495.6h0M151.6 494.0h0M150.6 492.3h0M149.3 495.3h0M152.4 495.5h0M153.9 496.1h0M152.6 494.5h0M153.4 493.1h0M140.7 494.9h0M140.8 494.8h0M141.2 498.2h0M140.1 494.5h0M138.0 493.3h0M139.1 495.2h0M140.3 498.0h0M139.2 498.1h0M142.1 495.3h0M150.5 494.0h0M148.2 493.9h0M152.5 493.8h0M138.6 494.0h0M138.9 497.2h0M138.8 494.0h0M138.0 495.2h0M152.8 493.5h0M152.8 491.8h0M153.0 490.9h0M153.9 494.4h0M145.9 493.0h0M145.6 491.3h0M152.3 492.6h0M152.5 493.5h0M154.4 492.7h0M154.7 492.6h0M153.6 494.7h0M152.2 492.5h0M153.3 492.5h0M154.1 490.2h0M147.8 491.9h0M151.4 492.0h0M150.9 493.0h0M152.5 491.5h0M154.7 491.3h0M155.3 489.7h0M144.4 491.6h0M145.8 491.1h0M147.0 490.8h0M141.1 491.0h0M145.1 491.1h0M143.8 492.5h0M138.9 490.7h0M138.9 493.1h0M151.2 490.5h0M151.1 488.0h0M140.0 490.2h0M140.3 491.8h0M142.6 489.7h0M140.0 488.4h0M146.0 490.0h0M149.2 489.8h0M150.2 489.1h0M151.0 489.5h0M153.9 489.6h0M147.3 489.3h0M152.1 489.0h0M151.3 488.9h0M152.7 490.7h0M152.7 487.1h0M151.8 488.7h0M151.0 487.7h0M153.4 486.8h0M152.8 492.2h0M151.4 487.2h0M151.8 486.8h0M151.4 486.7h0M150.3 485.7h0M146.3 488.0h0M146.0 485.3h0M147.3 489.2h0M146.0 490.5h0M146.7 489.3h0M142.9 487.1h0M149.1 487.1h0M149.2 485.3h0M147.8 488.2h0M149.5 490.0h0M153.2 486.9h0M153.8 486.3h0M154.2 488.7h0M152.9 487.8h0M152.3 485.5h0M152.1 486.4h0M151.4 485.9h0M150.9 482.6h0M149.1 485.7h0M150.0 486.7h0M142.1 485.4h0M141.8 487.4h0M139.5 486.3h0M142.4 485.1h0M143.9 484.9h0M145.7 484.7h0M145.7 488.9h0M146.9 486.4h0M146.8 485.6h0M144.5 488.7h0M152.5 484.2h0M152.8 489.4h0M138.7 484.1h0M147.1 483.6h0M146.2 483.6h0M147.0 483.5h0M150.8 483.2h0M151.3 487.4h0M143.3 483.2h0M141.7 482.6h0M141.2 484.8h0M140.3 482.8h0M141.1 484.5h0M152.8 482.2h0M153.6 483.5h0M152.3 480.7h0M146.6 481.9h0M147.5 482.6h0M145.9 478.6h0M144.6 482.0h0M146.6 480.0h0M146.2 479.8h0M153.5 481.1h0M142.1 480.7h0M143.2 481.2h0M141.7 482.7h0M141.1 482.2h0M140.5 481.9h0M142.8 480.5h0M142.9 482.1h0M141.8 481.5h0M155.0 479.7h0M154.6 481.8h0M155.3 479.8h0M148.3 479.2h0M155.1 479.3h0M139.9 479.0h0M150.8 478.9h0M151.2 478.2h0M151.0 481.2h0M151.7 478.5h0M152.8 477.1h0M147.9 478.2h0M145.7 476.5h0M148.8 478.3h0M142.4 477.6h0M140.3 477.6h0M140.6 477.1h0M141.7 477.9h0M147.5 476.9h0M146.4 478.2h0M148.7 475.6h0M147.5 474.9h0M148.8 474.8h0M143.2 476.2h0M144.6 475.8h0M147.0 475.7h0M142.9 475.5h0M141.0 475.9h0M153.3 475.3h0M145.5 475.1h0M144.4 474.3h0M145.9 475.0h0M142.6 474.7h0M142.4 475.0h0M139.7 474.4h0M139.3 475.7h0M138.9 473.9h0M143.3 473.6h0M143.6 473.7h0M144.4 471.7h0M149.1 473.4h0M142.8 472.9h0M141.6 470.1h0M147.9 472.5h0M146.3 472.4h0M147.2 471.6h0M144.1 475.0h0M145.2 471.3h0M146.5 470.0h0M149.4 471.9h0M149.3 472.0h0M152.2 471.3h0M153.9 470.7h0M152.9 472.3h0M139.9 470.4h0M140.3 473.3h0M139.7 470.1h0M139.2 470.2h0M153.2 471.9h0M153.9 470.2h0M141.0 470.4h0M153.9 470.3h0M151.5 469.6h0M257.4 514.4h0M255.7 514.4h0M255.5 514.4h0M260.0 514.4h0M261.3 514.4h0M258.3 514.3h0M261.6 514.3h0M261.1 513.5h0M262.4 514.4h0M260.6 513.8h0M261.2 514.4h0M260.2 513.4h0M265.4 513.7h0M264.3 512.6h0M263.6 513.2h0M262.1 511.4h0M256.3 512.8h0M266.9 512.7h0M267.5 511.3h0M267.8 512.2h0M268.3 513.7h0M268.1 514.4h0M257.5 511.9h0M257.3 509.0h0M258.7 509.2h0M262.7 511.5h0M262.3 510.7h0M262.4 514.4h0M262.3 512.7h0M261.7 514.3h0M256.0 511.1h0M265.1 510.7h0M265.5 511.1h0M262.0 511.0h0M262.8 510.5h0M262.9 507.9h0M263.1 510.5h0M262.6 506.6h0M262.9 509.0h0M257.6 510.0h0M260.1 509.5h0M260.6 510.1h0M259.1 510.0h0M259.6 512.1h0M260.3 510.8h0M259.0 511.5h0M257.4 508.6h0M260.0 508.8h0M261.3 508.9h0M265.6 508.3h0M264.8 508.5h0M264.0 508.5h0M262.8 509.2h0M268.1 508.1h0M268.0 507.3h0M267.0 508.6h0M262.1 507.7h0M263.4 507.6h0M267.4 507.1h0M267.4 508.8h0M267.3 508.7h0M267.5 508.4h0M268.2 506.7h0M265.9 506.8h0M264.0 506.3h0M265.4 508.1h0M255.9 506.5h0M259.9 506.4h0M261.3 507.9h0M259.8 506.1h0M256.6 505.9h0M264.4 505.8h0M265.7 509.0h0M257.8 505.6h0M262.4 505.2h0M262.7 503.5h0M257.2 505.1h0M257.5 504.6h0M256.8 504.8h0M262.9 504.9h0M255.6 504.6h0M257.0 504.5h0M256.2 506.2h0M267.1 504.0h0M267.5 503.9h0M265.9 501.5h0M268.3 504.5h0M266.1 500.1h0M267.1 505.1h0M266.8 503.1h0M266.3 503.3h0M258.0 503.1h0M256.7 502.9h0M262.2 502.8h0M264.1 503.0h0M264.0 504.9h0M263.8 505.2h0M262.2 504.3h0M264.3 500.5h0M266.1 501.9h0M266.5 501.9h0M267.2 501.9h0M268.3 500.9h0M267.8 504.6h0M263.0 501.1h0M262.5 499.0h0M264.4 497.1h0M263.6 499.1h0M262.8 499.9h0M256.9 501.0h0M264.0 500.4h0M263.8 501.9h0M264.3 499.8h0M265.5 498.4h0M266.0 500.0h0M265.4 500.3h0M265.7 500.1h0M265.2 499.6h0M265.2 502.1h0M265.4 501.0h0M266.0 499.4h0M266.4 497.2h0M265.1 499.8h0M263.0 499.1h0M264.8 497.5h0M262.9 498.4h0M261.6 496.9h0M262.4 499.0h0M267.6 498.1h0M267.5 497.3h0M267.8 494.8h0M267.2 499.5h0M268.3 498.7h0M268.3 496.5h0M267.4 497.7h0M267.9 499.3h0M263.4 497.5h0M263.7 500.1h0M262.6 497.3h0M263.5 498.4h0M265.6 496.9h0M265.5 496.2h0M267.0 498.2h0M264.3 494.4h0M265.7 495.0h0M267.7 496.4h0M266.8 494.8h0M263.9 495.8h0M264.9 498.1h0M261.7 495.6h0M262.4 493.7h0M262.3 494.4h0M260.9 497.1h0M261.1 495.9h0M262.8 497.1h0M262.2 495.1h0M260.1 494.4h0M260.6 494.7h0M257.4 494.6h0M267.3 494.3h0M265.8 497.7h0M260.2 494.2h0M262.0 493.2h0M266.2 493.6h0M265.7 495.0h0M260.7 493.6h0M260.1 496.2h0M261.0 495.8h0M261.6 494.8h0M260.5 493.0h0M258.5 493.1h0M258.4 492.8h0M262.5 492.4h0M260.5 491.8h0M266.6 492.2h0M267.1 493.4h0M266.9 492.6h0M265.2 493.3h0M266.2 489.3h0M257.3 492.0h0M259.3 491.4h0M259.3 489.8h0M261.9 491.3h0M264.9 491.0h0M264.8 490.6h0M264.9 490.7h0M265.6 491.1h0M264.4 493.9h0M258.3 490.5h0M259.5 490.8h0M258.5 489.7h0M259.0 490.3h0M260.7 490.7h0M258.1 489.3h0M257.1 489.9h0M260.0 489.6h0M259.5 489.4h0M259.3 489.7h0M255.6 489.5h0M259.4 489.1h0M259.3 487.1h0M267.2 489.3h0M267.1 490.1h0M266.0 488.7h0M266.2 486.8h0M264.3 488.2h0M264.7 489.2h0M264.1 487.0h0M264.0 485.9h0M265.4 487.8h0M263.4 487.9h0M258.0 487.7h0M260.4 486.3h0M257.7 488.6h0M257.4 488.5h0M256.6 488.4h0M262.7 487.2h0M262.4 485.4h0M260.9 486.7h0M268.3 486.8h0M267.7 486.4h0M268.3 483.7h0M258.6 486.5h0M258.0 487.2h0M261.0 485.8h0M261.6 483.9h0M262.3 487.4h0M258.5 491.3h0M264.1 485.6h0M264.6 485.9h0M263.5 486.1h0M266.2 485.2h0M268.1 484.7h0M267.4 485.7h0M267.8 486.3h0M256.7 484.4h0M265.8 484.5h0M258.3 484.6h0M257.6 483.9h0M258.5 486.9h0M258.4 485.7h0M265.8 483.4h0M265.7 485.2h0M265.0 483.8h0M261.9 483.3h0M260.5 483.0h0M260.4 483.3h0M263.5 482.6h0M263.0 481.7h0M259.1 482.7h0M260.9 482.3h0M260.9 480.4h0M257.9 482.4h0M258.3 482.2h0M261.3 482.0h0M263.6 480.9h0M259.9 481.5h0M258.4 481.6h0M262.1 481.5h0M255.5 481.2h0M264.2 481.4h0M264.8 481.0h0M256.4 481.3h0M255.8 483.9h0M255.5 484.1h0M256.3 480.9h0M257.1 483.7h0M264.4 480.5h0M257.1 480.6h0M256.8 479.7h0M258.4 483.1h0M258.2 478.0h0M257.9 478.0h0M266.9 479.7h0M266.8 479.5h0M265.2 482.6h0M265.9 479.0h0M267.4 481.7h0M267.6 477.2h0M255.6 478.7h0M257.1 478.7h0M257.1 478.3h0M258.4 481.9h0M267.0 478.5h0M267.8 481.0h0M266.8 476.8h0M260.3 478.0h0M260.5 477.8h0M268.1 477.8h0M268.3 478.4h0M265.9 477.5h0M266.3 480.1h0M265.6 480.1h0M268.2 477.0h0M268.3 475.9h0M267.6 476.4h0M268.3 478.2h0M263.3 476.4h0M264.1 476.7h0M266.4 476.1h0M265.9 477.2h0M266.5 476.1h0M267.5 475.7h0M267.2 476.2h0M263.2 475.6h0M262.7 479.5h0M261.7 473.1h0M257.5 475.1h0M256.8 475.0h0M257.0 472.8h0M266.4 474.4h0M265.9 473.6h0M268.3 474.9h0M266.8 476.3h0M265.5 476.4h0M266.8 470.1h0M264.6 473.9h0M264.5 474.6h0M264.2 471.4h0M261.9 473.4h0M260.0 471.0h0M262.0 471.2h0M261.9 473.6h0M260.1 474.6h0M262.9 473.0h0M262.1 473.7h0M265.8 472.1h0M265.0 474.4h0M265.4 469.3h0M263.9 469.7h0M260.7 471.7h0M261.9 471.1h0M261.1 471.6h0M256.0 471.5h0M256.1 474.5h0M257.1 470.8h0M260.1 470.8h0M259.7 471.9h0M265.6 470.6h0M265.1 469.1h0M265.4 470.9h0M265.9 470.0h0M264.8 469.6h0M265.1 472.2h0M268.1 469.3h0M257.9 469.3h0M257.4 468.9h0M258.0 471.7h0M258.5 469.9h0M260.7 466.8h0M267.0 468.5h0M267.2 470.8h0M266.7 469.5h0M261.1 467.7h0M261.9 467.3h0M262.4 468.6h0M260.0 467.5h0M261.8 467.9h0M262.3 467.7h0M261.5 467.7h0M257.3 466.6h0M266.8 466.8h0M268.3 466.8h0M266.1 466.6h0M266.5 466.7h0M267.3 465.3h0M265.5 467.7h0M267.2 462.6h0M267.4 462.9h0M266.9 463.6h0M266.2 466.9h0M265.4 464.8h0M264.3 462.3h0M266.7 463.9h0M264.4 466.3h0M256.4 463.9h0M261.7 463.8h0M261.7 464.9h0M261.1 463.7h0M262.4 463.7h0M267.7 463.1h0M267.6 463.7h0M267.6 464.4h0M266.6 464.3h0M268.3 461.2h0M266.8 461.7h0M267.5 461.8h0M267.0 461.0h0M267.6 465.6h0M267.1 460.3h0M267.5 460.9h0M262.3 460.6h0M268.0 460.9h0M268.3 462.1h0M268.0 459.9h0M268.3 462.7h0M267.8 459.7h0M267.6 456.1h0M267.7 459.5h0M268.3 461.0h0M268.3 459.9h0M258.0 458.8h0M259.2 459.1h0M258.5 458.1h0M259.5 458.1h0M258.6 456.5h0M258.5 457.9h0M256.0 457.3h0M256.3 453.8h0M255.9 455.2h0M258.0 456.4h0M255.5 457.9h0M257.0 456.1h0M258.0 455.8h0M256.0 454.0h0M259.0 455.8h0M256.9 456.7h0M257.3 456.8h0M258.0 456.7h0M258.7 458.6h0M256.3 454.1h0M256.2 454.0h0M261.6 453.7h0M255.7 453.1h0M255.5 453.8h0M265.9 453.0h0M264.7 453.8h0M265.4 453.8h0M380.7 514.4h0M381.8 514.4h0M380.9 514.4h0M376.3 514.4h0M377.4 512.1h0M375.5 514.4h0M375.5 514.4h0M375.9 513.5h0M375.6 512.6h0M375.5 514.4h0M378.0 513.2h0M382.3 512.8h0M382.6 513.8h0M382.9 514.4h0M380.9 512.3h0M381.3 509.7h0M381.4 511.9h0M381.7 513.5h0M381.3 510.0h0M380.1 512.0h0M379.5 513.7h0M383.9 511.2h0M382.1 514.4h0M383.9 510.8h0M384.1 508.8h0M384.5 511.9h0M384.5 512.2h0M381.2 510.0h0M380.0 508.8h0M380.2 512.4h0M382.0 510.8h0M384.1 509.2h0M382.4 508.7h0M379.2 508.8h0M383.2 508.8h0M379.2 508.3h0M377.7 507.6h0M380.3 508.0h0M378.1 509.2h0M383.2 507.6h0M383.4 504.8h0M383.6 504.7h0M384.5 512.4h0M381.9 507.9h0M382.2 505.9h0M382.2 506.6h0M383.5 506.5h0M382.7 506.0h0M378.6 505.9h0M378.8 503.1h0M377.2 505.7h0M375.8 504.6h0M380.2 505.2h0M377.1 505.3h0M377.7 503.6h0M376.6 506.8h0M380.4 504.3h0M379.1 502.6h0M381.5 505.9h0M382.0 503.2h0M381.3 505.9h0M380.9 504.8h0M380.9 503.3h0M381.3 500.1h0M380.6 506.3h0M375.6 502.9h0M375.5 499.4h0M375.5 499.6h0M378.8 502.3h0M379.4 500.6h0M382.6 502.1h0M382.7 499.2h0M384.1 501.6h0M381.4 501.2h0M383.5 501.4h0M380.6 501.0h0M381.2 500.8h0M379.2 500.5h0M379.6 502.4h0M383.4 500.5h0M383.2 498.7h0M381.1 500.5h0M383.6 502.1h0M382.4 499.6h0M383.5 499.3h0M376.4 499.5h0M377.5 499.2h0M376.3 499.1h0M377.0 498.5h0M383.6 498.6h0M376.9 498.1h0M375.8 496.7h0M375.8 498.2h0M378.4 498.3h0M377.2 499.8h0M376.1 498.2h0M377.8 497.2h0M377.2 500.3h0M380.1 497.1h0M382.1 496.5h0M381.9 496.4h0M380.3 495.3h0M381.6 496.2h0M382.4 497.3h0M381.7 497.7h0M382.6 496.9h0M381.1 497.0h0M382.1 493.2h0M383.1 496.0h0M376.2 494.9h0M376.6 491.4h0M375.8 494.3h0M382.5 494.0h0M377.7 494.1h0M380.4 493.9h0M382.9 494.0h0M383.1 496.0h0M380.5 493.6h0M380.1 494.5h0M380.0 492.7h0M383.9 492.8h0M377.3 492.8h0M377.1 493.1h0M378.0 492.5h0M376.2 493.3h0M379.3 491.0h0M375.9 495.1h0M382.4 491.5h0M382.6 490.7h0M381.4 491.8h0M381.0 493.4h0M377.2 490.5h0M377.6 491.2h0M376.3 494.5h0M378.7 488.4h0M377.8 490.8h0M384.2 490.0h0M380.0 489.7h0M383.6 489.4h0M383.3 491.6h0M382.2 489.2h0M382.2 489.1h0M377.9 488.9h0M377.0 489.6h0M381.6 488.2h0M382.4 488.0h0M382.7 487.2h0M380.7 489.4h0M382.9 488.8h0M382.3 489.7h0M380.6 487.0h0M381.3 487.7h0M376.0 486.7h0M375.5 487.6h0M375.5 487.3h0M375.9 487.0h0M377.8 486.4h0M376.8 484.5h0M380.6 485.4h0M379.2 487.8h0M379.2 484.8h0M379.2 485.8h0M378.9 484.3h0M383.9 484.2h0M379.8 484.0h0M378.7 484.0h0M380.1 481.7h0M380.6 482.5h0M380.9 484.9h0M382.8 482.7h0M383.4 484.9h0M381.3 481.5h0M383.4 483.1h0M378.3 481.8h0M378.2 478.7h0M381.2 481.5h0M378.5 481.3h0M381.3 481.2h0M381.1 482.7h0M381.1 479.9h0M382.3 482.7h0M384.1 480.1h0M384.2 480.6h0M383.4 481.5h0M384.5 480.1h0M384.5 477.2h0M384.5 476.0h0M382.1 478.3h0M384.4 478.4h0M379.0 478.1h0M381.4 478.1h0M382.2 479.3h0M378.8 477.3h0M382.0 477.1h0M380.7 477.1h0M378.3 476.7h0M378.6 476.5h0M381.6 476.1h0M380.6 476.4h0M382.2 477.4h0M383.6 475.1h0M379.6 474.7h0M380.1 474.9h0M379.4 476.3h0M380.4 469.6h0M383.2 473.8h0M383.6 471.9h0M380.6 473.5h0M379.0 471.5h0M378.1 472.6h0M378.4 472.9h0M382.2 472.3h0M381.6 475.3h0M382.0 469.7h0M378.8 471.1h0M376.9 473.0h0M379.0 472.9h0M380.8 470.1h0M381.3 469.8h0M382.5 470.7h0M382.7 467.4h0M381.5 469.6h0M382.2 472.4h0M382.1 467.6h0M381.3 472.9h0M383.8 467.7h0M382.5 467.6h0M382.5 467.6h0M376.3 466.5h0M379.3 466.4h0M379.9 467.5h0M382.4 465.5h0M382.6 465.5h0M376.9 465.0h0M377.2 464.5h0M376.9 464.4h0M376.7 463.7h0M381.9 463.6h0M382.0 464.1h0M381.5 462.6h0M380.5 462.3h0M383.5 461.9h0M465.7 514.4h0M466.7 514.4h0M468.1 514.4h0M465.8 513.5h0M465.5 512.5h0M466.7 512.0h0M466.0 512.8h0M465.7 514.4h0M466.5 514.1h0M466.2 514.4h0M466.6 506.8h0M465.0 511.0h0M464.5 510.4h0M466.7 510.9h0M466.2 511.1h0M467.2 510.2h0M468.8 511.9h0M467.1 509.5h0M465.8 510.2h0M468.6 508.4h0M467.9 508.3h0M464.8 508.4h0M465.1 507.8h0M466.3 508.1h0M466.8 508.2h0M464.5 508.4h0M466.8 506.9h0M467.6 508.8h0M468.1 503.8h0M465.9 504.7h0M466.0 503.7h0M466.1 504.9h0M465.7 507.3h0M466.0 504.3h0M468.7 504.6h0M468.5 504.2h0M470.0 506.7h0M468.7 503.8h0M469.9 501.1h0M467.6 503.0h0M466.5 501.9h0M467.1 501.9h0M466.7 499.7h0M467.0 501.8h0M465.4 498.2h0M468.6 503.1h0M468.6 500.8h0M468.4 500.5h0M468.2 500.3h0M468.5 499.6h0M467.2 497.5h0M469.7 499.4h0M470.0 499.1h0M468.4 501.3h0M465.5 498.3h0M468.9 498.0h0M468.3 499.3h0M469.0 499.0h0M468.7 498.2h0M470.0 502.4h0M467.2 496.4h0M468.7 496.3h0M469.4 497.0h0M470.0 495.1h0M468.4 492.9h0M466.2 495.1h0M469.2 494.8h0M470.0 496.2h0M468.7 495.6h0M469.4 493.3h0M467.9 494.9h0M469.2 493.8h0M470.0 497.2h0M468.0 492.1h0M467.0 491.9h0M467.6 491.8h0M466.8 493.2h0M466.5 491.2h0M469.9 490.7h0M469.4 490.3h0M468.2 490.0h0M467.8 488.7h0M470.0 489.9h0M469.8 488.7h0M470.0 487.8h0M470.0 486.6h0M469.2 490.5h0M469.0 487.1h0M467.1 486.8h0M467.4 487.0h0M468.8 485.5h0M467.0 486.0h0M467.0 485.9h0M467.4 485.6h0M468.9 484.5h0M469.7 485.3h0M468.3 483.2h0M469.6 482.7h0M470.0 482.1h0M465.6 482.0h0M464.5 481.4h0M465.1 482.1h0M468.1 480.3h0M468.7 480.6h0M469.3 479.3h0M469.8 482.5h0M468.2 478.5h0M468.0 479.1h0M466.0 483.3h0M467.5 477.4h0M467.0 479.2h0M469.6 482.9h0M469.6 475.3h0M467.3 474.5h0M468.7 473.9h0M464.9 473.5h0M465.0 473.2h0M469.2 472.2h0M469.0 474.3h0" stroke="#d5b63e" stroke-width="2.9" stroke-linecap="round" fill="none"/>
<path d="M163.1 514.4h0M170.6 514.4h0M163.6 514.4h0M159.8 514.2h0M161.1 513.2h0M168.7 514.3h0M167.2 513.9h0M168.4 514.4h0M166.9 514.4h0M168.6 513.8h0M168.8 513.8h0M168.1 514.2h0M160.5 513.5h0M169.7 513.1h0M169.9 513.3h0M170.1 513.6h0M161.5 513.3h0M162.3 512.7h0M162.5 511.6h0M162.0 512.7h0M160.1 513.1h0M161.5 512.3h0M160.4 512.3h0M167.3 511.8h0M169.8 511.1h0M167.8 509.3h0M160.0 512.1h0M160.6 510.5h0M161.7 512.4h0M160.6 513.1h0M160.0 511.0h0M159.8 514.2h0M159.0 512.6h0M159.3 508.4h0M160.4 513.6h0M160.3 512.2h0M159.4 510.8h0M160.4 512.4h0M159.9 512.3h0M160.5 510.5h0M157.8 510.1h0M158.9 511.6h0M159.8 510.1h0M166.4 509.7h0M166.1 511.0h0M165.2 509.0h0M159.5 509.5h0M166.6 509.3h0M158.3 509.0h0M157.6 509.2h0M157.3 508.3h0M157.4 508.8h0M157.3 508.3h0M158.6 508.6h0M158.5 511.0h0M166.8 508.3h0M157.6 508.6h0M158.6 505.5h0M157.4 512.7h0M158.8 507.9h0M159.7 508.0h0M159.0 509.0h0M158.5 507.9h0M160.3 507.1h0M158.9 510.4h0M159.2 506.4h0M160.3 504.8h0M159.7 507.5h0M160.7 504.7h0M157.3 508.4h0M167.7 506.6h0M166.8 508.5h0M171.2 506.2h0M167.4 506.1h0M167.6 502.6h0M166.1 506.7h0M160.8 506.2h0M161.3 508.2h0M159.5 503.5h0M159.7 505.7h0M160.9 505.3h0M158.8 505.4h0M157.6 505.8h0M159.4 507.7h0M170.8 504.7h0M170.5 504.1h0M161.1 504.9h0M162.5 506.2h0M161.2 504.6h0M162.4 504.5h0M160.9 503.3h0M167.4 504.1h0M168.2 505.3h0M168.0 504.3h0M167.4 503.2h0M167.6 505.6h0M167.9 503.8h0M164.8 503.5h0M164.4 503.2h0M161.8 503.1h0M161.5 503.0h0M161.3 504.0h0M167.0 502.9h0M157.9 502.4h0M161.1 502.4h0M165.0 502.7h0M165.9 500.0h0M165.8 502.8h0M165.6 500.9h0M166.3 507.3h0M165.2 503.8h0M164.0 497.7h0M157.6 501.9h0M157.9 504.5h0M158.1 501.7h0M166.7 501.5h0M167.5 500.6h0M165.5 503.8h0M166.1 501.1h0M165.7 500.4h0M168.1 500.5h0M166.5 496.6h0M168.9 498.0h0M168.0 500.7h0M158.2 500.3h0M157.3 497.2h0M157.6 500.7h0M158.8 500.4h0M157.6 501.6h0M158.0 504.0h0M161.0 500.3h0M158.7 502.9h0M158.8 502.0h0M157.3 500.3h0M158.4 499.1h0M158.8 497.4h0M157.9 499.8h0M159.5 502.6h0M158.9 500.0h0M157.4 497.7h0M158.6 499.6h0M158.3 500.9h0M157.9 498.7h0M158.0 499.3h0M157.7 499.2h0M165.6 497.6h0M166.2 500.5h0M159.8 497.3h0M169.1 497.2h0M167.2 497.3h0M164.2 497.0h0M164.8 496.0h0M165.0 496.1h0M162.6 498.9h0M164.3 495.9h0M162.6 492.5h0M163.2 498.4h0M163.3 494.6h0M162.6 496.3h0M161.9 496.1h0M163.6 496.9h0M169.5 495.7h0M158.7 495.9h0M171.0 495.3h0M157.4 495.4h0M165.0 495.3h0M165.3 494.4h0M163.7 495.0h0M164.2 496.1h0M164.0 496.4h0M163.0 494.6h0M163.7 495.9h0M165.7 496.7h0M162.7 495.8h0M171.1 494.4h0M157.9 494.3h0M157.3 494.5h0M157.6 492.1h0M157.8 493.7h0M161.1 493.8h0M158.8 493.6h0M159.1 493.8h0M170.8 493.4h0M171.2 495.7h0M170.0 493.4h0M161.0 493.1h0M161.7 493.5h0M162.0 492.1h0M160.8 491.0h0M162.3 492.6h0M164.5 492.4h0M158.9 492.3h0M170.0 492.1h0M170.9 490.9h0M169.2 492.0h0M158.2 491.7h0M170.3 492.0h0M171.1 489.6h0M169.2 491.4h0M163.9 491.3h0M164.8 490.5h0M162.9 490.8h0M165.5 489.2h0M162.5 490.7h0M161.7 488.5h0M164.6 490.6h0M165.7 490.7h0M167.5 490.2h0M167.9 494.2h0M168.9 489.7h0M160.1 490.0h0M160.3 492.2h0M160.8 489.0h0M161.8 488.6h0M157.7 489.3h0M168.2 489.3h0M168.1 489.6h0M170.3 489.1h0M170.2 488.9h0M171.3 488.2h0M171.3 488.7h0M169.9 490.0h0M169.4 488.7h0M168.7 488.4h0M160.6 488.4h0M170.5 488.4h0M170.7 491.3h0M160.6 488.0h0M160.3 488.3h0M161.7 489.2h0M160.6 489.3h0M161.0 486.1h0M159.3 487.0h0M170.2 486.9h0M171.3 488.9h0M170.7 487.1h0M159.1 487.3h0M168.7 486.6h0M165.0 486.6h0M164.7 486.2h0M160.1 486.3h0M160.8 486.2h0M165.4 486.3h0M162.8 485.9h0M158.0 485.8h0M157.3 484.4h0M157.3 487.4h0M158.7 486.0h0M157.5 484.5h0M157.3 485.2h0M166.7 485.1h0M166.6 490.4h0M157.6 485.2h0M160.2 484.8h0M162.3 486.7h0M161.3 484.7h0M160.5 483.8h0M163.7 484.2h0M163.8 481.4h0M164.5 486.6h0M165.5 483.8h0M161.3 484.2h0M169.7 483.9h0M169.1 482.0h0M169.5 481.7h0M159.5 483.6h0M159.2 483.1h0M157.4 482.1h0M160.9 485.1h0M169.7 482.6h0M168.9 480.8h0M168.7 482.9h0M162.0 482.3h0M161.0 481.7h0M167.2 482.3h0M167.8 479.7h0M157.3 482.2h0M164.4 482.2h0M167.9 482.0h0M168.5 480.8h0M161.0 481.8h0M160.6 481.3h0M161.4 481.1h0M160.3 481.3h0M161.6 480.9h0M161.4 474.8h0M159.9 480.2h0M162.4 480.9h0M163.0 481.4h0M159.9 480.3h0M159.5 481.6h0M162.9 480.2h0M163.6 479.2h0M163.6 482.7h0M165.8 479.7h0M170.7 479.6h0M169.9 479.2h0M168.1 479.4h0M167.9 480.4h0M169.0 475.3h0M166.8 478.2h0M164.6 478.9h0M164.0 484.0h0M165.1 479.7h0M164.7 478.5h0M165.0 481.0h0M164.7 480.6h0M166.1 479.3h0M165.3 479.5h0M167.0 477.8h0M157.8 477.2h0M157.3 480.5h0M161.5 477.1h0M164.2 476.9h0M159.7 476.9h0M157.4 477.0h0M160.9 476.4h0M165.8 476.4h0M165.3 472.4h0M167.0 476.1h0M168.7 477.6h0M157.9 475.6h0M157.3 475.6h0M163.9 475.1h0M165.4 473.8h0M163.3 475.2h0M164.2 474.0h0M165.2 474.9h0M165.3 476.3h0M165.1 480.1h0M160.4 474.6h0M166.7 474.2h0M167.9 475.9h0M166.7 471.6h0M166.4 471.8h0M168.4 473.6h0M162.7 473.1h0M168.7 473.2h0M169.9 476.3h0M169.0 472.1h0M170.3 471.5h0M170.6 471.3h0M169.2 473.8h0M168.9 472.2h0M167.7 475.8h0M162.9 472.2h0M161.8 466.6h0M162.3 471.0h0M162.9 473.3h0M167.4 471.5h0M167.3 469.0h0M164.7 471.0h0M165.9 471.2h0M169.7 470.4h0M169.4 469.5h0M170.4 468.9h0M170.5 470.3h0M170.8 470.5h0M170.0 468.5h0M169.9 469.2h0M170.1 469.9h0M170.9 473.2h0M170.6 471.2h0M171.1 468.4h0M171.3 466.5h0M171.3 468.5h0M164.8 468.1h0M166.1 468.6h0M167.9 468.0h0M168.1 467.6h0M168.6 464.6h0M166.2 467.4h0M165.6 467.1h0M164.4 469.2h0M170.9 466.5h0M171.1 465.6h0M169.8 466.4h0M170.0 466.4h0M171.3 466.6h0M170.9 466.1h0M169.2 465.3h0M166.2 465.4h0M162.4 465.1h0M159.6 466.7h0M160.2 464.6h0M162.6 465.0h0M162.5 464.2h0M166.1 464.4h0M164.8 463.1h0M164.8 463.5h0M160.9 463.3h0M164.9 463.0h0M165.7 460.4h0M163.9 464.3h0M158.2 462.5h0M162.5 462.2h0M170.0 462.5h0M163.6 461.9h0M169.8 461.8h0M171.1 466.9h0M170.9 462.4h0M169.7 462.1h0M171.2 460.5h0M171.3 460.6h0M165.7 460.4h0M167.3 460.1h0M157.4 460.0h0M158.9 459.7h0M158.5 459.4h0M158.4 461.1h0M168.7 458.9h0M162.5 458.6h0M163.8 458.3h0M165.8 460.1h0M163.0 458.5h0M166.9 458.2h0M281.2 514.4h0M280.6 513.5h0M281.4 514.3h0M281.1 514.0h0M281.2 513.7h0M281.5 514.4h0M283.9 513.9h0M282.2 513.3h0M283.6 514.4h0M284.7 513.3h0M284.3 513.4h0M281.0 513.5h0M277.7 513.6h0M280.8 513.1h0M286.3 513.2h0M278.0 513.3h0M277.3 514.4h0M278.5 507.9h0M278.6 514.4h0M287.4 512.3h0M278.2 512.2h0M286.0 512.2h0M286.1 512.9h0M286.6 511.6h0M288.5 512.0h0M284.9 511.9h0M290.2 511.7h0M286.9 511.7h0M280.8 511.5h0M281.4 512.4h0M287.2 511.1h0M287.0 510.0h0M285.7 511.9h0M288.2 512.4h0M287.7 512.4h0M284.9 507.0h0M288.4 510.6h0M288.7 509.3h0M288.3 509.4h0M288.3 509.4h0M289.1 508.6h0M289.8 510.9h0M287.2 508.2h0M287.7 509.7h0M288.3 508.8h0M288.1 513.4h0M277.9 509.1h0M284.8 509.2h0M284.1 508.9h0M288.3 508.9h0M288.5 509.7h0M280.1 508.9h0M282.0 508.5h0M289.6 508.4h0M280.4 508.5h0M280.6 508.5h0M288.8 508.0h0M290.6 507.8h0M290.7 509.7h0M281.7 507.6h0M280.7 507.6h0M283.0 507.7h0M282.1 506.5h0M281.8 507.1h0M281.4 505.6h0M281.5 507.0h0M278.2 506.8h0M277.5 505.2h0M279.0 508.6h0M277.3 508.6h0M278.3 507.6h0M289.9 506.4h0M287.9 503.9h0M289.5 510.1h0M277.7 505.9h0M277.3 505.1h0M278.7 504.1h0M277.3 505.9h0M280.0 505.3h0M279.2 505.4h0M280.5 505.3h0M281.4 504.5h0M279.1 504.3h0M277.9 503.8h0M280.5 508.1h0M280.2 504.5h0M286.6 504.6h0M286.2 506.9h0M285.1 503.9h0M278.4 504.0h0M278.0 506.9h0M282.0 503.9h0M282.0 504.4h0M289.7 503.7h0M280.4 503.4h0M280.1 504.0h0M280.0 503.3h0M282.4 504.2h0M279.4 505.5h0M280.2 501.5h0M279.0 504.8h0M280.4 504.6h0M278.8 501.0h0M280.2 504.5h0M285.5 502.0h0M279.2 502.2h0M279.7 502.7h0M286.6 501.6h0M286.1 498.8h0M282.6 501.8h0M284.5 501.5h0M284.1 500.9h0M284.3 500.3h0M284.4 500.8h0M286.3 498.5h0M282.6 499.9h0M281.6 500.4h0M282.5 504.0h0M283.9 501.6h0M282.8 500.3h0M283.7 500.0h0M284.5 504.2h0M281.2 499.9h0M277.5 499.7h0M289.6 499.5h0M289.0 498.5h0M290.0 497.9h0M289.3 498.8h0M286.5 499.1h0M285.1 498.2h0M286.9 498.9h0M280.2 498.5h0M280.5 498.4h0M281.9 499.1h0M279.4 501.8h0M280.5 497.0h0M279.4 500.7h0M280.4 500.1h0M279.4 499.3h0M279.7 500.3h0M288.8 497.3h0M288.2 498.7h0M283.8 497.6h0M283.1 496.8h0M283.8 497.3h0M283.6 498.1h0M284.5 496.7h0M282.5 496.6h0M285.7 496.0h0M286.8 495.2h0M279.9 496.2h0M290.9 495.7h0M283.2 495.8h0M285.9 495.9h0M279.7 495.3h0M287.5 495.6h0M286.4 495.5h0M283.0 495.1h0M285.3 494.4h0M280.7 494.6h0M283.2 494.6h0M290.8 494.8h0M277.7 494.1h0M277.8 492.7h0M279.3 494.1h0M279.9 494.0h0M280.4 497.0h0M278.0 492.3h0M289.8 493.5h0M289.0 491.9h0M289.0 494.8h0M286.5 492.9h0M287.2 491.2h0M287.4 493.4h0M283.2 492.8h0M287.9 492.4h0M289.0 492.3h0M288.8 492.8h0M287.5 491.7h0M289.0 494.2h0M288.9 493.9h0M284.5 491.5h0M285.1 490.2h0M284.3 491.1h0M285.9 490.5h0M284.4 490.5h0M278.0 490.5h0M283.3 490.9h0M278.0 490.4h0M277.4 487.9h0M279.3 491.6h0M279.7 488.9h0M290.6 489.9h0M291.0 489.1h0M285.0 489.3h0M283.5 489.3h0M281.4 489.1h0M281.7 489.1h0M279.8 488.6h0M278.8 488.7h0M281.7 484.3h0M280.4 488.4h0M289.1 488.4h0M279.3 488.1h0M278.5 488.5h0M280.1 487.0h0M279.9 489.1h0M277.9 487.8h0M277.7 489.4h0M281.1 487.2h0M282.8 484.6h0M279.6 486.0h0M282.7 486.4h0M282.7 486.4h0M282.5 489.6h0M288.4 485.9h0M286.0 486.1h0M285.3 484.8h0M285.6 487.0h0M287.4 485.0h0M280.2 485.0h0M281.3 486.5h0M281.1 484.8h0M279.9 484.1h0M279.7 484.6h0M279.5 487.8h0M280.8 486.8h0M288.2 483.8h0M279.6 483.7h0M278.5 485.1h0M278.7 483.8h0M278.2 482.7h0M277.8 486.0h0M278.4 482.9h0M283.0 482.9h0M283.0 483.5h0M284.1 483.3h0M284.3 482.1h0M284.6 482.2h0M286.8 481.4h0M286.6 483.3h0M288.0 483.2h0M286.8 480.6h0M285.7 479.4h0M286.0 480.8h0M285.5 480.8h0M287.5 477.2h0M284.3 479.2h0M284.9 477.1h0M285.7 478.5h0M285.9 479.7h0M285.1 480.4h0M283.5 479.2h0M282.4 481.9h0M281.7 478.7h0M283.7 478.6h0M278.8 478.5h0M278.9 479.0h0M280.2 476.0h0M283.8 478.1h0M288.6 477.8h0M281.1 477.6h0M279.6 481.0h0M279.8 478.2h0M277.4 476.7h0M277.3 476.3h0M283.0 476.4h0M284.4 474.6h0M283.6 475.9h0M288.0 475.9h0M290.4 475.5h0M291.0 477.0h0M289.0 477.6h0M290.7 477.3h0M281.9 475.0h0M283.2 473.1h0M277.9 474.6h0M280.7 474.2h0M278.5 474.0h0M277.3 476.5h0M277.4 476.1h0M278.0 470.5h0M282.6 473.5h0M286.7 472.9h0M287.2 471.1h0M288.2 472.7h0M282.3 472.7h0M278.4 472.3h0M277.6 469.4h0M289.5 471.8h0M289.2 473.9h0M278.9 471.2h0M279.7 471.8h0M279.7 475.2h0M277.7 471.4h0M290.8 470.7h0M289.3 470.9h0M288.4 470.7h0M286.6 469.9h0M286.4 470.4h0M287.6 470.9h0M290.4 468.8h0M291.0 470.4h0M291.0 468.7h0M289.4 469.7h0M290.4 470.0h0M291.0 471.5h0M288.4 467.6h0M287.4 466.2h0M277.8 467.2h0M280.7 467.2h0M282.3 468.4h0M278.6 468.3h0M281.9 467.2h0M283.4 467.9h0M279.6 468.2h0M279.7 469.6h0M280.4 466.6h0M280.7 470.1h0M279.3 469.7h0M282.5 469.0h0M280.8 469.2h0M280.2 465.9h0M282.0 464.6h0M281.2 466.4h0M402.6 514.4h0M401.6 512.5h0M403.0 511.0h0M403.8 514.4h0M397.7 513.9h0M398.7 514.4h0M403.1 513.3h0M400.4 513.6h0M400.7 510.8h0M398.3 513.0h0M398.0 514.4h0M399.0 510.8h0M400.6 511.0h0M398.4 511.9h0M397.9 511.9h0M399.3 512.0h0M401.1 511.6h0M402.6 511.7h0M404.5 512.5h0M402.9 510.9h0M402.9 507.4h0M404.5 511.5h0M402.7 512.6h0M402.9 512.4h0M404.5 508.0h0M400.6 509.8h0M401.1 510.2h0M399.5 508.2h0M397.4 509.1h0M399.5 508.8h0M398.7 508.7h0M401.7 508.5h0M404.3 508.2h0M401.8 508.1h0M400.5 509.0h0M402.3 505.8h0M403.7 507.6h0M401.3 507.1h0M398.9 506.9h0M398.4 504.7h0M398.5 510.8h0M396.5 504.2h0M399.6 507.8h0M400.3 510.6h0M399.7 505.5h0M399.7 501.5h0M399.7 505.2h0M399.9 507.6h0M397.4 506.7h0M400.7 505.0h0M398.9 504.7h0M400.2 504.4h0M404.2 504.2h0M404.5 506.0h0M403.2 503.8h0M402.9 505.3h0M404.5 502.8h0M404.1 503.0h0M402.4 502.6h0M404.2 502.7h0M404.4 503.6h0M397.2 502.3h0M398.8 503.9h0M403.8 501.7h0M403.4 505.1h0M404.0 500.2h0M403.6 502.4h0M402.3 500.3h0M403.6 503.1h0M400.2 500.3h0M397.4 500.7h0M396.6 500.7h0M397.9 501.5h0M401.5 499.7h0M400.6 498.4h0M397.3 499.5h0M397.5 499.5h0M398.0 500.5h0M399.2 498.4h0M399.2 499.4h0M401.3 498.3h0M398.2 497.4h0M399.8 496.9h0M399.9 498.0h0M399.1 498.0h0M400.2 497.6h0M397.8 497.0h0M396.6 498.1h0M396.5 496.1h0M398.1 494.2h0M397.6 498.1h0M396.8 496.1h0M398.2 496.2h0M401.8 495.8h0M401.6 495.5h0M403.8 495.0h0M403.2 495.0h0M401.7 494.8h0M400.5 496.0h0M403.1 494.2h0M403.3 494.1h0M400.6 493.1h0M401.6 493.8h0M402.1 493.2h0M401.7 493.6h0M401.7 493.0h0M399.2 492.9h0M399.9 492.8h0M397.4 492.7h0M399.6 491.4h0M397.2 492.4h0M398.2 494.5h0M402.1 491.8h0M403.5 491.6h0M404.5 493.6h0M398.3 491.1h0M404.1 490.7h0M403.0 490.8h0M403.1 489.8h0M404.5 489.6h0M398.1 489.7h0M396.7 490.0h0M399.9 489.4h0M401.7 489.3h0M397.7 489.2h0M399.3 489.1h0M398.3 488.1h0M400.0 488.6h0M399.7 487.8h0M399.0 488.3h0M398.7 487.9h0M398.3 487.8h0M398.1 490.0h0M397.5 487.4h0M401.3 487.2h0M402.3 486.8h0M402.1 486.6h0M401.2 487.1h0M401.4 485.3h0M402.1 486.9h0M400.0 486.0h0M401.1 485.7h0M401.3 486.0h0M400.7 488.8h0M401.9 485.2h0M403.0 488.5h0M402.5 483.9h0M397.3 484.4h0M397.7 484.7h0M401.0 483.9h0M404.2 484.1h0M404.5 481.9h0M403.9 483.7h0M397.7 483.1h0M403.2 482.8h0M399.9 482.9h0M399.1 483.5h0M398.3 484.5h0M401.4 480.2h0M401.0 481.0h0M400.5 483.4h0M403.3 481.7h0M404.0 481.3h0M404.1 479.1h0M399.6 480.7h0M400.8 481.0h0M400.9 480.6h0M397.7 480.5h0M399.5 480.5h0M396.5 483.2h0M396.8 479.8h0M398.8 480.6h0M397.0 479.9h0M396.5 478.5h0M398.1 474.9h0M400.2 478.5h0M400.4 477.9h0M397.9 478.0h0M399.7 478.2h0M399.4 478.2h0M399.8 479.1h0M400.7 477.6h0M397.8 477.3h0M396.5 476.9h0M399.6 481.7h0M399.4 474.3h0M397.6 479.7h0M398.7 474.8h0M397.2 475.8h0M402.0 475.7h0M403.6 475.9h0M402.2 475.1h0M401.9 474.3h0M399.6 474.8h0M400.9 473.6h0M399.7 475.7h0M400.7 475.4h0M400.0 478.2h0M397.1 473.7h0M397.7 474.0h0M396.5 473.3h0M397.1 475.3h0M399.4 472.9h0M403.4 472.8h0M404.5 473.9h0M404.5 469.2h0M404.0 472.0h0M404.5 473.2h0M404.5 474.1h0M403.6 476.0h0M402.8 473.3h0M403.4 473.9h0M402.9 473.4h0M404.5 473.3h0M402.4 470.6h0M403.4 473.7h0M402.2 469.9h0M401.9 470.6h0M403.5 469.2h0M402.0 469.5h0M398.0 468.9h0M401.0 468.7h0M398.4 468.7h0M397.7 471.1h0M397.5 472.1h0M404.1 467.7h0M400.5 467.3h0M402.2 465.1h0M401.1 465.9h0M399.6 464.7h0M400.0 467.1h0M404.4 466.2h0M404.5 468.0h0M403.8 468.4h0M399.7 465.3h0M399.6 464.6h0M403.9 464.6h0M403.8 464.5h0M400.3 464.3h0M399.5 463.0h0M403.3 463.5h0M403.5 465.1h0M403.0 461.1h0M403.5 465.4h0M402.3 463.0h0M403.9 464.4h0M401.3 465.2h0M400.1 461.3h0M400.3 459.5h0M400.5 462.0h0M399.4 460.3h0M398.4 463.1h0M398.1 456.7h0M401.9 459.0h0M402.8 455.5h0M404.4 457.3h0M402.7 458.4h0M403.1 458.9h0M404.4 457.4h0M404.1 457.2h0M396.7 456.9h0M398.2 458.1h0M396.5 455.4h0M396.5 458.4h0M396.5 456.3h0M398.9 457.7h0M396.5 457.4h0M396.5 457.5h0M399.9 456.7h0M488.0 514.4h0M480.7 514.4h0M482.1 514.4h0M480.7 514.4h0M479.5 513.7h0M481.2 514.4h0M486.7 514.4h0M485.2 512.4h0M487.0 514.4h0M486.7 513.0h0M491.3 513.6h0M493.3 511.3h0M491.1 514.2h0M490.7 514.4h0M486.3 513.0h0M483.8 513.2h0M484.8 513.3h0M483.5 512.6h0M484.2 514.4h0M483.1 513.7h0M484.9 512.9h0M487.5 512.3h0M488.7 512.5h0M491.0 512.4h0M488.9 512.1h0M487.1 510.7h0M489.0 508.7h0M490.2 512.1h0M490.3 512.9h0M490.7 510.5h0M489.9 511.5h0M491.0 511.2h0M481.7 511.2h0M492.0 511.2h0M491.3 509.6h0M486.2 510.9h0M486.9 510.5h0M486.5 512.1h0M487.1 512.3h0M489.4 510.5h0M489.0 511.8h0M488.1 513.8h0M491.8 509.9h0M485.3 509.9h0M486.5 506.7h0M484.6 511.6h0M485.5 509.8h0M484.2 508.9h0M486.8 507.5h0M493.1 509.1h0M493.4 510.1h0M481.8 509.2h0M481.2 510.8h0M482.3 509.2h0M480.2 506.6h0M481.0 508.8h0M481.8 505.2h0M491.9 508.2h0M487.6 508.2h0M492.8 507.9h0M484.6 508.0h0M493.3 508.1h0M493.4 506.1h0M491.2 511.2h0M485.4 507.6h0M480.6 507.5h0M480.4 506.9h0M480.2 507.1h0M480.6 507.3h0M489.5 506.7h0M489.1 504.2h0M479.5 506.9h0M479.5 506.6h0M479.5 506.9h0M479.5 508.3h0M480.7 506.4h0M480.6 504.9h0M479.5 506.2h0M481.0 506.2h0M481.2 505.7h0M479.6 508.0h0M488.1 505.7h0M488.0 507.0h0M488.9 504.8h0M482.0 505.2h0M482.4 505.9h0M482.7 506.5h0M483.0 505.0h0M482.2 505.8h0M482.5 504.4h0M483.2 502.3h0M485.2 504.5h0M484.5 504.2h0M484.5 501.7h0M484.6 500.7h0M483.5 506.2h0M485.2 503.9h0M485.6 503.6h0M493.5 503.3h0M481.3 503.4h0M480.2 506.7h0M481.0 501.6h0M480.3 504.9h0M493.1 503.0h0M492.5 503.7h0M491.0 505.7h0M492.5 503.5h0M481.3 501.9h0M493.5 501.9h0M490.3 502.0h0M490.3 502.4h0M490.3 503.0h0M493.2 501.7h0M484.0 501.4h0M489.5 501.3h0M481.8 501.4h0M492.9 500.9h0M485.8 500.9h0M485.8 497.7h0M487.8 501.4h0M485.8 500.4h0M490.4 500.2h0M490.1 499.8h0M489.0 499.7h0M489.1 500.1h0M487.9 499.9h0M490.7 499.8h0M490.8 499.2h0M486.7 499.4h0M487.6 501.2h0M486.2 498.3h0M485.1 502.3h0M483.2 498.7h0M490.6 498.7h0M493.1 498.7h0M487.3 498.1h0M491.4 498.3h0M491.6 498.5h0M486.0 497.9h0M485.6 497.7h0M485.2 496.9h0M484.7 497.0h0M484.6 495.3h0M485.0 498.5h0M491.2 496.9h0M485.3 496.4h0M489.1 496.5h0M481.3 496.5h0M482.9 498.4h0M479.9 495.1h0M490.4 496.2h0M480.2 495.6h0M480.8 497.9h0M481.6 495.3h0M485.0 495.3h0M489.3 495.2h0M488.3 495.0h0M488.0 491.7h0M487.7 493.9h0M491.6 494.5h0M491.6 491.5h0M492.7 498.3h0M491.4 494.7h0M492.1 494.8h0M492.1 494.7h0M481.6 493.5h0M480.4 493.5h0M487.7 493.2h0M488.0 492.2h0M487.6 492.9h0M485.8 493.2h0M486.9 492.5h0M488.2 490.9h0M487.0 493.0h0M493.1 491.9h0M494.2 489.7h0M492.9 494.7h0M492.9 491.9h0M494.2 493.5h0M492.2 491.3h0M481.3 491.2h0M488.4 490.8h0M487.0 492.2h0M487.6 490.8h0M489.9 490.2h0M491.0 493.8h0M491.5 489.8h0M482.8 489.3h0M482.5 488.2h0M481.4 489.0h0M481.6 486.2h0M493.0 488.7h0M491.8 490.2h0M492.1 490.5h0M492.8 484.4h0M492.9 488.2h0M494.0 491.8h0M492.1 490.8h0M493.0 490.2h0M489.8 487.6h0M480.2 487.3h0M479.5 486.9h0M479.5 487.1h0M479.5 490.6h0M480.1 485.6h0M493.5 486.0h0M493.0 487.1h0M494.2 485.7h0M494.2 486.2h0M494.2 485.3h0M494.2 482.4h0M494.2 488.1h0M494.2 483.7h0M493.4 484.4h0M479.8 484.5h0M479.8 484.9h0M482.3 483.8h0M488.4 483.7h0M488.4 481.1h0M486.5 485.8h0M487.5 483.3h0M487.4 487.6h0M489.2 486.9h0M488.3 483.6h0M488.7 482.8h0M489.1 485.8h0M488.9 482.0h0M489.5 481.1h0M487.8 486.6h0M485.6 481.2h0" stroke="#a45c4f" stroke-width="2.9" stroke-linecap="round" fill="none"/>
<path d="M175.2 514.4h0M175.1 514.0h0M179.8 514.4h0M179.9 513.1h0M179.7 514.4h0M180.8 514.4h0M180.1 514.3h0M180.6 514.4h0M183.2 514.0h0M183.7 512.9h0M181.6 514.4h0M183.7 512.8h0M176.6 513.6h0M175.3 513.4h0M175.5 513.1h0M176.7 512.3h0M175.2 514.4h0M177.2 512.7h0M175.9 514.4h0M176.5 514.4h0M177.3 513.1h0M187.2 512.7h0M186.9 513.5h0M185.4 511.7h0M186.7 513.7h0M175.8 512.3h0M175.9 510.2h0M175.4 514.4h0M175.0 514.4h0M185.9 511.8h0M186.4 512.8h0M185.2 509.6h0M186.7 510.6h0M174.5 511.3h0M178.4 511.3h0M178.7 511.0h0M185.5 511.1h0M188.4 510.8h0M179.9 510.7h0M180.3 510.5h0M178.7 509.7h0M181.3 510.2h0M175.5 510.3h0M178.8 510.2h0M176.5 510.3h0M187.5 510.0h0M187.6 508.2h0M187.7 510.1h0M186.9 511.6h0M186.4 510.5h0M187.5 509.1h0M186.6 507.4h0M187.0 510.9h0M187.7 512.6h0M188.2 510.9h0M187.2 512.7h0M187.7 507.8h0M188.3 511.4h0M188.9 508.8h0M177.2 508.9h0M177.8 510.3h0M176.7 506.8h0M176.9 509.7h0M185.4 508.1h0M186.4 508.1h0M188.3 508.2h0M187.9 508.9h0M185.4 508.1h0M186.3 508.0h0M186.4 504.7h0M187.2 508.5h0M186.8 507.1h0M187.6 510.7h0M189.0 507.8h0M175.4 507.4h0M178.5 506.6h0M176.1 506.9h0M175.6 506.5h0M176.8 507.3h0M173.9 506.2h0M180.7 506.5h0M178.9 505.3h0M178.8 508.6h0M181.5 506.1h0M178.5 504.3h0M179.7 511.7h0M179.2 506.4h0M181.5 507.5h0M176.5 505.5h0M175.5 506.9h0M176.7 503.9h0M184.8 505.1h0M184.4 506.6h0M183.9 504.2h0M182.2 504.8h0M182.6 505.7h0M181.4 505.0h0M176.5 504.5h0M176.6 503.0h0M177.2 505.1h0M176.3 502.9h0M177.1 504.1h0M176.2 506.5h0M177.9 504.2h0M185.0 503.7h0M186.4 503.5h0M179.0 503.8h0M180.7 503.7h0M174.5 503.5h0M175.3 502.5h0M174.2 499.8h0M174.4 504.6h0M178.1 502.9h0M179.4 502.9h0M177.4 503.3h0M178.9 506.7h0M178.2 502.6h0M177.7 504.0h0M176.3 505.6h0M179.1 502.7h0M176.9 501.8h0M184.6 502.1h0M187.6 502.2h0M187.9 501.8h0M187.9 498.7h0M186.6 505.1h0M181.4 501.5h0M187.0 501.3h0M186.4 499.7h0M184.8 501.2h0M184.9 500.0h0M183.8 498.6h0M176.1 500.9h0M178.8 501.3h0M175.7 499.8h0M178.2 500.5h0M178.7 497.0h0M183.6 500.5h0M183.1 500.4h0M185.7 501.3h0M185.5 500.0h0M184.2 502.8h0M183.9 502.0h0M184.2 496.5h0M185.4 500.7h0M183.3 497.8h0M178.8 499.2h0M176.0 499.3h0M177.4 499.5h0M174.9 499.0h0M175.5 499.1h0M174.4 499.0h0M176.0 499.8h0M180.7 498.7h0M188.6 498.5h0M189.0 499.1h0M189.0 501.7h0M185.3 498.0h0M180.0 498.2h0M179.1 500.3h0M178.4 498.5h0M178.2 499.5h0M177.6 497.8h0M177.8 501.8h0M179.6 497.4h0M174.9 497.3h0M175.5 498.4h0M174.5 497.2h0M187.5 496.9h0M182.6 497.0h0M181.4 497.7h0M182.3 497.9h0M181.1 495.3h0M184.8 496.4h0M182.1 496.2h0M175.9 496.0h0M175.9 494.3h0M187.3 496.2h0M183.8 496.2h0M186.7 495.9h0M181.6 495.9h0M180.4 495.6h0M180.1 495.7h0M182.1 493.9h0M185.9 495.3h0M184.7 495.3h0M185.3 499.3h0M184.9 494.1h0M176.3 495.1h0M175.9 494.4h0M183.0 494.6h0M173.7 494.7h0M175.4 497.4h0M173.9 493.7h0M173.3 495.2h0M173.3 493.3h0M176.6 494.4h0M177.3 496.2h0M187.2 493.9h0M183.4 493.8h0M180.3 493.7h0M179.3 489.9h0M180.5 492.3h0M176.6 493.4h0M175.7 494.7h0M176.1 493.0h0M178.8 493.2h0M177.7 491.5h0M177.0 492.2h0M185.3 492.6h0M186.5 491.7h0M184.6 492.5h0M184.9 494.1h0M185.2 494.0h0M185.5 493.4h0M180.1 492.1h0M179.8 488.0h0M175.0 491.8h0M175.4 491.5h0M175.2 492.1h0M176.1 495.7h0M175.4 491.1h0M175.0 491.3h0M182.2 491.5h0M183.3 490.9h0M184.2 491.6h0M185.6 491.0h0M185.6 491.4h0M185.8 493.3h0M182.5 490.6h0M181.3 492.6h0M183.6 490.2h0M181.8 488.9h0M182.5 494.6h0M179.9 490.1h0M179.4 490.0h0M178.3 492.1h0M183.0 489.7h0M182.5 490.8h0M181.4 486.8h0M186.8 489.4h0M188.2 489.7h0M186.8 492.1h0M185.9 489.2h0M185.5 490.0h0M186.7 486.7h0M184.8 488.4h0M180.4 488.8h0M182.1 487.9h0M179.1 488.9h0M177.0 488.5h0M186.1 488.4h0M186.4 490.2h0M185.7 491.4h0M177.4 487.9h0M184.5 488.1h0M184.7 488.5h0M183.8 485.8h0M184.9 489.3h0M174.1 487.4h0M174.8 485.1h0M173.4 490.1h0M175.2 486.3h0M182.7 487.0h0M184.2 486.5h0M175.3 486.7h0M173.9 488.0h0M177.1 486.8h0M177.1 484.5h0M176.3 486.4h0M176.8 487.1h0M175.9 487.5h0M175.0 485.9h0M176.7 488.0h0M176.5 488.1h0M174.6 487.5h0M176.1 487.4h0M176.3 487.1h0M174.2 485.6h0M184.4 485.3h0M186.2 483.4h0M185.1 481.4h0M175.3 484.8h0M184.0 484.9h0M184.0 481.6h0M182.6 485.5h0M184.7 483.5h0M184.3 482.6h0M186.6 484.1h0M187.1 486.3h0M186.1 485.3h0M187.7 484.1h0M179.7 483.7h0M178.8 485.4h0M180.3 483.9h0M178.8 483.4h0M179.5 482.8h0M181.8 485.2h0M179.7 481.1h0M179.2 483.0h0M180.4 485.3h0M179.3 481.9h0M179.3 483.7h0M180.4 483.3h0M178.3 485.8h0M179.1 482.0h0M179.7 480.3h0M179.6 482.9h0M179.0 482.1h0M181.0 483.5h0M180.0 479.1h0M178.8 481.0h0M180.1 481.3h0M184.1 481.0h0M185.4 480.5h0M185.2 479.8h0M181.3 480.9h0M185.9 480.6h0M185.0 478.5h0M185.9 479.6h0M185.5 480.2h0M185.0 481.3h0M179.7 480.0h0M181.6 479.8h0M173.9 479.6h0M175.6 479.7h0M175.4 478.6h0M180.6 479.1h0M181.4 479.9h0M176.0 478.9h0M175.7 479.7h0M180.1 478.6h0M179.4 478.3h0M178.3 478.4h0M178.3 478.3h0M185.2 478.1h0M186.8 477.9h0M186.8 476.0h0M186.4 478.0h0M177.4 477.5h0M183.2 477.2h0M181.9 478.3h0M183.1 477.4h0M181.2 476.6h0M187.5 476.9h0M187.4 478.0h0M178.2 476.6h0M177.2 480.7h0M179.9 476.2h0M179.0 476.2h0M179.3 475.2h0M178.7 474.1h0M176.8 475.7h0M187.1 475.2h0M186.0 475.7h0M182.3 475.5h0M182.0 476.1h0M181.5 472.7h0M182.1 475.0h0M173.6 474.4h0M173.6 473.2h0M174.1 474.3h0M174.7 473.7h0M173.3 470.9h0M180.5 473.8h0M180.0 474.4h0M180.7 471.6h0M180.8 473.4h0M180.8 474.3h0M180.6 471.4h0M188.6 473.0h0M176.8 473.0h0M181.3 472.6h0M186.4 472.6h0M185.5 471.3h0M182.7 472.0h0M182.2 472.9h0M183.1 475.2h0M183.3 473.0h0M182.9 471.5h0M182.4 470.3h0M188.1 470.8h0M175.4 470.9h0M188.1 471.0h0M174.2 470.6h0M175.3 470.5h0M173.5 470.2h0M187.0 470.2h0M186.1 472.3h0M186.0 471.3h0M187.0 471.2h0M188.1 471.7h0M189.0 467.5h0M176.5 469.2h0M186.2 469.1h0M176.4 468.5h0M188.3 468.8h0M179.7 468.6h0M179.0 468.6h0M180.8 467.5h0M177.8 467.6h0M178.7 465.7h0M180.4 469.7h0M181.3 467.5h0M176.6 467.1h0M175.9 468.0h0M176.3 465.0h0M176.9 465.5h0M177.6 464.1h0M188.0 466.1h0M188.2 468.3h0M176.9 465.7h0M176.3 468.9h0M175.2 468.7h0M177.6 464.5h0M178.3 465.9h0M178.0 464.9h0M176.9 466.0h0M184.8 464.7h0M188.0 464.4h0M184.6 464.3h0M180.0 463.9h0M179.6 460.3h0M180.2 464.6h0M179.4 464.0h0M178.7 463.1h0M179.3 463.9h0M178.1 464.2h0M178.9 464.6h0M175.2 462.3h0M175.1 462.0h0M175.9 459.5h0M174.2 462.1h0M174.0 461.5h0M173.3 460.1h0M173.3 462.1h0M173.3 462.2h0M174.6 462.3h0M179.8 460.7h0M177.8 463.6h0M187.8 460.1h0M174.9 460.0h0M173.3 461.8h0M175.7 461.6h0M189.0 459.0h0M189.0 460.6h0M186.9 459.4h0M184.4 460.8h0M185.9 461.3h0M186.2 461.0h0M302.3 514.4h0M299.8 514.4h0M303.1 514.4h0M299.6 514.4h0M298.4 514.2h0M302.9 514.4h0M304.3 511.9h0M309.9 513.8h0M304.8 514.0h0M305.9 512.0h0M304.9 514.4h0M305.2 514.4h0M305.8 513.9h0M309.4 513.2h0M309.1 514.4h0M301.2 513.1h0M299.9 513.3h0M304.0 512.9h0M305.8 512.5h0M303.3 512.8h0M304.6 512.2h0M305.3 513.7h0M305.7 512.4h0M305.5 512.4h0M307.2 511.9h0M306.9 511.0h0M302.8 511.9h0M305.1 511.4h0M305.0 511.3h0M306.1 509.5h0M308.3 511.2h0M307.7 511.3h0M306.4 512.1h0M307.5 512.1h0M308.9 510.9h0M308.7 511.6h0M307.5 508.9h0M306.0 510.2h0M306.6 510.3h0M306.0 508.5h0M306.0 509.4h0M305.9 511.3h0M299.9 510.1h0M311.2 509.9h0M311.3 509.6h0M304.9 509.5h0M298.5 509.5h0M297.3 509.8h0M298.1 510.0h0M298.5 514.3h0M299.5 513.5h0M299.6 509.0h0M299.8 512.6h0M300.4 508.9h0M308.9 508.2h0M307.3 508.5h0M300.7 508.2h0M301.0 509.3h0M301.4 509.2h0M302.1 507.1h0M303.1 507.8h0M301.3 509.5h0M305.5 507.7h0M299.3 507.8h0M299.2 507.2h0M299.2 510.8h0M307.9 507.3h0M308.7 507.2h0M308.1 504.4h0M308.7 508.0h0M310.7 506.9h0M309.9 511.3h0M298.5 506.3h0M298.1 504.2h0M297.7 506.9h0M298.4 507.6h0M298.9 506.3h0M298.5 507.3h0M297.9 506.3h0M297.8 507.0h0M303.9 505.5h0M302.4 505.3h0M300.1 505.4h0M299.5 506.6h0M302.9 504.7h0M303.3 507.1h0M302.6 505.5h0M301.8 504.9h0M301.7 503.4h0M310.4 504.3h0M311.5 505.2h0M309.3 504.0h0M311.5 505.6h0M307.3 503.0h0M300.2 504.2h0M302.0 505.9h0M299.8 505.4h0M300.7 505.1h0M299.8 503.3h0M307.6 503.4h0M307.5 505.0h0M305.3 502.9h0M304.8 501.0h0M304.1 502.9h0M305.6 504.0h0M311.0 502.5h0M311.3 502.3h0M297.3 502.3h0M298.1 500.9h0M309.7 502.3h0M310.0 502.8h0M300.0 501.5h0M299.8 502.9h0M301.1 501.1h0M306.6 501.7h0M300.0 501.3h0M300.3 502.3h0M300.7 504.5h0M298.5 501.0h0M307.2 500.8h0M306.0 500.0h0M303.7 501.0h0M304.6 501.3h0M298.0 500.6h0M299.0 500.5h0M298.2 502.8h0M299.6 500.1h0M302.5 500.2h0M302.7 500.8h0M301.0 501.1h0M307.6 499.6h0M299.2 499.5h0M300.4 500.2h0M298.9 497.6h0M299.2 502.1h0M299.8 500.0h0M299.5 498.0h0M309.3 498.9h0M307.0 499.5h0M304.1 498.6h0M303.6 498.3h0M298.2 498.7h0M299.1 496.4h0M299.8 498.5h0M298.7 497.2h0M298.4 496.6h0M299.1 498.8h0M297.3 500.0h0M301.0 495.9h0M297.3 498.9h0M298.6 497.7h0M299.1 499.4h0M301.8 497.1h0M300.6 497.0h0M310.7 496.8h0M311.2 497.1h0M310.4 497.1h0M309.8 497.5h0M311.5 494.6h0M302.3 496.3h0M300.9 496.6h0M302.7 496.4h0M302.2 498.1h0M302.2 498.8h0M302.0 495.1h0M305.2 495.7h0M301.1 495.5h0M300.9 494.9h0M300.9 498.0h0M299.2 494.7h0M302.8 495.2h0M304.5 492.7h0M311.1 494.6h0M302.8 494.8h0M304.9 494.5h0M304.6 495.0h0M304.3 494.2h0M304.4 492.5h0M305.9 493.0h0M304.0 493.9h0M305.0 496.7h0M304.9 492.1h0M304.6 492.1h0M298.5 493.3h0M298.5 492.5h0M298.2 490.7h0M298.7 492.2h0M299.2 494.8h0M297.7 492.3h0M299.5 492.5h0M302.0 492.7h0M308.5 492.8h0M309.1 494.1h0M308.0 493.3h0M307.4 492.8h0M304.1 492.4h0M306.0 493.5h0M305.4 491.3h0M303.8 491.1h0M297.7 491.3h0M297.3 488.5h0M311.0 491.3h0M310.5 491.9h0M311.0 490.3h0M304.7 490.9h0M309.2 490.9h0M309.6 490.3h0M308.6 491.8h0M308.3 490.0h0M306.1 490.5h0M308.9 490.4h0M310.1 492.1h0M303.3 490.1h0M303.5 489.1h0M302.6 488.6h0M299.6 489.8h0M301.2 488.7h0M300.2 490.8h0M307.3 489.4h0M297.9 489.6h0M298.5 487.5h0M299.9 489.2h0M297.7 486.4h0M298.1 488.6h0M301.4 488.5h0M298.5 488.6h0M297.8 490.1h0M298.5 487.6h0M298.4 489.2h0M298.1 487.3h0M297.6 487.9h0M305.5 487.9h0M306.6 489.0h0M301.1 487.6h0M302.6 489.4h0M303.7 487.5h0M303.5 489.1h0M303.0 484.1h0M306.4 490.8h0M307.5 487.1h0M308.9 486.6h0M308.2 486.6h0M308.5 485.9h0M308.7 486.8h0M298.2 486.3h0M298.7 486.5h0M298.6 491.7h0M307.5 485.8h0M308.2 485.5h0M306.0 485.8h0M306.6 488.2h0M304.8 483.8h0M306.2 486.5h0M303.7 486.9h0M311.2 485.3h0M307.1 485.3h0M307.2 486.9h0M308.1 484.9h0M308.4 484.2h0M308.4 482.1h0M308.8 485.7h0M310.6 484.7h0M308.7 487.8h0M304.3 484.2h0M301.6 483.8h0M301.7 483.9h0M308.5 484.2h0M310.1 486.0h0M307.4 484.3h0M306.1 484.6h0M308.3 486.4h0M307.0 483.0h0M307.4 483.9h0M307.7 483.0h0M306.3 482.4h0M308.2 482.6h0M307.5 482.9h0M305.2 480.2h0M307.6 481.3h0M309.8 482.3h0M307.9 481.1h0M309.4 482.0h0M297.3 482.1h0M298.3 484.4h0M302.2 481.8h0M310.6 481.5h0M311.5 480.3h0M311.0 482.8h0M311.4 481.3h0M303.8 481.1h0M302.2 476.9h0M306.8 480.7h0M307.5 480.9h0M301.9 480.8h0M303.3 480.5h0M301.8 480.4h0M304.4 480.4h0M298.5 480.1h0M298.3 478.0h0M310.0 480.2h0M311.0 479.9h0M308.0 481.1h0M310.4 478.8h0M310.3 479.3h0M305.7 479.4h0M305.0 475.7h0M305.7 483.0h0M306.2 481.7h0M303.8 478.8h0M304.9 476.8h0M304.4 478.0h0M303.2 478.6h0M303.3 478.5h0M303.0 479.4h0M309.8 478.1h0M310.3 476.3h0M300.2 477.8h0M299.5 477.5h0M300.2 476.8h0M305.8 477.3h0M306.9 477.4h0M309.1 477.4h0M309.6 477.7h0M308.6 479.2h0M308.4 475.6h0M307.3 478.2h0M309.5 477.0h0M302.5 476.3h0M303.6 475.4h0M305.6 476.0h0M306.4 474.9h0M310.5 475.6h0M297.4 475.6h0M297.8 475.7h0M309.4 475.1h0M310.6 473.7h0M302.5 475.0h0M301.4 474.4h0M309.7 474.8h0M311.5 474.6h0M309.3 474.3h0M309.1 475.1h0M307.7 474.0h0M308.1 471.9h0M301.5 473.8h0M309.4 473.8h0M311.0 473.8h0M311.5 471.8h0M310.7 475.8h0M302.5 473.5h0M310.2 473.0h0M311.5 471.5h0M310.0 474.1h0M304.3 472.5h0M299.2 472.5h0M299.7 472.2h0M300.0 473.9h0M305.8 471.9h0M300.5 471.9h0M301.6 471.5h0M299.3 469.4h0M302.5 470.9h0M299.2 473.2h0M304.9 470.9h0M297.6 471.0h0M297.3 470.0h0M297.4 471.1h0M310.9 470.2h0M311.3 472.8h0M299.2 469.9h0M298.7 472.9h0M299.6 471.4h0M298.6 471.6h0M298.9 472.9h0M301.0 466.5h0M302.2 469.0h0M302.2 469.2h0M304.1 468.7h0M305.7 468.2h0M302.8 468.3h0M302.6 467.8h0M302.4 467.2h0M302.0 465.9h0M301.5 470.5h0M304.5 469.8h0M301.8 474.1h0M302.9 467.3h0M311.2 466.4h0M310.9 467.4h0M301.6 466.4h0M298.8 466.1h0M297.3 465.5h0M298.0 465.1h0M309.9 465.3h0M300.1 465.5h0M301.7 465.5h0M302.4 465.0h0M303.8 465.3h0M302.4 464.2h0M302.6 464.1h0M303.6 461.4h0M302.5 464.8h0M300.2 463.0h0M302.1 466.0h0M302.1 464.7h0M305.6 463.1h0M305.4 462.2h0M304.0 463.4h0M305.5 464.8h0M304.3 462.2h0M304.2 463.1h0M304.8 460.9h0M303.6 461.7h0M304.6 462.1h0M300.7 459.9h0M303.6 461.5h0M303.6 460.3h0M303.9 459.4h0M303.6 461.0h0M303.1 459.5h0M308.8 459.4h0M311.0 459.9h0M299.0 462.3h0M299.8 459.4h0M419.1 514.4h0M417.4 514.4h0M419.3 514.4h0M419.6 514.4h0M419.1 514.4h0M419.3 512.6h0M420.3 510.3h0M418.6 513.6h0M417.1 513.0h0M416.7 512.1h0M417.1 514.4h0M414.6 512.8h0M416.1 512.4h0M415.5 512.4h0M416.7 511.8h0M417.2 511.9h0M416.2 511.7h0M416.2 511.0h0M417.3 511.5h0M418.6 510.7h0M420.3 513.0h0M416.6 510.4h0M414.0 510.6h0M417.3 509.3h0M417.2 509.3h0M416.6 509.7h0M416.2 507.6h0M418.2 509.3h0M418.9 511.3h0M418.6 510.4h0M417.5 510.7h0M420.2 508.4h0M417.0 508.4h0M417.6 508.2h0M418.8 508.0h0M416.6 507.8h0M417.9 507.6h0M413.6 507.4h0M413.2 506.2h0M414.0 506.3h0M413.6 506.3h0M412.3 506.1h0M415.3 505.5h0M412.3 504.4h0M413.3 505.0h0M412.9 503.0h0M415.1 505.4h0M415.3 504.1h0M414.7 506.8h0M416.4 504.9h0M415.6 504.3h0M415.3 498.2h0M416.6 507.4h0M415.6 505.9h0M417.8 506.7h0M414.0 503.1h0M414.3 503.5h0M415.5 500.8h0M412.8 501.7h0M416.2 501.3h0M414.3 502.3h0M415.3 503.7h0M414.4 507.3h0M417.7 501.7h0M420.2 501.3h0M420.3 501.4h0M420.3 503.5h0M420.3 499.9h0M419.3 501.3h0M416.3 500.0h0M412.8 499.7h0M412.8 500.4h0M413.2 498.5h0M419.7 499.0h0M417.1 499.0h0M417.0 502.1h0M419.9 498.1h0M420.3 498.2h0M420.3 497.7h0M416.7 497.5h0M418.3 496.5h0M413.4 497.1h0M413.6 497.9h0M412.8 496.9h0M416.3 496.1h0M416.0 497.9h0M416.0 493.8h0M413.0 495.4h0M412.9 497.3h0M414.2 492.5h0M412.6 495.3h0M412.3 492.9h0M413.0 492.0h0M414.6 493.9h0M414.6 495.4h0M413.3 493.0h0M418.0 492.7h0M417.8 492.1h0M416.3 492.3h0M416.0 493.4h0M419.3 491.5h0M418.0 491.4h0M420.3 491.1h0M420.3 492.4h0M412.8 490.2h0M412.3 490.6h0M412.6 489.5h0M418.9 489.6h0M419.0 491.0h0M418.7 487.0h0M417.2 488.4h0M418.2 490.4h0M412.5 487.4h0M412.3 490.0h0M418.3 487.1h0M417.3 486.9h0M418.7 487.1h0M418.3 487.9h0M418.3 490.7h0M417.2 488.8h0M417.9 486.1h0M412.7 484.5h0M413.4 483.5h0M419.1 483.7h0M415.6 483.2h0M415.6 484.7h0M415.7 482.3h0M415.5 483.8h0M414.5 481.5h0M419.1 481.3h0M412.6 480.7h0M412.3 480.5h0M415.0 479.6h0M413.2 480.2h0M412.3 484.5h0M412.3 481.7h0M412.3 480.7h0" stroke="#bcbcbc" stroke-width="2.9" stroke-linecap="round" fill="none"/>
<path d="M88.5 459.1h0M89.8 455.0h0M82.8 458.6h0M90.5 458.7h0M95.6 458.2h0M94.3 458.4h0M81.5 457.9h0M80.5 458.1h0M80.2 459.1h0M78.1 457.7h0M78.6 458.1h0M77.9 457.2h0M78.0 455.2h0M76.6 456.9h0M75.5 456.7h0M75.5 458.7h0M76.2 458.3h0M93.1 455.5h0M92.2 454.7h0M92.7 453.1h0M92.2 455.4h0M91.2 457.2h0M92.3 456.5h0M93.6 455.6h0M95.8 454.6h0M95.4 452.8h0M95.1 453.2h0M96.4 452.4h0M96.4 455.4h0M96.0 454.9h0M90.8 453.0h0M82.4 453.4h0M85.6 452.9h0M84.9 455.9h0M81.4 452.5h0M80.2 450.4h0M82.4 452.3h0M81.0 450.4h0M78.6 451.8h0M80.4 454.4h0M78.6 453.9h0M79.2 452.9h0M87.3 451.0h0M81.2 451.0h0M80.3 451.2h0M76.6 450.7h0M82.0 450.3h0M82.4 452.1h0M82.6 450.2h0M82.7 448.7h0M80.4 451.9h0M76.7 449.3h0M75.9 447.2h0M95.1 448.8h0M84.8 448.4h0M84.7 447.3h0M85.4 448.6h0M85.1 448.9h0M83.7 450.7h0M84.3 450.4h0M85.4 448.5h0M84.9 448.3h0M83.0 447.8h0M85.2 445.5h0M83.3 450.3h0M91.5 446.0h0M93.5 448.6h0M90.3 447.6h0M91.5 449.9h0M87.6 445.5h0M83.2 444.9h0M83.1 444.9h0M82.6 446.1h0M83.9 444.0h0M83.9 445.8h0M79.9 443.7h0M78.5 442.9h0M80.1 444.5h0M82.8 443.4h0M86.0 443.0h0M86.7 442.4h0M93.9 442.7h0M77.8 442.0h0M75.5 444.0h0M78.0 443.8h0M79.2 441.5h0M78.2 437.6h0M78.9 442.5h0M96.2 440.8h0M83.4 440.6h0M83.7 443.0h0M84.9 438.3h0M86.1 439.8h0M87.5 442.1h0M85.0 439.4h0M84.1 440.2h0M85.1 441.8h0M86.3 438.8h0M85.5 437.4h0M87.9 437.7h0M88.6 439.4h0M90.9 437.6h0M89.3 439.6h0M93.0 441.5h0M90.2 437.6h0M92.7 436.3h0M91.3 437.5h0M93.3 437.0h0M203.5 462.6h0M195.3 462.9h0M198.0 463.4h0M206.1 463.0h0M204.7 462.8h0M207.6 462.4h0M200.2 462.2h0M201.0 462.1h0M200.9 461.1h0M199.2 461.8h0M198.8 461.5h0M200.3 460.5h0M199.5 458.8h0M199.1 462.1h0M198.1 459.9h0M198.0 461.6h0M199.6 459.6h0M198.9 457.6h0M199.9 458.9h0M199.6 460.7h0M200.3 461.0h0M199.9 456.2h0M205.9 458.1h0M197.2 457.7h0M197.8 455.0h0M208.6 457.3h0M208.2 459.9h0M202.0 456.4h0M199.4 456.1h0M200.4 455.6h0M199.6 458.1h0M204.5 455.1h0M204.1 455.2h0M205.1 454.4h0M206.0 456.4h0M205.5 456.3h0M196.1 453.3h0M197.3 455.1h0M201.6 452.8h0M200.5 454.3h0M202.3 452.6h0M201.4 452.7h0M196.2 451.3h0M195.3 453.0h0M196.2 452.4h0M324.0 484.5h0M322.4 486.0h0M328.1 485.4h0M327.4 485.8h0M328.7 484.7h0M322.8 483.6h0M323.3 483.1h0M323.1 482.0h0M330.0 483.0h0M330.5 480.9h0M328.7 486.0h0M330.5 482.8h0M320.7 481.2h0M320.9 481.8h0M320.5 480.7h0M321.4 482.7h0M328.1 479.8h0M326.9 476.8h0M326.2 479.0h0M327.7 477.3h0M325.2 479.3h0M327.1 481.8h0M321.0 477.5h0M320.6 478.8h0M321.2 476.4h0M321.1 474.2h0M327.1 475.8h0M329.7 474.8h0M331.0 476.4h0M328.2 471.7h0M329.8 471.1h0M324.3 473.4h0M324.1 473.0h0M322.0 471.8h0M329.8 471.8h0M330.8 473.2h0M328.8 471.0h0M326.7 470.9h0M328.9 472.0h0M325.7 469.3h0M322.6 469.1h0M322.8 471.5h0M322.9 468.5h0M321.5 466.7h0M327.4 466.9h0M326.9 466.8h0M323.1 466.0h0M323.3 466.1h0M328.7 465.2h0M425.4 449.4h0M423.8 449.9h0M425.7 447.5h0M423.3 444.6h0M426.8 444.1h0M426.8 444.4h0M425.4 442.8h0M425.9 441.7h0M426.6 445.7h0M425.6 440.2h0M423.2 439.3h0M422.8 438.0h0M428.4 437.9h0M426.2 436.6h0M424.2 436.0h0M428.3 435.3h0M424.5 433.8h0M423.2 433.2h0M423.6 433.1h0" stroke="#7a75a4" stroke-width="2.9" stroke-linecap="round" fill="none"/>
<path d="M114.5 459.5h0M99.4 459.9h0M105.0 459.7h0M105.1 458.8h0M105.1 458.5h0M104.3 458.6h0M116.5 458.2h0M104.7 457.9h0M106.1 456.1h0M108.3 457.7h0M117.0 457.4h0M117.0 459.7h0M101.7 457.1h0M105.0 456.8h0M104.5 454.1h0M104.5 457.0h0M101.7 456.3h0M111.0 456.1h0M110.6 456.9h0M110.3 455.7h0M109.9 453.4h0M109.0 453.7h0M108.7 453.4h0M111.3 455.4h0M109.7 454.3h0M109.5 456.7h0M109.7 454.4h0M115.0 453.9h0M114.9 454.1h0M114.4 453.0h0M114.7 454.8h0M116.4 453.3h0M116.1 453.9h0M117.3 455.3h0M116.8 452.8h0M113.3 452.6h0M105.3 452.1h0M105.6 453.5h0M104.6 452.7h0M105.3 451.6h0M104.2 449.6h0M102.2 451.0h0M113.9 450.8h0M107.3 450.4h0M99.1 450.5h0M117.4 450.1h0M115.4 449.7h0M116.7 452.0h0M116.5 450.9h0M115.8 450.1h0M114.9 450.2h0M116.7 449.5h0M117.1 448.4h0M116.4 446.8h0M117.4 445.8h0M117.8 450.3h0M116.1 449.5h0M111.9 447.3h0M112.4 444.0h0M112.4 447.9h0M101.6 446.4h0M107.0 446.2h0M103.9 446.0h0M102.9 449.1h0M98.4 445.3h0M100.2 447.4h0M99.2 445.9h0M98.6 443.0h0M106.5 444.6h0M106.8 446.5h0M106.4 447.3h0M101.1 443.5h0M109.8 443.6h0M111.7 443.3h0M101.5 442.5h0M101.9 442.5h0M102.0 443.4h0M102.3 443.6h0M101.4 442.7h0M101.5 443.6h0M105.5 441.0h0M226.6 465.3h0M220.2 465.3h0M219.3 465.5h0M221.4 465.0h0M222.4 463.8h0M223.4 464.7h0M220.0 464.3h0M222.6 463.9h0M223.1 464.3h0M222.0 462.6h0M223.9 459.3h0M221.9 463.8h0M223.4 465.5h0M222.2 462.4h0M221.8 461.5h0M221.6 461.1h0M218.3 460.7h0M217.1 464.6h0M216.5 459.3h0M218.6 458.5h0M220.2 459.6h0M230.2 459.0h0M218.4 458.6h0M217.0 458.3h0M218.9 462.5h0M222.2 458.0h0M224.3 457.6h0M222.9 458.6h0M226.3 458.1h0M225.2 456.5h0M223.1 458.2h0M222.7 456.2h0M221.3 455.3h0M221.9 454.9h0M221.3 453.1h0M219.9 454.2h0M224.0 453.8h0M223.5 453.5h0M229.2 454.9h0M338.1 471.1h0M337.4 471.5h0M344.8 470.3h0M345.7 470.5h0M342.0 469.5h0M337.4 468.9h0M337.3 466.9h0M345.8 468.2h0M346.0 469.5h0M339.0 467.0h0M339.3 465.8h0M341.0 466.2h0M344.8 466.0h0M346.0 466.9h0M340.3 464.6h0M340.7 463.1h0M340.1 466.8h0M341.2 466.2h0M341.6 462.7h0M341.6 464.6h0M340.4 465.5h0M338.8 461.1h0M337.8 462.5h0M338.2 460.1h0M338.3 461.6h0M338.8 459.2h0M337.6 458.3h0M337.6 462.7h0M337.3 457.5h0M340.0 456.1h0M444.9 464.8h0M445.9 464.2h0M446.8 463.0h0M448.3 462.5h0M446.0 461.9h0M446.7 461.3h0M446.4 460.8h0M442.9 459.8h0M442.3 460.6h0M447.5 458.7h0M446.0 460.2h0M448.5 456.6h0M446.2 456.7h0M447.6 455.9h0M444.0 455.1h0M445.9 452.6h0M444.9 455.3h0M445.3 456.3h0M442.4 455.1h0M444.5 457.7h0M443.6 455.4h0M442.8 456.2h0M443.0 452.0h0M444.4 455.4h0M443.2 454.8h0M444.2 451.3h0M443.4 459.4h0M445.4 455.6h0M443.3 451.4h0M443.3 454.8h0M442.5 455.1h0M443.8 453.8h0" stroke="#4e7094" stroke-width="2.9" stroke-linecap="round" fill="none"/>
<path d="M125.9 454.3h0M125.4 456.9h0M131.8 457.1h0M132.1 457.2h0M133.2 456.9h0M132.5 454.9h0M124.4 455.8h0M125.0 454.7h0M125.7 456.3h0M122.5 452.7h0M122.9 454.8h0M124.4 454.7h0M127.0 454.9h0M126.9 456.6h0M126.9 452.7h0M120.9 453.9h0M133.4 453.9h0M134.1 454.5h0M132.6 454.3h0M123.3 453.4h0M123.0 453.6h0M124.6 453.9h0M122.3 452.1h0M129.0 452.0h0M123.6 451.8h0M125.9 451.6h0M125.5 450.3h0M124.1 450.8h0M124.5 453.1h0M132.8 450.5h0M135.3 447.7h0M133.0 448.8h0M130.0 449.8h0M121.5 449.2h0M134.7 449.2h0M125.5 449.0h0M125.9 449.3h0M124.8 448.3h0M125.7 448.1h0M124.9 446.4h0M125.2 448.2h0M123.4 448.7h0M134.7 447.0h0M121.3 446.7h0M122.8 448.3h0M123.4 445.3h0M121.5 445.6h0M120.0 445.5h0M129.1 445.1h0M129.3 445.7h0M128.3 445.7h0M120.8 444.1h0M121.1 444.6h0M121.4 443.5h0M120.0 442.7h0M120.0 445.1h0M121.8 446.2h0M120.0 445.8h0M121.2 441.8h0M120.0 445.2h0M120.7 441.0h0M121.1 441.9h0M120.5 441.4h0M239.1 459.9h0M251.4 461.0h0M251.7 460.9h0M251.8 458.5h0M241.9 460.4h0M242.1 460.7h0M250.4 460.1h0M249.0 460.7h0M250.4 458.8h0M244.1 459.0h0M249.6 458.6h0M246.5 458.4h0M242.9 458.5h0M249.1 458.1h0M247.4 460.3h0M247.3 455.9h0M246.3 457.0h0M248.7 456.9h0M243.9 456.4h0M243.5 454.3h0M244.7 455.2h0M243.4 455.6h0M246.6 455.4h0M249.7 454.8h0M246.2 455.0h0M244.2 454.5h0M239.1 454.0h0M248.1 453.5h0M239.6 453.6h0M240.1 454.9h0M239.4 453.2h0M252.0 452.5h0M238.2 452.2h0M239.2 454.6h0M238.4 453.0h0M239.6 450.5h0M238.0 453.0h0M239.8 451.5h0M238.7 451.4h0M238.1 449.5h0M239.6 449.1h0M238.0 448.5h0M247.1 448.3h0M247.7 448.1h0M247.0 448.4h0M247.1 447.7h0M246.7 448.5h0M241.0 447.1h0M240.7 447.8h0M241.1 446.0h0M241.7 446.4h0M239.0 448.0h0M239.4 445.0h0M238.0 447.5h0M240.8 445.7h0M241.7 445.6h0M238.7 445.6h0M366.5 460.0h0M366.3 458.5h0M366.3 458.9h0M360.0 458.5h0M360.9 460.1h0M358.7 457.5h0M358.5 455.5h0M359.3 456.8h0M359.3 458.8h0M366.4 455.5h0M364.9 453.1h0M365.3 454.9h0M366.6 454.5h0M367.0 454.5h0M363.2 453.7h0M361.0 452.7h0M361.2 452.4h0M358.7 452.2h0M358.5 451.4h0M362.7 450.7h0M363.5 449.3h0M361.2 450.3h0M365.3 449.6h0M365.2 449.0h0M365.3 448.5h0M361.0 448.3h0M361.7 446.8h0M359.8 446.1h0M361.8 447.9h0M361.5 450.3h0M365.4 445.2h0M365.4 444.6h0M365.9 443.5h0M366.6 443.8h0M366.8 443.0h0M367.0 442.8h0M366.6 441.9h0M365.7 448.4h0M366.9 447.0h0M365.1 441.5h0M366.0 444.1h0M365.8 443.9h0M365.3 438.3h0M364.7 438.9h0M366.4 439.0h0M364.8 438.0h0M365.0 439.9h0M365.1 437.4h0M366.0 435.2h0M364.2 438.7h0M457.0 470.1h0M457.7 470.4h0M457.8 469.6h0M457.8 471.0h0M457.8 467.0h0M457.6 463.8h0M456.1 462.8h0M454.0 461.4h0M454.6 460.1h0M457.0 459.5h0M455.6 458.5h0M455.2 460.1h0M455.3 458.9h0M453.8 459.6h0M457.2 453.7h0M455.9 452.3h0M457.8 455.6h0" stroke="#719547" stroke-width="2.9" stroke-linecap="round" fill="none"/>
<path d="M140.0 469.5h0M140.7 468.7h0M144.8 469.6h0M153.3 469.3h0M155.3 469.4h0M153.4 467.0h0M140.2 468.3h0M141.1 467.5h0M151.7 467.5h0M152.3 467.5h0M151.2 467.0h0M154.4 466.4h0M140.3 466.2h0M139.2 466.6h0M140.4 467.2h0M148.4 465.4h0M148.4 463.5h0M147.6 464.9h0M147.9 463.8h0M143.1 464.7h0M143.3 465.0h0M143.1 465.0h0M142.2 465.5h0M138.8 463.7h0M140.3 465.6h0M138.3 464.7h0M138.0 462.6h0M139.3 463.8h0M150.4 462.5h0M150.4 465.6h0M149.8 464.3h0M145.1 461.7h0M145.3 461.4h0M152.1 461.5h0M151.1 463.8h0M144.6 460.5h0M146.2 462.4h0M144.3 457.7h0M150.9 460.1h0M150.0 457.0h0M150.8 459.5h0M149.1 459.4h0M140.1 458.7h0M140.1 457.7h0M152.4 458.6h0M153.0 457.3h0M150.1 457.9h0M140.7 457.6h0M155.2 457.1h0M154.7 454.5h0M155.3 456.5h0M155.3 459.8h0M155.3 457.4h0M153.9 455.6h0M153.9 456.2h0M147.5 455.2h0M147.2 454.9h0M152.3 454.5h0M141.1 454.2h0M145.0 454.1h0M143.6 456.8h0M146.8 457.0h0M150.8 452.5h0M141.0 453.1h0M149.5 452.3h0M265.4 451.9h0M264.3 451.5h0M264.8 452.2h0M265.8 451.0h0M258.2 451.0h0M255.8 451.8h0M261.7 450.5h0M266.0 450.2h0M266.1 450.6h0M266.6 450.5h0M265.9 447.8h0M259.3 448.7h0M260.5 446.6h0M259.2 448.3h0M263.1 447.8h0M264.1 447.9h0M262.3 448.8h0M260.5 447.0h0M260.7 447.4h0M260.1 449.6h0M261.7 445.3h0M264.9 445.8h0M265.3 443.2h0M265.2 448.2h0M260.7 444.7h0M261.7 442.5h0M257.5 442.0h0M262.8 443.3h0M264.0 440.8h0M264.0 442.9h0M258.9 442.6h0M257.2 444.6h0M259.1 443.4h0M258.0 441.4h0M258.4 440.4h0M259.4 440.2h0M256.1 440.6h0M257.2 439.2h0M257.8 443.8h0M257.9 444.4h0M257.9 439.6h0M265.0 438.3h0M260.3 437.8h0M257.0 437.4h0M256.6 438.4h0M257.4 441.8h0M257.1 437.6h0M255.5 437.1h0M258.3 434.6h0M260.3 435.1h0M259.5 435.1h0M377.9 461.5h0M379.2 461.1h0M377.9 459.3h0M375.9 460.4h0M382.1 460.1h0M382.2 459.2h0M382.5 457.7h0M377.0 458.9h0M376.1 458.2h0M375.5 456.3h0M375.5 459.3h0M377.2 459.6h0M375.8 456.6h0M379.1 456.2h0M378.6 455.8h0M383.7 455.1h0M381.8 454.7h0M383.2 454.8h0M379.7 454.2h0M380.6 453.7h0M379.7 455.3h0M377.7 452.5h0M377.3 452.0h0M376.1 451.1h0M375.6 451.7h0M375.5 450.0h0M376.4 452.4h0M377.1 449.4h0M377.2 448.8h0M384.4 448.6h0M383.8 447.0h0M383.4 447.9h0M384.5 448.4h0M383.6 446.1h0M378.0 445.2h0M377.9 445.7h0M376.3 446.0h0M377.4 443.8h0M377.2 443.5h0M377.7 445.0h0M379.1 443.5h0M376.7 441.4h0M376.6 441.3h0M466.0 470.8h0M466.5 471.2h0M467.0 469.3h0M467.3 471.8h0M466.0 468.2h0M466.8 466.0h0M469.4 466.6h0M466.2 465.8h0M467.7 465.9h0M465.3 464.6h0M464.9 467.0h0M465.6 462.5h0M464.8 464.2h0M464.5 463.5h0M464.7 462.4h0M467.7 459.0h0M465.5 457.9h0M467.5 456.2h0M466.8 459.5h0M465.7 457.6h0M465.5 459.8h0M467.2 458.8h0M464.5 456.2h0" stroke="#d1ae2f" stroke-width="2.9" stroke-linecap="round" fill="none"/>
<path d="M163.9 457.0h0M164.1 457.4h0M160.8 457.2h0M160.8 457.5h0M168.3 456.8h0M166.5 456.5h0M167.5 456.0h0M166.9 455.2h0M168.9 455.2h0M162.5 455.2h0M162.2 453.0h0M162.5 453.7h0M162.7 453.6h0M159.3 454.1h0M159.5 453.8h0M164.9 453.6h0M166.9 453.2h0M166.4 452.5h0M166.1 452.8h0M164.4 452.3h0M167.9 452.0h0M169.2 452.5h0M166.4 451.7h0M167.7 450.2h0M168.2 450.3h0M165.5 450.7h0M165.6 451.4h0M166.8 451.0h0M167.4 451.6h0M165.2 452.7h0M165.9 454.0h0M169.5 449.1h0M169.3 448.4h0M169.3 447.2h0M169.0 448.1h0M169.3 445.2h0M169.6 450.3h0M166.6 446.9h0M165.9 446.4h0M170.0 446.2h0M158.5 445.7h0M169.3 445.4h0M168.7 445.0h0M157.4 445.0h0M164.2 444.5h0M164.3 444.6h0M163.3 443.7h0M164.3 442.2h0M163.2 442.4h0M163.5 445.8h0M165.9 443.3h0M166.2 441.9h0M161.2 441.2h0M163.8 441.2h0M158.5 440.5h0M158.6 441.8h0M159.4 440.9h0M159.4 440.0h0M167.7 439.2h0M171.3 439.3h0M280.6 463.7h0M278.0 463.2h0M277.3 460.8h0M284.0 462.3h0M284.2 462.3h0M283.6 462.0h0M282.5 463.2h0M282.9 459.3h0M284.9 462.6h0M281.9 460.6h0M287.4 460.7h0M287.1 459.0h0M280.1 460.1h0M280.9 460.2h0M278.5 459.4h0M277.8 458.6h0M280.1 459.1h0M280.8 456.0h0M279.7 456.8h0M280.4 459.0h0M281.5 458.0h0M286.1 457.4h0M287.1 458.3h0M283.9 457.3h0M283.4 457.8h0M284.7 457.4h0M284.5 458.7h0M285.9 456.0h0M287.2 455.9h0M284.3 456.4h0M285.4 456.8h0M284.7 455.9h0M288.3 454.5h0M278.2 454.0h0M278.0 455.1h0M277.4 456.1h0M290.1 453.2h0M280.4 452.7h0M289.7 452.5h0M284.1 452.4h0M279.3 452.0h0M279.0 451.0h0M278.5 455.3h0M278.4 450.7h0M278.4 453.2h0M278.7 447.8h0M279.1 448.2h0M279.2 448.4h0M277.3 452.6h0M277.9 449.6h0M280.3 450.9h0M287.6 448.4h0M289.4 445.4h0M286.0 445.7h0M286.5 448.1h0M288.8 445.8h0M288.5 448.0h0M288.5 444.0h0M287.7 447.3h0M288.4 445.7h0M289.6 445.5h0M282.5 445.0h0M281.8 444.5h0M282.1 444.2h0M282.6 447.0h0M282.6 443.6h0M283.1 443.5h0M279.3 442.5h0M278.8 442.9h0M280.5 442.2h0M280.0 441.7h0M288.6 441.4h0M288.2 440.6h0M289.1 438.2h0M287.6 440.2h0M277.9 439.9h0M282.0 439.3h0M282.7 438.8h0M280.1 440.0h0M281.2 437.4h0M282.0 440.2h0M280.9 438.5h0M280.3 437.1h0M281.0 439.6h0M279.9 435.9h0M278.1 435.7h0M400.1 453.1h0M400.2 453.0h0M399.9 451.6h0M397.7 451.2h0M398.9 451.3h0M399.4 450.7h0M398.3 449.5h0M398.0 447.6h0M399.2 448.5h0M399.3 449.1h0M402.8 447.3h0M401.8 446.7h0M400.9 448.5h0M403.0 447.5h0M400.3 444.5h0M400.0 443.8h0M400.0 444.4h0M399.8 445.9h0M400.3 446.5h0M396.5 444.2h0M487.6 480.5h0M487.2 480.4h0M486.8 480.1h0M483.4 480.1h0M491.3 479.7h0M490.9 479.2h0M490.9 479.4h0M487.6 478.8h0M493.2 478.3h0M483.2 478.5h0M482.7 476.1h0M482.5 475.0h0M483.6 477.6h0M488.0 477.2h0M483.5 477.1h0M488.7 476.7h0M488.5 478.6h0M490.4 479.5h0M487.4 474.8h0M489.8 475.5h0M489.3 475.7h0M490.2 474.9h0M489.7 477.0h0M489.2 475.6h0M488.1 474.2h0M490.0 475.7h0M490.0 476.6h0M489.6 476.8h0M490.2 475.8h0M489.8 477.5h0M489.0 472.5h0M489.6 474.0h0M488.6 469.3h0M488.6 471.6h0M483.8 471.2h0M485.2 469.3h0M483.9 467.4h0M483.9 472.8h0M483.1 472.4h0M485.0 469.7h0M489.9 469.8h0M490.6 472.6h0M490.5 474.9h0M490.5 466.0h0M489.7 469.9h0M490.3 471.2h0M488.7 469.6h0M482.9 467.4h0M481.8 468.1h0M483.9 467.2h0M481.9 467.1h0M483.4 466.0h0M480.0 465.5h0M491.7 465.3h0M492.0 465.0h0M491.3 464.3h0M492.3 465.0h0M491.4 464.0h0M490.6 463.8h0M490.0 463.2h0M489.2 465.9h0M490.3 462.0h0M490.1 462.1h0M493.4 463.1h0" stroke="#a14f42" stroke-width="2.9" stroke-linecap="round" fill="none"/>
<path d="M175.2 458.0h0M187.4 458.1h0M186.6 458.3h0M185.4 456.4h0M187.8 455.9h0M188.7 454.3h0M182.7 456.5h0M183.1 455.5h0M186.8 456.0h0M176.3 455.8h0M175.5 452.5h0M180.9 455.2h0M173.6 455.2h0M186.5 454.7h0M182.3 454.9h0M181.0 453.6h0M182.3 456.9h0M183.9 454.1h0M184.4 453.5h0M173.4 453.2h0M174.7 453.1h0M173.5 451.4h0M175.7 453.3h0M177.0 454.3h0M176.3 452.9h0M173.3 451.4h0M176.6 456.9h0M180.0 451.5h0M187.8 451.0h0M184.7 450.8h0M183.3 451.8h0M176.5 450.1h0M175.1 448.9h0M176.3 449.9h0M176.5 451.8h0M183.0 449.4h0M182.2 448.8h0M184.5 448.8h0M183.7 448.2h0M184.2 451.7h0M186.7 447.6h0M182.3 447.3h0M183.1 447.5h0M182.5 447.7h0M181.9 447.1h0M175.8 446.3h0M176.7 441.2h0M182.9 445.9h0M181.1 447.6h0M179.2 445.1h0M175.7 444.5h0M188.8 444.6h0M179.0 444.1h0M181.7 446.0h0M179.0 447.0h0M173.6 443.0h0M185.6 443.1h0M181.8 442.6h0M184.5 442.4h0M186.0 440.5h0M184.5 442.2h0M176.5 440.9h0M179.5 441.1h0M175.2 440.6h0M175.2 438.9h0M175.4 442.8h0M184.7 439.3h0M174.1 439.1h0M186.6 438.5h0M181.5 438.2h0M180.7 439.9h0M186.6 437.6h0M187.3 439.1h0M183.2 439.0h0M304.5 459.0h0M299.1 459.1h0M297.3 458.6h0M298.7 458.4h0M299.6 458.6h0M304.3 457.5h0M299.2 457.4h0M301.3 458.0h0M305.4 456.9h0M307.4 454.3h0M302.2 456.0h0M298.8 456.0h0M298.9 455.4h0M299.9 455.1h0M298.8 452.4h0M297.9 454.1h0M300.4 455.7h0M299.4 454.1h0M299.4 451.2h0M304.7 453.8h0M310.1 453.1h0M311.3 453.7h0M299.3 452.7h0M298.1 452.4h0M298.0 452.4h0M297.3 452.3h0M298.9 453.6h0M297.9 454.7h0M298.4 450.7h0M298.1 449.6h0M298.6 450.0h0M309.9 449.8h0M302.3 449.8h0M300.9 453.3h0M308.8 449.1h0M305.2 448.4h0M306.2 448.9h0M308.4 447.6h0M307.4 447.4h0M299.3 446.9h0M301.2 446.7h0M301.8 446.1h0M301.0 448.4h0M303.1 448.5h0M301.9 447.5h0M301.0 444.3h0M302.1 447.3h0M302.0 446.9h0M301.9 447.8h0M302.3 443.9h0M418.9 478.1h0M419.6 478.4h0M420.0 473.9h0M416.0 476.6h0M415.0 475.4h0M413.0 475.8h0M412.6 474.3h0M414.8 474.8h0M414.4 474.1h0M415.7 474.0h0M415.4 473.1h0M416.3 471.7h0M416.1 470.5h0M415.0 471.6h0M417.0 472.0h0M414.7 470.4h0M413.1 470.0h0M414.1 469.2h0M413.0 469.0h0M415.1 470.8h0M413.6 469.9h0M417.0 467.5h0M416.2 468.7h0M416.9 467.4h0M417.3 465.4h0M416.2 463.7h0M415.0 464.2h0M417.5 463.4h0M413.2 463.0h0M413.7 465.4h0M413.8 465.1h0M412.8 464.0h0M412.9 461.4h0M412.3 461.7h0M412.3 459.6h0" stroke="#b3b3b3" stroke-width="2.9" stroke-linecap="round" fill="none"/>
<path d="M90.7 432.1h0M91.7 435.4h0M91.3 435.5h0M92.0 435.5h0M92.4 434.7h0M93.6 434.4h0M87.1 433.8h0M80.6 433.4h0M81.6 431.0h0M94.4 432.6h0M95.0 434.0h0M76.3 432.4h0M92.9 432.1h0M93.3 433.7h0M93.7 430.1h0M93.2 431.7h0M93.6 432.0h0M93.8 430.3h0M94.3 432.8h0M75.8 430.1h0M75.5 432.4h0M88.1 429.1h0M78.2 428.7h0M78.2 428.6h0M79.5 427.7h0M79.6 427.4h0M90.9 427.3h0M90.5 429.0h0M91.7 429.3h0M92.6 426.1h0M91.5 426.7h0M82.7 424.8h0M82.9 427.1h0M82.3 428.4h0M82.3 428.2h0M82.3 423.0h0M83.6 424.1h0M88.1 419.8h0M89.0 420.5h0M87.9 421.7h0M195.3 450.7h0M197.2 450.9h0M200.1 449.4h0M207.3 449.0h0M208.3 447.9h0M206.2 447.6h0M207.3 447.8h0M206.6 450.8h0M206.1 446.6h0M206.6 449.2h0M209.9 445.2h0M210.3 443.9h0M207.2 444.4h0M207.8 441.1h0M207.5 445.1h0M207.7 443.7h0M208.1 444.9h0M199.8 439.6h0M207.9 437.7h0M205.6 438.2h0M324.3 464.0h0M325.6 464.3h0M327.2 463.9h0M330.0 462.9h0M329.9 461.8h0M330.2 461.5h0M331.0 463.4h0M328.5 459.9h0M325.0 459.6h0M326.2 457.1h0M325.0 459.5h0M330.4 457.2h0M330.0 457.4h0M331.0 460.5h0M326.7 454.3h0M328.3 451.9h0M323.8 451.9h0M323.4 449.2h0M323.7 451.5h0M425.6 431.9h0M425.4 431.9h0M426.2 429.0h0M425.8 427.5h0M425.9 425.9h0M425.7 423.4h0M424.9 425.1h0M424.6 420.1h0M79.4 341.3h0M92.0 368.5h0M89.9 375.0h0M94.5 377.4h0M90.2 390.0h0M90.2 392.0h0M94.5 391.4h0M95.3 394.6h0M83.7 405.4h0M89.9 409.0h0M89.9 410.5h0M78.3 421.0h0M206.3 388.7h0M204.5 392.7h0M205.8 394.6h0M196.9 408.1h0M204.5 407.3h0M200.2 422.9h0M202.3 422.9h0M207.7 426.4h0M330.1 415.2h0M423.0 374.3h0M426.9 393.5h0M424.6 398.1h0M425.8 398.1h0M423.0 406.6h0M426.9 406.6h0M426.9 414.2h0M432.5 440.0h0M433.0 452.5h0M431.3 477.5h0M433.3 485.0h0M432.5 495.0h0M435.0 502.5h0M433.0 510.0h0M317.0 492.5h0" stroke="#706b9e" stroke-width="2.9" stroke-linecap="round" fill="none"/>
<path d="M102.9 438.6h0M103.7 440.2h0M100.9 440.2h0M107.0 440.3h0M106.0 440.6h0M104.8 439.0h0M105.0 439.5h0M104.1 440.1h0M100.0 438.3h0M114.8 438.1h0M114.4 439.6h0M114.6 439.0h0M113.2 436.2h0M114.3 438.8h0M114.9 438.3h0M102.9 435.8h0M103.0 435.1h0M103.3 437.3h0M112.8 434.8h0M111.9 435.3h0M111.1 435.4h0M114.3 433.4h0M117.2 433.0h0M118.0 437.9h0M114.2 432.5h0M107.1 431.8h0M102.4 431.0h0M103.2 429.4h0M103.2 431.5h0M106.6 429.0h0M114.5 428.6h0M114.5 431.5h0M102.9 426.2h0M106.5 424.1h0M228.3 452.9h0M227.7 451.4h0M229.8 452.2h0M229.6 452.1h0M228.4 452.1h0M218.4 450.0h0M219.0 449.7h0M220.0 447.6h0M217.0 452.1h0M219.0 449.1h0M218.0 448.5h0M224.2 446.8h0M224.3 446.0h0M223.1 445.3h0M223.3 446.9h0M220.0 447.6h0M224.6 444.3h0M222.7 447.0h0M227.6 436.6h0M344.6 455.7h0M338.3 454.8h0M344.2 454.1h0M338.9 453.1h0M342.8 452.9h0M343.1 450.9h0M342.2 451.2h0M341.5 450.3h0M342.8 451.9h0M343.1 448.8h0M339.5 446.9h0M338.7 447.2h0M339.7 448.2h0M341.2 440.2h0M443.3 439.9h0M448.5 438.9h0M447.2 436.4h0M445.5 436.8h0M443.9 433.0h0M445.5 435.7h0M447.6 432.0h0M447.2 431.5h0M446.9 433.1h0M448.5 433.0h0M99.0 363.1h0M101.7 388.4h0M100.4 393.8h0M100.4 396.0h0M107.7 405.7h0M106.3 408.0h0M116.0 406.0h0M114.4 409.0h0M118.2 409.0h0M108.5 420.0h0M101.0 418.0h0M217.7 399.2h0M229.8 413.5h0M339.2 378.3h0M344.6 388.6h0M339.0 393.2h0M344.1 399.4h0M338.2 406.9h0M339.5 408.8h0M340.3 410.4h0M338.4 414.2h0M345.2 422.0h0M444.5 366.7h0M445.4 399.2h0M447.2 403.4h0M443.5 405.7h0M447.7 411.2h0M446.5 413.5h0M445.4 421.6h0M349.5 499.5h0M353.8 508.8h0" stroke="#44668c" stroke-width="2.9" stroke-linecap="round" fill="none"/>
<path d="M121.1 440.4h0M120.0 440.3h0M129.3 439.5h0M120.9 438.9h0M120.3 439.3h0M134.6 438.0h0M121.2 437.5h0M121.8 437.2h0M128.7 436.6h0M123.5 436.3h0M120.5 435.8h0M132.9 435.4h0M133.1 436.9h0M131.8 433.9h0M132.0 433.7h0M133.0 436.7h0M120.9 433.1h0M134.0 432.2h0M135.4 431.9h0M126.1 431.2h0M121.1 430.5h0M127.2 429.6h0M134.8 428.7h0M132.8 427.3h0M132.8 424.2h0M239.3 442.8h0M241.2 443.4h0M245.2 441.9h0M244.0 444.4h0M242.0 441.1h0M244.1 440.6h0M241.9 442.8h0M241.5 439.3h0M239.8 437.1h0M242.4 438.7h0M242.3 437.7h0M242.6 439.8h0M251.1 436.6h0M249.5 438.1h0M250.6 435.5h0M250.5 434.4h0M241.8 433.0h0M242.2 432.4h0M239.6 430.4h0M238.0 432.4h0M360.3 432.8h0M364.8 431.8h0M365.1 429.3h0M364.4 432.5h0M364.2 429.1h0M363.3 429.1h0M365.1 428.5h0M359.3 427.4h0M366.4 426.7h0M366.7 426.1h0M364.2 426.1h0M364.6 423.8h0M366.2 424.6h0M365.9 424.0h0M363.2 417.7h0M364.3 416.7h0M453.9 449.8h0M456.3 448.0h0M457.2 446.9h0M453.7 445.3h0M455.0 443.5h0M454.8 443.3h0M453.7 437.7h0M453.8 437.6h0M453.5 436.2h0M453.5 438.5h0M122.7 397.8h0M137.3 398.1h0M130.5 416.7h0M137.5 414.5h0M250.2 383.8h0M241.4 396.0h0M249.4 425.6h0M360.2 381.9h0M364.8 409.9h0M360.8 415.2h0M362.7 415.2h0M455.1 382.8h0M358.0 512.5h0" stroke="#698e3a" stroke-width="2.9" stroke-linecap="round" fill="none"/>
<path d="M147.1 451.7h0M145.9 452.0h0M149.4 452.2h0M141.1 451.6h0M140.8 451.8h0M141.4 448.5h0M141.7 451.2h0M144.5 449.8h0M151.0 449.9h0M140.3 449.4h0M140.0 451.3h0M150.7 448.5h0M151.5 448.5h0M151.3 450.9h0M150.9 445.7h0M149.1 448.4h0M151.8 445.7h0M152.8 444.7h0M152.9 445.1h0M143.5 444.6h0M142.3 443.7h0M144.6 441.7h0M144.2 447.1h0M142.5 444.3h0M145.1 447.2h0M145.1 444.4h0M139.4 438.7h0M139.2 439.4h0M256.6 432.0h0M259.9 434.4h0M260.8 433.9h0M262.1 433.5h0M260.4 433.0h0M260.6 432.7h0M261.6 432.2h0M259.5 432.8h0M260.4 432.3h0M259.8 429.5h0M263.0 428.8h0M263.5 429.3h0M255.9 427.7h0M262.1 426.9h0M262.2 427.4h0M262.0 427.1h0M263.5 424.5h0M263.6 423.2h0M256.5 422.3h0M257.2 420.1h0M256.7 423.0h0M377.4 438.9h0M379.3 439.8h0M378.2 441.2h0M377.8 440.7h0M380.8 439.5h0M379.6 440.0h0M377.9 438.5h0M380.5 439.0h0M378.2 438.4h0M380.2 440.4h0M383.3 432.5h0M382.7 434.5h0M380.3 429.6h0M380.6 432.0h0M376.1 424.5h0M375.5 421.1h0M466.7 450.6h0M467.9 450.8h0M467.3 451.3h0M466.6 445.9h0M465.5 445.4h0M466.9 445.2h0M467.5 447.4h0M152.4 378.0h0M152.9 389.8h0M142.7 394.6h0M144.3 400.8h0M145.4 415.6h0M258.0 362.8h0M261.5 377.7h0M262.4 401.9h0M258.0 413.5h0M261.5 418.0h0M266.1 415.4h0M260.2 424.8h0M264.2 422.9h0M266.9 424.8h0M378.5 404.5h0M376.1 409.9h0M382.0 409.9h0M465.5 405.5h0M467.3 412.6h0M466.6 427.6h0M387.5 482.5h0M388.8 500.0h0M391.2 507.5h0M386.2 508.8h0M373.2 495.8h0M373.5 511.0h0M269.2 505.8h0M273.8 508.8h0M476.0 494.2h0" stroke="#cda823" stroke-width="2.9" stroke-linecap="round" fill="none"/>
<path d="M170.8 438.5h0M171.3 435.4h0M158.8 437.4h0M157.8 436.4h0M159.9 436.7h0M158.4 433.9h0M161.9 436.5h0M163.2 435.1h0M158.4 434.8h0M159.3 434.0h0M169.8 433.9h0M171.3 431.5h0M171.1 434.1h0M170.6 433.5h0M169.4 434.7h0M165.2 431.1h0M163.4 428.9h0M163.9 430.9h0M164.3 431.7h0M166.6 430.6h0M158.6 426.8h0M159.7 427.3h0M162.8 423.4h0M287.3 435.1h0M287.5 434.3h0M287.9 434.9h0M286.4 433.4h0M286.6 435.1h0M284.4 433.8h0M287.1 432.6h0M280.5 432.5h0M280.6 434.0h0M279.0 430.3h0M280.0 429.8h0M279.7 430.8h0M280.9 434.7h0M279.8 429.6h0M283.8 428.8h0M289.8 428.4h0M279.0 428.2h0M288.1 427.8h0M287.3 431.1h0M287.3 426.4h0M288.9 426.1h0M287.6 428.4h0M288.0 426.1h0M287.7 424.0h0M287.8 424.1h0M286.5 421.5h0M287.0 423.9h0M285.2 420.3h0M285.5 417.7h0M284.8 418.6h0M284.9 421.9h0M284.5 418.1h0M399.6 441.6h0M397.5 440.1h0M396.8 438.0h0M396.5 437.5h0M400.0 436.2h0M403.5 434.7h0M401.2 434.2h0M401.2 429.7h0M489.0 460.7h0M490.6 461.2h0M492.0 460.7h0M491.4 459.7h0M492.7 458.2h0M485.2 459.3h0M485.0 458.9h0M484.9 457.9h0M485.7 459.3h0M484.6 458.3h0M482.4 456.9h0M483.3 460.1h0M481.5 453.3h0M481.9 455.1h0M483.4 457.9h0M487.6 454.6h0M489.0 455.6h0M487.7 455.1h0M480.4 452.9h0M493.4 452.2h0M487.2 451.4h0M488.9 453.6h0M487.4 451.5h0M485.8 450.8h0M481.8 446.6h0M479.9 446.6h0M167.4 359.3h0M170.4 376.3h0M158.0 383.3h0M159.9 400.8h0M169.6 405.7h0M171.0 405.7h0M157.2 417.5h0M161.8 419.4h0M283.3 343.2h0M282.5 369.8h0M279.9 372.5h0M278.8 374.4h0M283.1 373.6h0M283.8 384.3h0M289.7 388.3h0M285.9 395.9h0M277.7 398.1h0M284.6 401.0h0M285.4 404.5h0M289.3 407.3h0M278.2 406.7h0M279.9 408.6h0M278.5 412.1h0M277.7 417.5h0M397.6 347.5h0M400.2 350.8h0M400.4 355.4h0M400.4 379.6h0M399.2 392.3h0M399.2 393.7h0M399.2 407.5h0M399.9 421.6h0M406.2 486.2h0M407.5 503.8h0M292.0 511.2h0M482.3 395.8h0M483.9 398.1h0M480.7 426.5h0M482.3 430.0h0M484.2 430.0h0M480.0 436.6h0M493.4 436.6h0" stroke="#9e4437" stroke-width="2.9" stroke-linecap="round" fill="none"/>
<path d="M178.2 437.1h0M182.5 436.5h0M183.2 431.4h0M183.2 435.4h0M179.7 435.0h0M178.6 432.4h0M181.6 435.0h0M177.0 433.8h0M176.8 437.3h0M177.9 430.9h0M177.5 434.5h0M176.3 433.4h0M188.3 431.4h0M175.9 431.1h0M173.5 430.6h0M173.6 431.3h0M186.3 430.2h0M184.1 428.2h0M188.4 430.1h0M187.5 426.6h0M185.0 431.8h0M186.2 426.8h0M187.1 424.2h0M188.1 425.0h0M186.6 426.0h0M181.1 422.7h0M187.0 420.0h0M301.5 443.4h0M300.9 442.4h0M305.4 441.7h0M304.9 439.7h0M304.9 442.2h0M305.9 440.7h0M301.3 440.4h0M301.1 441.2h0M305.1 438.9h0M304.0 439.5h0M304.3 437.7h0M304.0 436.5h0M305.5 436.7h0M306.4 436.2h0M306.9 435.7h0M307.4 437.8h0M306.5 434.1h0M306.8 437.7h0M302.2 430.6h0M303.3 428.4h0M419.2 458.7h0M412.5 458.1h0M415.4 456.4h0M414.9 453.5h0M416.7 454.0h0M417.3 454.0h0M419.9 453.1h0M418.2 452.1h0M414.0 450.7h0M418.7 449.5h0M418.9 449.3h0M420.3 450.8h0M419.6 449.3h0M417.6 451.2h0M417.5 451.0h0M499.2 507.7h0M500.2 509.2h0M499.3 505.7h0M499.9 509.9h0M499.5 506.8h0M500.4 509.8h0M173.5 391.4h0M175.9 396.0h0M177.5 398.1h0M185.3 415.4h0M186.2 420.2h0M173.5 418.3h0M175.9 418.3h0M303.4 315.1h0M303.4 349.5h0M303.4 376.5h0M299.4 390.5h0M303.4 399.4h0M308.0 399.4h0M298.6 408.5h0M303.7 416.6h0M305.6 424.1h0M415.6 396.2h0M413.5 418.4h0M414.9 430.4h0" stroke="#acacac" stroke-width="2.9" stroke-linecap="round" fill="none"/>
<g stroke="#000" fill="none">
<line x1="55" y1="35.7" x2="55" y2="515.8" stroke-width="1.8"/>
<line x1="50" y1="514.9" x2="509" y2="514.9" stroke-width="1.8"/>
<line x1="50" y1="396.70" x2="55" y2="396.70" stroke-width="1.1"/>
<line x1="50" y1="278.50" x2="55" y2="278.50" stroke-width="1.1"/>
<line x1="50" y1="160.30" x2="55" y2="160.30" stroke-width="1.1"/>
<line x1="50" y1="42.10" x2="55" y2="42.10" stroke-width="1.1"/>
<line x1="87" y1="515" x2="87" y2="519.6" stroke-width="1.1"/>
<line x1="108.6" y1="515" x2="108.6" y2="519.6" stroke-width="1.1"/>
<line x1="129.2" y1="515" x2="129.2" y2="519.6" stroke-width="1.1"/>
<line x1="147.2" y1="515" x2="147.2" y2="519.6" stroke-width="1.1"/>
<line x1="165" y1="515" x2="165" y2="519.6" stroke-width="1.1"/>
<line x1="184.2" y1="515" x2="184.2" y2="519.6" stroke-width="1.1"/>
<line x1="205.8" y1="515" x2="205.8" y2="519.6" stroke-width="1.1"/>
<line x1="227.5" y1="515" x2="227.5" y2="519.6" stroke-width="1.1"/>
<line x1="247" y1="515" x2="247" y2="519.6" stroke-width="1.1"/>
<line x1="266.3" y1="515" x2="266.3" y2="519.6" stroke-width="1.1"/>
<line x1="288" y1="515" x2="288" y2="519.6" stroke-width="1.1"/>
<line x1="309.3" y1="515" x2="309.3" y2="519.6" stroke-width="1.1"/>
<line x1="328" y1="515" x2="328" y2="519.6" stroke-width="1.1"/>
<line x1="346.3" y1="515" x2="346.3" y2="519.6" stroke-width="1.1"/>
<line x1="366.3" y1="515" x2="366.3" y2="519.6" stroke-width="1.1"/>
<line x1="385.6" y1="515" x2="385.6" y2="519.6" stroke-width="1.1"/>
<line x1="404.4" y1="515" x2="404.4" y2="519.6" stroke-width="1.1"/>
<line x1="417.4" y1="515" x2="417.4" y2="519.6" stroke-width="1.1"/>
<line x1="432.4" y1="515" x2="432.4" y2="519.6" stroke-width="1.1"/>
<line x1="446.9" y1="515" x2="446.9" y2="519.6" stroke-width="1.1"/>
<line x1="457.9" y1="515" x2="457.9" y2="519.6" stroke-width="1.1"/>
<line x1="471" y1="515" x2="471" y2="519.6" stroke-width="1.1"/>
<line x1="488.4" y1="515" x2="488.4" y2="519.6" stroke-width="1.1"/>
<line x1="499.8" y1="515" x2="499.8" y2="519.6" stroke-width="1.1"/>
</g>
<g font-size="10.9" fill="#1a1a1a" text-anchor="end">
<text x="45.6" y="518.50">0</text>
<text x="45.6" y="400.30">3</text>
<text x="45.6" y="282.10">6</text>
<text x="45.6" y="163.90">9</text>
<text x="45.6" y="45.70">12</text>
</g>
<g font-size="10.6" fill="#1a1a1a">
<text x="83.63" y="532.6" textLength="5.66" lengthAdjust="spacingAndGlyphs">1</text>
<text x="105.35" y="532.6" textLength="7.2" lengthAdjust="spacingAndGlyphs">2</text>
<text x="125.53" y="532.6" textLength="6.91" lengthAdjust="spacingAndGlyphs">3</text>
<text x="143.81" y="532.6" textLength="7.27" lengthAdjust="spacingAndGlyphs">4</text>
<text x="161.5" y="532.6" textLength="6.91" lengthAdjust="spacingAndGlyphs">5</text>
<text x="180.95" y="532.6" textLength="7.21" lengthAdjust="spacingAndGlyphs">6</text>
<text x="202.13" y="532.6" textLength="7.33" lengthAdjust="spacingAndGlyphs">7</text>
<text x="224.45" y="532.6" textLength="7.1" lengthAdjust="spacingAndGlyphs">8</text>
<text x="243.5" y="532.6" textLength="7.21" lengthAdjust="spacingAndGlyphs">9</text>
<text x="260.65" y="532.6" textLength="12.48" lengthAdjust="spacingAndGlyphs">10</text>
<text x="282.29" y="532.6" textLength="11.13" lengthAdjust="spacingAndGlyphs">11</text>
<text x="303.8" y="532.6" textLength="11.73" lengthAdjust="spacingAndGlyphs">12</text>
<text x="321.85" y="532.6" textLength="12.43" lengthAdjust="spacingAndGlyphs">13</text>
<text x="340.7" y="532.6" textLength="11.71" lengthAdjust="spacingAndGlyphs">14</text>
<text x="361.17" y="532.6" textLength="12.19" lengthAdjust="spacingAndGlyphs">15</text>
<text x="379.94" y="532.6" textLength="12.55" lengthAdjust="spacingAndGlyphs">16</text>
<text x="399.23" y="532.6" textLength="11.28" lengthAdjust="spacingAndGlyphs">17</text>
<text x="411.27" y="532.6" textLength="12.1" lengthAdjust="spacingAndGlyphs">18</text>
<text x="426.7" y="532.6" textLength="11.7" lengthAdjust="spacingAndGlyphs">19</text>
<text x="440.47" y="532.6" textLength="11.84" lengthAdjust="spacingAndGlyphs">20</text>
<text x="453.04" y="532.6" textLength="10.31" lengthAdjust="spacingAndGlyphs">21</text>
<text x="464.86" y="532.6" textLength="12.09" lengthAdjust="spacingAndGlyphs">22</text>
<text x="484.76" y="532.6" textLength="7.38" lengthAdjust="spacingAndGlyphs">X</text>
<text x="496.27" y="532.6" textLength="7.07" lengthAdjust="spacingAndGlyphs">Y</text>
</g>
<text x="250.3" y="552" font-size="13.4" fill="#1a1a1a" textLength="63.5" lengthAdjust="spacingAndGlyphs">Chromosome</text>
<text transform="translate(22.3,312.6) rotate(-90)" font-size="13.2" fill="#1a1a1a" textLength="75" lengthAdjust="spacingAndGlyphs">−log<tspan font-size="9.5" dy="3">10</tspan><tspan dy="-3">(</tspan><tspan font-style="italic">P</tspan> value)</text>
<circle cx="128" cy="74.2" r="1.45" fill="#698e3a"/>
<text x="134.4" y="78.8" font-size="10" font-style="italic" fill="#1a1a1a" textLength="89.3" lengthAdjust="spacingAndGlyphs">PROS1 (14/19,11.8)</text>
<circle cx="307.8" cy="170.2" r="1.45" fill="#b0b0b0"/>
<text x="313.8" y="174.2" font-size="10" font-style="italic" fill="#1a1a1a" textLength="90" lengthAdjust="spacingAndGlyphs">STAB2 (31/141, 3.4)</text>
<circle cx="109.3" cy="275.9" r="1.45" fill="#44668c"/>
<text x="116.5" y="279.8" font-size="10" font-style="italic" fill="#1a1a1a" textLength="78.5" lengthAdjust="spacingAndGlyphs">PROC (7/10, 11.0)</text>
<circle cx="91.5" cy="287.5" r="1.45" fill="#706b9e"/>
<text x="98.5" y="291" font-size="10" font-style="italic" fill="#1a1a1a" textLength="95" lengthAdjust="spacingAndGlyphs">SERPINC1 (7/13, 8.5)</text>
<text transform="translate(10.6,594.4) scale(1.05,1)" font-size="18.4" font-weight="bold" fill="#000">B</text>
<rect x="54.8" y="603.8" width="441.7" height="395.4" fill="none" stroke="#000" stroke-width="1.6"/>
<g stroke="#000" stroke-width="1.1">
<line x1="50" y1="984.80" x2="54.8" y2="984.80"/>
<line x1="50" y1="900.52" x2="54.8" y2="900.52"/>
<line x1="50" y1="816.24" x2="54.8" y2="816.24"/>
<line x1="50" y1="731.96" x2="54.8" y2="731.96"/>
<line x1="50" y1="647.68" x2="54.8" y2="647.68"/>
<line x1="70.80" y1="999.2" x2="70.80" y2="1003.8"/>
<line x1="166.30" y1="999.2" x2="166.30" y2="1003.8"/>
<line x1="261.80" y1="999.2" x2="261.80" y2="1003.8"/>
<line x1="357.30" y1="999.2" x2="357.30" y2="1003.8"/>
<line x1="452.80" y1="999.2" x2="452.80" y2="1003.8"/>
</g>
<g font-size="10.9" fill="#1a1a1a" text-anchor="end">
<text x="45.7" y="988.40">0</text>
<text x="45.7" y="904.12">2</text>
<text x="45.7" y="819.84">4</text>
<text x="45.7" y="735.56">6</text>
<text x="45.7" y="651.28">8</text>
</g>
<g font-size="10.4" fill="#1a1a1a" text-anchor="middle">
<text x="70.80" y="1017.7">0</text>
<text x="166.30" y="1017.7">1</text>
<text x="261.80" y="1017.7">2</text>
<text x="357.30" y="1017.7">3</text>
<text x="452.80" y="1017.7">4</text>
</g>
<text x="173.9" y="1035.7" font-size="11" fill="#1a1a1a" textLength="204" lengthAdjust="spacingAndGlyphs">Expected −log<tspan font-size="8" dy="2.5">10</tspan><tspan dy="-2.5">(</tspan><tspan font-style="italic">p</tspan>) lambda factor: 1.03975</text>
<text transform="translate(27.2,848) rotate(-90)" font-size="13.5" fill="#1a1a1a" textLength="93" lengthAdjust="spacingAndGlyphs">Observed −log<tspan font-size="9.5" dy="3">10</tspan><tspan dy="-3">(</tspan><tspan font-style="italic">p</tspan>)</text>
<path d="M69.8 981.4h0M70.8 981.7h0M71.2 980.5h0M72.5 980.2h0M73.4 980.0h0M73.9 980.1h0M74.8 979.7h0M75.3 978.5h0M76.3 978.0h0M77.2 977.5h0M78.1 977.9h0M78.8 977.5h0M79.7 977.3h0M80.3 977.2h0M81.2 976.5h0M82.2 975.3h0M82.7 975.3h0M83.8 976.3h0M84.1 975.6h0M84.9 974.9h0M86.0 975.3h0M86.6 974.3h0M87.4 973.5h0M88.4 973.7h0M89.2 972.4h0M90.2 972.5h0M90.8 973.8h0M91.3 971.1h0M92.5 973.0h0M93.1 970.7h0M94.1 971.3h0M94.7 970.7h0M95.7 970.7h0M96.6 970.6h0M97.0 970.9h0M97.7 970.3h0M98.9 969.2h0M99.2 970.0h0M100.4 968.7h0M101.0 968.3h0M101.9 969.2h0M103.0 966.7h0M103.6 967.3h0M104.0 967.2h0M105.2 966.8h0M105.7 966.8h0M106.6 967.0h0M107.8 965.9h0M108.3 965.7h0M109.1 964.6h0M109.9 964.1h0M110.8 963.6h0M111.5 964.4h0M112.4 963.2h0M113.4 963.2h0M113.9 963.2h0M114.6 962.3h0M115.5 962.0h0M116.4 962.5h0M116.8 961.5h0M118.0 960.6h0M118.6 960.2h0M119.2 960.1h0M120.0 959.1h0M121.0 959.0h0M121.9 958.0h0M122.6 958.5h0M123.4 958.3h0M124.2 957.7h0M125.0 958.4h0M125.9 957.6h0M126.8 957.1h0M127.7 956.8h0M128.1 957.0h0M129.2 956.5h0M129.7 956.5h0M130.9 955.5h0M131.5 955.8h0M132.2 955.3h0M133.2 954.5h0M133.7 954.9h0M134.5 953.7h0M135.7 953.5h0M136.5 953.4h0M137.3 953.4h0M138.0 953.3h0M138.5 952.7h0M139.4 951.8h0M140.2 952.1h0M141.1 951.2h0M142.2 950.9h0M142.5 951.3h0M143.7 952.1h0M144.6 950.5h0M145.4 948.9h0M145.7 950.4h0M146.8 949.5h0M147.5 948.2h0M148.1 948.9h0M148.8 949.2h0M150.1 948.0h0M150.4 947.8h0M151.8 948.5h0M152.5 947.0h0M152.8 947.8h0M154.0 946.5h0M154.8 946.8h0M155.5 946.7h0M156.4 944.9h0M157.0 946.4h0M157.9 945.4h0M158.9 946.2h0M159.5 944.6h0M160.5 944.8h0M161.4 944.6h0M162.1 944.7h0M162.8 943.5h0M163.7 943.1h0M164.2 943.2h0M165.1 942.6h0M166.1 941.6h0M166.4 942.1h0M167.3 941.7h0M168.0 941.2h0M168.9 941.8h0M169.9 940.2h0M170.6 939.9h0M171.6 940.2h0M172.1 938.9h0M173.0 938.8h0M174.0 939.2h0M174.6 938.9h0M175.4 938.3h0M176.4 937.9h0M177.3 937.5h0M178.0 936.5h0M178.7 936.2h0M179.6 936.5h0M180.3 935.2h0M180.9 936.0h0M181.6 934.5h0M182.7 934.8h0M183.8 933.6h0M184.2 934.8h0M185.0 934.7h0M185.9 933.0h0M186.8 934.0h0M187.7 933.6h0M188.4 932.8h0M189.1 931.4h0M189.6 932.5h0M190.5 932.0h0M191.3 931.2h0M192.1 930.7h0M192.8 930.8h0M194.1 929.9h0M194.8 930.6h0M195.7 930.2h0M196.5 929.9h0M196.8 928.6h0M198.0 928.6h0M198.5 927.5h0M199.2 927.8h0M200.2 926.2h0M200.9 926.2h0M201.7 926.3h0M202.9 926.4h0M203.4 926.8h0M204.2 925.3h0M205.1 925.8h0M206.2 925.6h0M206.6 925.0h0M207.6 924.3h0M208.5 923.6h0M209.1 923.3h0M210.0 922.6h0M210.5 923.1h0M211.6 922.3h0M212.3 922.8h0M213.2 921.5h0M213.7 921.6h0M214.8 921.5h0M215.6 920.6h0M216.6 920.8h0M217.0 919.8h0M218.1 920.5h0M218.5 919.0h0M219.2 918.8h0M220.1 918.1h0M221.0 918.4h0M221.7 917.5h0M223.0 918.5h0M223.5 916.5h0M224.5 917.0h0M225.1 916.9h0M226.0 915.6h0M226.8 916.2h0M227.8 915.1h0M228.1 914.8h0M229.2 914.9h0M230.1 913.8h0M230.5 912.8h0M231.3 913.9h0M232.4 913.8h0M233.0 913.8h0M234.1 911.8h0M234.8 912.1h0M235.3 912.5h0M236.2 912.5h0M237.0 911.8h0M237.6 910.2h0M238.6 910.2h0M239.3 909.6h0M240.4 910.1h0M241.1 910.0h0M241.7 909.0h0M242.5 908.7h0M243.7 909.3h0M244.6 908.3h0M245.0 907.6h0M245.8 907.5h0M246.8 906.1h0M247.4 906.1h0M248.5 905.5h0M249.1 906.8h0M249.7 905.4h0M250.8 904.8h0M251.6 905.0h0M252.4 904.3h0M253.2 904.1h0M254.0 904.4h0M254.5 904.6h0M255.4 903.5h0M256.4 902.7h0M257.2 901.9h0M257.9 901.7h0M258.4 901.6h0M259.6 901.7h0M260.4 901.1h0M261.0 900.0h0M262.1 900.3h0M262.4 900.6h0M263.7 899.3h0M264.2 899.3h0M265.1 898.7h0M266.1 899.1h0M266.5 897.6h0M267.4 898.8h0M268.5 897.8h0M269.2 897.4h0M269.8 897.0h0M270.8 896.8h0M271.6 896.5h0M272.1 895.0h0M273.1 895.2h0M273.9 895.3h0M274.9 894.9h0M275.2 894.8h0M276.6 894.4h0M277.0 892.6h0M278.0 892.6h0M279.0 892.7h0M279.7 892.5h0M280.3 891.9h0M280.8 891.2h0M282.1 891.1h0M282.7 890.9h0M283.5 890.3h0M284.0 890.8h0M285.1 890.8h0M285.9 889.5h0M287.0 889.0h0M287.7 889.3h0M288.4 888.6h0M288.9 888.9h0M289.6 888.2h0M290.6 886.5h0M291.7 887.1h0M292.5 886.9h0M293.2 886.4h0M294.0 887.1h0M294.6 885.6h0M295.7 886.0h0M296.3 884.1h0M296.9 884.9h0M297.6 883.9h0M298.5 884.5h0M299.5 884.0h0M300.3 883.3h0M301.2 882.5h0M302.1 882.6h0M302.6 883.0h0M303.6 882.6h0M304.2 882.8h0M305.2 880.9h0M305.7 881.5h0M306.9 881.1h0M307.3 880.3h0M308.1 879.6h0M308.9 879.7h0M309.6 879.0h0M310.5 879.1h0M311.2 878.9h0M312.0 878.8h0M313.2 877.3h0M313.6 877.7h0M314.4 876.7h0M315.8 877.1h0M316.3 876.5h0M316.9 876.3h0M317.7 875.4h0M318.4 875.0h0M319.7 875.0h0M320.3 874.3h0M320.9 874.9h0M321.8 874.0h0M322.6 874.3h0M323.3 873.0h0M324.4 872.9h0M324.8 871.9h0M325.7 873.2h0M326.4 872.8h0M327.7 873.2h0M328.1 872.5h0M329.3 872.6h0M330.2 871.7h0M330.6 871.7h0M331.6 871.3h0M332.2 871.3h0M333.3 870.8h0M333.8 871.1h0M334.8 870.8h0M335.6 870.5h0M336.4 869.9h0M337.4 870.2h0M337.8 869.0h0M338.9 869.0h0M339.5 869.3h0M340.4 868.8h0M341.2 868.9h0M341.9 868.1h0M342.5 867.4h0M343.5 867.5h0M344.5 867.1h0M344.9 866.8h0M346.1 866.3h0M346.9 865.5h0" fill="none" stroke="#000" stroke-width="4.9" stroke-linecap="round"/>
<circle cx="480.5" cy="618" r="2.25" fill="#000"/>
<circle cx="434.8" cy="708" r="2.25" fill="#000"/>
<circle cx="413.8" cy="795.4" r="2.25" fill="#000"/>
<circle cx="399.6" cy="817.7" r="2.25" fill="#000"/>
<circle cx="389.2" cy="831.1" r="2.25" fill="#000"/>
<circle cx="381" cy="849.8" r="2.25" fill="#000"/>
<circle cx="374" cy="855.8" r="2.25" fill="#000"/>
<circle cx="368.3" cy="856.3" r="2.25" fill="#000"/>
<circle cx="362.8" cy="858" r="2.25" fill="#000"/>
<circle cx="358" cy="857.7" r="2.25" fill="#000"/>
<circle cx="354.1" cy="860.2" r="2.25" fill="#000"/>
<circle cx="350.2" cy="859.8" r="2.25" fill="#000"/>
<line x1="55.5" y1="991.4" x2="496.3" y2="797.4" stroke="#a7102b" stroke-width="2.4"/>
<text x="441.4" y="621.6" font-size="10" font-style="italic" fill="#1a1a1a" textLength="32.2" lengthAdjust="spacingAndGlyphs">PROS1</text>
<text x="397.7" y="711.6" font-size="10" font-style="italic" fill="#1a1a1a" textLength="30.4" lengthAdjust="spacingAndGlyphs">STAB2</text>
<text x="378.6" y="799.2" font-size="10" font-style="italic" fill="#1a1a1a" textLength="28.2" lengthAdjust="spacingAndGlyphs">PROC</text>
<text x="351.2" y="821.3" font-size="10" font-style="italic" fill="#1a1a1a" textLength="41.8" lengthAdjust="spacingAndGlyphs">SERINC1</text>
<rect x="0.9" y="0.9" width="518.2" height="1052.2" fill="none" stroke="#000" stroke-width="1.8"/>
</svg></body></html>
